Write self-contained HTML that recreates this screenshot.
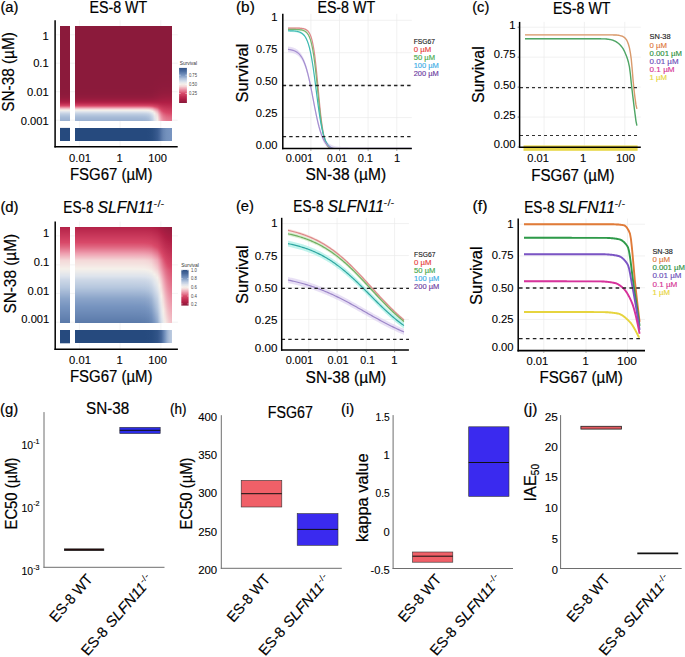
<!DOCTYPE html>
<html><head><meta charset="utf-8"><style>
html,body{margin:0;padding:0;background:#fff;width:685px;height:657px;overflow:hidden}
svg{display:block}
text{font-family:"Liberation Sans",sans-serif}
</style></head><body>
<svg width="685" height="657" viewBox="0 0 685 657">
<rect width="685" height="657" fill="#fff"/>
<line x1="55" y1="34.8" x2="177.7" y2="34.8" stroke="#ebebeb" stroke-width="0.6"/>
<line x1="55" y1="63.2" x2="177.7" y2="63.2" stroke="#ebebeb" stroke-width="0.6"/>
<line x1="55" y1="91.7" x2="177.7" y2="91.7" stroke="#ebebeb" stroke-width="0.6"/>
<line x1="55" y1="120.2" x2="177.7" y2="120.2" stroke="#ebebeb" stroke-width="0.6"/>
<line x1="79.4" y1="20.3" x2="79.4" y2="146.8" stroke="#ebebeb" stroke-width="0.6"/>
<line x1="120.1" y1="20.3" x2="120.1" y2="146.8" stroke="#ebebeb" stroke-width="0.6"/>
<line x1="160.8" y1="20.3" x2="160.8" y2="146.8" stroke="#ebebeb" stroke-width="0.6"/>
<rect x="75" y="25.6" width="97" height="0.4" fill="#8b1a3b" shape-rendering="crispEdges"/>
<rect x="75" y="26" width="97" height="1" fill="#8b1a3b" shape-rendering="crispEdges"/>
<rect x="75" y="27" width="97" height="1" fill="#8b1a3b" shape-rendering="crispEdges"/>
<rect x="75" y="28" width="97" height="1" fill="#8b1a3b" shape-rendering="crispEdges"/>
<rect x="75" y="29" width="97" height="1" fill="#8b1a3b" shape-rendering="crispEdges"/>
<rect x="75" y="30" width="97" height="1" fill="#8b1a3b" shape-rendering="crispEdges"/>
<rect x="75" y="31" width="97" height="1" fill="#8b1a3b" shape-rendering="crispEdges"/>
<rect x="75" y="32" width="97" height="1" fill="#8b1a3b" shape-rendering="crispEdges"/>
<rect x="75" y="33" width="97" height="1" fill="#8b1a3b" shape-rendering="crispEdges"/>
<rect x="75" y="34" width="97" height="1" fill="#8b1a3b" shape-rendering="crispEdges"/>
<rect x="75" y="35" width="97" height="1" fill="#8b1a3b" shape-rendering="crispEdges"/>
<rect x="75" y="36" width="97" height="1" fill="#8b1a3b" shape-rendering="crispEdges"/>
<rect x="75" y="37" width="97" height="1" fill="#8b1a3b" shape-rendering="crispEdges"/>
<rect x="75" y="38" width="97" height="1" fill="#8b1a3b" shape-rendering="crispEdges"/>
<rect x="75" y="39" width="97" height="1" fill="#8b1a3b" shape-rendering="crispEdges"/>
<rect x="75" y="40" width="97" height="1" fill="#8b1a3b" shape-rendering="crispEdges"/>
<rect x="75" y="41" width="97" height="1" fill="#8b1a3b" shape-rendering="crispEdges"/>
<rect x="75" y="42" width="97" height="1" fill="#8b1a3b" shape-rendering="crispEdges"/>
<rect x="75" y="43" width="97" height="1" fill="#8b1a3b" shape-rendering="crispEdges"/>
<rect x="75" y="44" width="97" height="1" fill="#8b1a3b" shape-rendering="crispEdges"/>
<rect x="75" y="45" width="97" height="1" fill="#8b1a3b" shape-rendering="crispEdges"/>
<rect x="75" y="46" width="97" height="1" fill="#8b1a3b" shape-rendering="crispEdges"/>
<rect x="75" y="47" width="97" height="1" fill="#8b1a3b" shape-rendering="crispEdges"/>
<rect x="75" y="48" width="97" height="1" fill="#8b1a3b" shape-rendering="crispEdges"/>
<rect x="75" y="49" width="97" height="1" fill="#8b1a3b" shape-rendering="crispEdges"/>
<rect x="75" y="50" width="97" height="1" fill="#8b1a3b" shape-rendering="crispEdges"/>
<rect x="75" y="51" width="97" height="1" fill="#8b1a3b" shape-rendering="crispEdges"/>
<rect x="75" y="52" width="97" height="1" fill="#8b1a3b" shape-rendering="crispEdges"/>
<rect x="75" y="53" width="97" height="1" fill="#8b1a3b" shape-rendering="crispEdges"/>
<rect x="75" y="54" width="97" height="1" fill="#8b1a3b" shape-rendering="crispEdges"/>
<rect x="75" y="55" width="97" height="1" fill="#8b1a3b" shape-rendering="crispEdges"/>
<rect x="75" y="56" width="97" height="1" fill="#8b1a3b" shape-rendering="crispEdges"/>
<rect x="75" y="57" width="97" height="1" fill="#8b1a3b" shape-rendering="crispEdges"/>
<rect x="75" y="58" width="97" height="1" fill="#8b1a3b" shape-rendering="crispEdges"/>
<rect x="75" y="59" width="97" height="1" fill="#8b1a3b" shape-rendering="crispEdges"/>
<rect x="75" y="60" width="97" height="1" fill="#8b1a3b" shape-rendering="crispEdges"/>
<rect x="75" y="61" width="97" height="1" fill="#8b1a3b" shape-rendering="crispEdges"/>
<rect x="75" y="62" width="97" height="1" fill="#8b1a3b" shape-rendering="crispEdges"/>
<rect x="75" y="63" width="97" height="1" fill="#8b1a3b" shape-rendering="crispEdges"/>
<rect x="75" y="64" width="97" height="1" fill="#8b1a3b" shape-rendering="crispEdges"/>
<rect x="75" y="65" width="97" height="1" fill="#8b1a3b" shape-rendering="crispEdges"/>
<rect x="75" y="66" width="97" height="1" fill="#8b1a3b" shape-rendering="crispEdges"/>
<rect x="75" y="67" width="97" height="1" fill="#8b1a3b" shape-rendering="crispEdges"/>
<rect x="75" y="68" width="97" height="1" fill="#8b1a3b" shape-rendering="crispEdges"/>
<rect x="75" y="69" width="97" height="1" fill="#8b1a3b" shape-rendering="crispEdges"/>
<rect x="75" y="70" width="97" height="1" fill="#8b1a3b" shape-rendering="crispEdges"/>
<rect x="75" y="71" width="97" height="1" fill="#8b1a3b" shape-rendering="crispEdges"/>
<rect x="75" y="72" width="97" height="1" fill="#8b1a3b" shape-rendering="crispEdges"/>
<rect x="75" y="73" width="97" height="1" fill="#8b1a3b" shape-rendering="crispEdges"/>
<rect x="75" y="74" width="97" height="1" fill="#8b1a3b" shape-rendering="crispEdges"/>
<linearGradient id="g1"><stop offset="0" stop-color="#8b1a3b"/><stop offset="0.46" stop-color="#8b1a3b"/><stop offset="0.62" stop-color="#8b1a3b"/><stop offset="0.69" stop-color="#8b1a3b"/><stop offset="0.73" stop-color="#8b1a3b"/><stop offset="0.76" stop-color="#8b1a3b"/><stop offset="0.78" stop-color="#8b1a3b"/><stop offset="0.8" stop-color="#8b1a3b"/><stop offset="0.82" stop-color="#8b1a3b"/><stop offset="0.85" stop-color="#8b1a3b"/><stop offset="0.87" stop-color="#8b1a3b"/><stop offset="0.89" stop-color="#8b1a3b"/><stop offset="0.91" stop-color="#8c1a3b"/><stop offset="0.94" stop-color="#8c1a3b"/><stop offset="0.97" stop-color="#8c1a3b"/><stop offset="1" stop-color="#8c1a3b"/></linearGradient>
<rect x="75" y="75" width="97" height="1" fill="url(#g1)" shape-rendering="crispEdges"/>
<linearGradient id="g2"><stop offset="0" stop-color="#8b1a3b"/><stop offset="0.46" stop-color="#8b1a3b"/><stop offset="0.62" stop-color="#8b1a3b"/><stop offset="0.69" stop-color="#8b1a3b"/><stop offset="0.73" stop-color="#8b1a3b"/><stop offset="0.76" stop-color="#8b1a3b"/><stop offset="0.78" stop-color="#8b1a3b"/><stop offset="0.8" stop-color="#8b1a3b"/><stop offset="0.82" stop-color="#8b1a3b"/><stop offset="0.85" stop-color="#8b1a3b"/><stop offset="0.87" stop-color="#8b1a3b"/><stop offset="0.89" stop-color="#8c1a3b"/><stop offset="0.91" stop-color="#8c1a3b"/><stop offset="0.94" stop-color="#8c1a3b"/><stop offset="0.97" stop-color="#8c1a3b"/><stop offset="1" stop-color="#8c1a3b"/></linearGradient>
<rect x="75" y="76" width="97" height="1" fill="url(#g2)" shape-rendering="crispEdges"/>
<linearGradient id="g3"><stop offset="0" stop-color="#8b1a3b"/><stop offset="0.46" stop-color="#8b1a3b"/><stop offset="0.62" stop-color="#8b1a3b"/><stop offset="0.69" stop-color="#8b1a3b"/><stop offset="0.73" stop-color="#8b1a3b"/><stop offset="0.76" stop-color="#8b1a3b"/><stop offset="0.78" stop-color="#8b1a3b"/><stop offset="0.8" stop-color="#8b1a3b"/><stop offset="0.82" stop-color="#8b1a3b"/><stop offset="0.85" stop-color="#8b1a3b"/><stop offset="0.87" stop-color="#8c1a3b"/><stop offset="0.89" stop-color="#8c1a3b"/><stop offset="0.91" stop-color="#8c1a3b"/><stop offset="0.94" stop-color="#8c1a3b"/><stop offset="0.97" stop-color="#8c1a3b"/><stop offset="1" stop-color="#8c1a3b"/></linearGradient>
<rect x="75" y="77" width="97" height="1" fill="url(#g3)" shape-rendering="crispEdges"/>
<linearGradient id="g4"><stop offset="0" stop-color="#8b1a3b"/><stop offset="0.46" stop-color="#8b1a3b"/><stop offset="0.62" stop-color="#8b1a3b"/><stop offset="0.69" stop-color="#8b1a3b"/><stop offset="0.73" stop-color="#8b1a3b"/><stop offset="0.76" stop-color="#8b1a3b"/><stop offset="0.78" stop-color="#8b1a3b"/><stop offset="0.8" stop-color="#8b1a3b"/><stop offset="0.82" stop-color="#8b1a3b"/><stop offset="0.85" stop-color="#8b1a3b"/><stop offset="0.87" stop-color="#8c1a3b"/><stop offset="0.89" stop-color="#8c1a3b"/><stop offset="0.91" stop-color="#8c1a3b"/><stop offset="0.94" stop-color="#8c1a3b"/><stop offset="0.97" stop-color="#8c1a3b"/><stop offset="1" stop-color="#8c1a3b"/></linearGradient>
<rect x="75" y="78" width="97" height="1" fill="url(#g4)" shape-rendering="crispEdges"/>
<linearGradient id="g5"><stop offset="0" stop-color="#8b1a3b"/><stop offset="0.46" stop-color="#8b1a3b"/><stop offset="0.62" stop-color="#8b1a3b"/><stop offset="0.69" stop-color="#8b1a3b"/><stop offset="0.73" stop-color="#8b1a3b"/><stop offset="0.76" stop-color="#8b1a3b"/><stop offset="0.78" stop-color="#8b1a3b"/><stop offset="0.8" stop-color="#8b1a3b"/><stop offset="0.82" stop-color="#8b1a3b"/><stop offset="0.85" stop-color="#8c1a3b"/><stop offset="0.87" stop-color="#8c1a3b"/><stop offset="0.89" stop-color="#8c1a3b"/><stop offset="0.91" stop-color="#8c1a3b"/><stop offset="0.94" stop-color="#8c1a3b"/><stop offset="0.97" stop-color="#8c1a3b"/><stop offset="1" stop-color="#8c1a3b"/></linearGradient>
<rect x="75" y="79" width="97" height="1" fill="url(#g5)" shape-rendering="crispEdges"/>
<linearGradient id="g6"><stop offset="0" stop-color="#8b1a3b"/><stop offset="0.46" stop-color="#8b1a3b"/><stop offset="0.62" stop-color="#8b1a3b"/><stop offset="0.69" stop-color="#8b1a3b"/><stop offset="0.73" stop-color="#8b1a3b"/><stop offset="0.76" stop-color="#8b1a3b"/><stop offset="0.78" stop-color="#8b1a3b"/><stop offset="0.8" stop-color="#8b1a3b"/><stop offset="0.82" stop-color="#8b1a3b"/><stop offset="0.85" stop-color="#8c1a3b"/><stop offset="0.87" stop-color="#8c1a3b"/><stop offset="0.89" stop-color="#8c1a3b"/><stop offset="0.91" stop-color="#8c1a3b"/><stop offset="0.94" stop-color="#8c1a3b"/><stop offset="0.97" stop-color="#8c1a3b"/><stop offset="1" stop-color="#8c1a3b"/></linearGradient>
<rect x="75" y="80" width="97" height="1" fill="url(#g6)" shape-rendering="crispEdges"/>
<linearGradient id="g7"><stop offset="0" stop-color="#8b1a3b"/><stop offset="0.46" stop-color="#8b1a3b"/><stop offset="0.62" stop-color="#8b1a3b"/><stop offset="0.69" stop-color="#8b1a3b"/><stop offset="0.73" stop-color="#8b1a3b"/><stop offset="0.76" stop-color="#8b1a3b"/><stop offset="0.78" stop-color="#8b1a3b"/><stop offset="0.8" stop-color="#8b1a3b"/><stop offset="0.82" stop-color="#8c1a3b"/><stop offset="0.85" stop-color="#8c1a3b"/><stop offset="0.87" stop-color="#8c1a3b"/><stop offset="0.89" stop-color="#8c1a3b"/><stop offset="0.91" stop-color="#8c1a3b"/><stop offset="0.94" stop-color="#8d1a3b"/><stop offset="0.97" stop-color="#8d1a3b"/><stop offset="1" stop-color="#8d1a3b"/></linearGradient>
<rect x="75" y="81" width="97" height="1" fill="url(#g7)" shape-rendering="crispEdges"/>
<linearGradient id="g8"><stop offset="0" stop-color="#8b1a3b"/><stop offset="0.46" stop-color="#8b1a3b"/><stop offset="0.62" stop-color="#8b1a3b"/><stop offset="0.69" stop-color="#8b1a3b"/><stop offset="0.73" stop-color="#8b1a3b"/><stop offset="0.76" stop-color="#8b1a3b"/><stop offset="0.78" stop-color="#8b1a3b"/><stop offset="0.8" stop-color="#8b1a3b"/><stop offset="0.82" stop-color="#8c1a3b"/><stop offset="0.85" stop-color="#8c1a3b"/><stop offset="0.87" stop-color="#8c1a3b"/><stop offset="0.89" stop-color="#8d1a3b"/><stop offset="0.91" stop-color="#8d1a3b"/><stop offset="0.94" stop-color="#8d1a3b"/><stop offset="0.97" stop-color="#8d1a3b"/><stop offset="1" stop-color="#8d1a3b"/></linearGradient>
<rect x="75" y="82" width="97" height="1" fill="url(#g8)" shape-rendering="crispEdges"/>
<linearGradient id="g9"><stop offset="0" stop-color="#8b1a3b"/><stop offset="0.46" stop-color="#8b1a3b"/><stop offset="0.62" stop-color="#8b1a3b"/><stop offset="0.69" stop-color="#8b1a3b"/><stop offset="0.73" stop-color="#8b1a3b"/><stop offset="0.76" stop-color="#8b1a3b"/><stop offset="0.78" stop-color="#8b1a3b"/><stop offset="0.8" stop-color="#8b1a3b"/><stop offset="0.82" stop-color="#8c1a3b"/><stop offset="0.85" stop-color="#8c1a3b"/><stop offset="0.87" stop-color="#8d1a3b"/><stop offset="0.89" stop-color="#8d1a3b"/><stop offset="0.91" stop-color="#8d1a3c"/><stop offset="0.94" stop-color="#8d1a3c"/><stop offset="0.97" stop-color="#8d1a3c"/><stop offset="1" stop-color="#8d1a3c"/></linearGradient>
<rect x="75" y="83" width="97" height="1" fill="url(#g9)" shape-rendering="crispEdges"/>
<linearGradient id="g10"><stop offset="0" stop-color="#8b1a3b"/><stop offset="0.46" stop-color="#8b1a3b"/><stop offset="0.62" stop-color="#8b1a3b"/><stop offset="0.69" stop-color="#8b1a3b"/><stop offset="0.73" stop-color="#8b1a3b"/><stop offset="0.76" stop-color="#8b1a3b"/><stop offset="0.78" stop-color="#8b1a3b"/><stop offset="0.8" stop-color="#8c1a3b"/><stop offset="0.82" stop-color="#8c1a3b"/><stop offset="0.85" stop-color="#8c1a3b"/><stop offset="0.87" stop-color="#8d1a3b"/><stop offset="0.89" stop-color="#8d1a3c"/><stop offset="0.91" stop-color="#8d1a3c"/><stop offset="0.94" stop-color="#8d1a3c"/><stop offset="0.97" stop-color="#8e1a3c"/><stop offset="1" stop-color="#8e1a3c"/></linearGradient>
<rect x="75" y="84" width="97" height="1" fill="url(#g10)" shape-rendering="crispEdges"/>
<linearGradient id="g11"><stop offset="0" stop-color="#8b1a3b"/><stop offset="0.46" stop-color="#8b1a3b"/><stop offset="0.62" stop-color="#8b1a3b"/><stop offset="0.69" stop-color="#8b1a3b"/><stop offset="0.73" stop-color="#8b1a3b"/><stop offset="0.76" stop-color="#8b1a3b"/><stop offset="0.78" stop-color="#8b1a3b"/><stop offset="0.8" stop-color="#8c1a3b"/><stop offset="0.82" stop-color="#8c1a3b"/><stop offset="0.85" stop-color="#8d1a3b"/><stop offset="0.87" stop-color="#8d1a3c"/><stop offset="0.89" stop-color="#8e1a3c"/><stop offset="0.91" stop-color="#8e1a3c"/><stop offset="0.94" stop-color="#8e1a3c"/><stop offset="0.97" stop-color="#8e1a3c"/><stop offset="1" stop-color="#8e1a3c"/></linearGradient>
<rect x="75" y="85" width="97" height="1" fill="url(#g11)" shape-rendering="crispEdges"/>
<linearGradient id="g12"><stop offset="0" stop-color="#8b1a3b"/><stop offset="0.46" stop-color="#8b1a3b"/><stop offset="0.62" stop-color="#8b1a3b"/><stop offset="0.69" stop-color="#8b1a3b"/><stop offset="0.73" stop-color="#8b1a3b"/><stop offset="0.76" stop-color="#8b1a3b"/><stop offset="0.78" stop-color="#8c1a3b"/><stop offset="0.8" stop-color="#8c1a3b"/><stop offset="0.82" stop-color="#8c1a3b"/><stop offset="0.85" stop-color="#8d1a3c"/><stop offset="0.87" stop-color="#8d1a3c"/><stop offset="0.89" stop-color="#8e1a3c"/><stop offset="0.91" stop-color="#8e1a3c"/><stop offset="0.94" stop-color="#8e1a3c"/><stop offset="0.97" stop-color="#8e1a3c"/><stop offset="1" stop-color="#8e1a3c"/></linearGradient>
<rect x="75" y="86" width="97" height="1" fill="url(#g12)" shape-rendering="crispEdges"/>
<linearGradient id="g13"><stop offset="0" stop-color="#8b1a3b"/><stop offset="0.46" stop-color="#8b1a3b"/><stop offset="0.62" stop-color="#8b1a3b"/><stop offset="0.69" stop-color="#8b1a3b"/><stop offset="0.73" stop-color="#8b1a3b"/><stop offset="0.76" stop-color="#8b1a3b"/><stop offset="0.78" stop-color="#8c1a3b"/><stop offset="0.8" stop-color="#8c1a3b"/><stop offset="0.82" stop-color="#8d1a3b"/><stop offset="0.85" stop-color="#8d1a3c"/><stop offset="0.87" stop-color="#8e1a3c"/><stop offset="0.89" stop-color="#8e1a3c"/><stop offset="0.91" stop-color="#8f1b3c"/><stop offset="0.94" stop-color="#8f1b3c"/><stop offset="0.97" stop-color="#8f1b3c"/><stop offset="1" stop-color="#8f1b3c"/></linearGradient>
<rect x="75" y="87" width="97" height="1" fill="url(#g13)" shape-rendering="crispEdges"/>
<linearGradient id="g14"><stop offset="0" stop-color="#8b1a3b"/><stop offset="0.46" stop-color="#8b1a3b"/><stop offset="0.62" stop-color="#8b1a3b"/><stop offset="0.69" stop-color="#8b1a3b"/><stop offset="0.73" stop-color="#8c1a3b"/><stop offset="0.76" stop-color="#8c1a3b"/><stop offset="0.78" stop-color="#8c1a3b"/><stop offset="0.8" stop-color="#8c1a3b"/><stop offset="0.82" stop-color="#8d1a3b"/><stop offset="0.85" stop-color="#8e1a3c"/><stop offset="0.87" stop-color="#8e1a3c"/><stop offset="0.89" stop-color="#8f1b3c"/><stop offset="0.91" stop-color="#8f1b3c"/><stop offset="0.94" stop-color="#901b3c"/><stop offset="0.97" stop-color="#901b3c"/><stop offset="1" stop-color="#901b3c"/></linearGradient>
<rect x="75" y="88" width="97" height="1" fill="url(#g14)" shape-rendering="crispEdges"/>
<linearGradient id="g15"><stop offset="0" stop-color="#8c1a3b"/><stop offset="0.46" stop-color="#8c1a3b"/><stop offset="0.62" stop-color="#8c1a3b"/><stop offset="0.69" stop-color="#8c1a3b"/><stop offset="0.73" stop-color="#8c1a3b"/><stop offset="0.76" stop-color="#8c1a3b"/><stop offset="0.78" stop-color="#8c1a3b"/><stop offset="0.8" stop-color="#8c1a3b"/><stop offset="0.82" stop-color="#8d1a3c"/><stop offset="0.85" stop-color="#8e1a3c"/><stop offset="0.87" stop-color="#8f1b3c"/><stop offset="0.89" stop-color="#901b3c"/><stop offset="0.91" stop-color="#901b3c"/><stop offset="0.94" stop-color="#911b3c"/><stop offset="0.97" stop-color="#911b3d"/><stop offset="1" stop-color="#911b3d"/></linearGradient>
<rect x="75" y="89" width="97" height="1" fill="url(#g15)" shape-rendering="crispEdges"/>
<linearGradient id="g16"><stop offset="0" stop-color="#8c1a3b"/><stop offset="0.46" stop-color="#8c1a3b"/><stop offset="0.62" stop-color="#8c1a3b"/><stop offset="0.69" stop-color="#8c1a3b"/><stop offset="0.73" stop-color="#8c1a3b"/><stop offset="0.76" stop-color="#8c1a3b"/><stop offset="0.78" stop-color="#8c1a3b"/><stop offset="0.8" stop-color="#8d1a3c"/><stop offset="0.82" stop-color="#8e1a3c"/><stop offset="0.85" stop-color="#8f1b3c"/><stop offset="0.87" stop-color="#901b3c"/><stop offset="0.89" stop-color="#911b3d"/><stop offset="0.91" stop-color="#911b3d"/><stop offset="0.94" stop-color="#911b3d"/><stop offset="0.97" stop-color="#921b3d"/><stop offset="1" stop-color="#921b3d"/></linearGradient>
<rect x="75" y="90" width="97" height="1" fill="url(#g16)" shape-rendering="crispEdges"/>
<linearGradient id="g17"><stop offset="0" stop-color="#8c1a3b"/><stop offset="0.46" stop-color="#8c1a3b"/><stop offset="0.62" stop-color="#8c1a3b"/><stop offset="0.69" stop-color="#8c1a3b"/><stop offset="0.73" stop-color="#8c1a3b"/><stop offset="0.76" stop-color="#8d1a3b"/><stop offset="0.78" stop-color="#8d1a3b"/><stop offset="0.8" stop-color="#8d1a3c"/><stop offset="0.82" stop-color="#8e1a3c"/><stop offset="0.85" stop-color="#901b3c"/><stop offset="0.87" stop-color="#911b3d"/><stop offset="0.89" stop-color="#921b3d"/><stop offset="0.91" stop-color="#921b3d"/><stop offset="0.94" stop-color="#931b3d"/><stop offset="0.97" stop-color="#931b3d"/><stop offset="1" stop-color="#931b3d"/></linearGradient>
<rect x="75" y="91" width="97" height="1" fill="url(#g17)" shape-rendering="crispEdges"/>
<linearGradient id="g18"><stop offset="0" stop-color="#8d1a3b"/><stop offset="0.46" stop-color="#8d1a3b"/><stop offset="0.62" stop-color="#8d1a3b"/><stop offset="0.69" stop-color="#8d1a3b"/><stop offset="0.73" stop-color="#8d1a3b"/><stop offset="0.76" stop-color="#8d1a3c"/><stop offset="0.78" stop-color="#8d1a3c"/><stop offset="0.8" stop-color="#8e1a3c"/><stop offset="0.82" stop-color="#8f1b3c"/><stop offset="0.85" stop-color="#901b3c"/><stop offset="0.87" stop-color="#921b3d"/><stop offset="0.89" stop-color="#931b3d"/><stop offset="0.91" stop-color="#931b3d"/><stop offset="0.94" stop-color="#941b3d"/><stop offset="0.97" stop-color="#941b3d"/><stop offset="1" stop-color="#941b3d"/></linearGradient>
<rect x="75" y="92" width="97" height="1" fill="url(#g18)" shape-rendering="crispEdges"/>
<linearGradient id="g19"><stop offset="0" stop-color="#8d1a3c"/><stop offset="0.46" stop-color="#8d1a3c"/><stop offset="0.62" stop-color="#8d1a3c"/><stop offset="0.69" stop-color="#8d1a3c"/><stop offset="0.73" stop-color="#8e1a3c"/><stop offset="0.76" stop-color="#8e1a3c"/><stop offset="0.78" stop-color="#8e1a3c"/><stop offset="0.8" stop-color="#8f1b3c"/><stop offset="0.82" stop-color="#901b3c"/><stop offset="0.85" stop-color="#921b3d"/><stop offset="0.87" stop-color="#931b3d"/><stop offset="0.89" stop-color="#941b3d"/><stop offset="0.91" stop-color="#951b3e"/><stop offset="0.94" stop-color="#951b3e"/><stop offset="0.97" stop-color="#961b3e"/><stop offset="1" stop-color="#961b3e"/></linearGradient>
<rect x="75" y="93" width="97" height="1" fill="url(#g19)" shape-rendering="crispEdges"/>
<linearGradient id="g20"><stop offset="0" stop-color="#8e1a3c"/><stop offset="0.46" stop-color="#8e1a3c"/><stop offset="0.62" stop-color="#8e1a3c"/><stop offset="0.69" stop-color="#8e1a3c"/><stop offset="0.73" stop-color="#8e1a3c"/><stop offset="0.76" stop-color="#8f1b3c"/><stop offset="0.78" stop-color="#8f1b3c"/><stop offset="0.8" stop-color="#901b3c"/><stop offset="0.82" stop-color="#911b3d"/><stop offset="0.85" stop-color="#931b3d"/><stop offset="0.87" stop-color="#951b3e"/><stop offset="0.89" stop-color="#961b3e"/><stop offset="0.91" stop-color="#971c3e"/><stop offset="0.94" stop-color="#971c3e"/><stop offset="0.97" stop-color="#971c3e"/><stop offset="1" stop-color="#971c3e"/></linearGradient>
<rect x="75" y="94" width="97" height="1" fill="url(#g20)" shape-rendering="crispEdges"/>
<linearGradient id="g21"><stop offset="0" stop-color="#901b3c"/><stop offset="0.46" stop-color="#901b3c"/><stop offset="0.62" stop-color="#901b3c"/><stop offset="0.69" stop-color="#901b3c"/><stop offset="0.73" stop-color="#901b3c"/><stop offset="0.76" stop-color="#901b3c"/><stop offset="0.78" stop-color="#901b3c"/><stop offset="0.8" stop-color="#911b3d"/><stop offset="0.82" stop-color="#931b3d"/><stop offset="0.85" stop-color="#941b3e"/><stop offset="0.87" stop-color="#961c3e"/><stop offset="0.89" stop-color="#981c3e"/><stop offset="0.91" stop-color="#991c3f"/><stop offset="0.94" stop-color="#991c3f"/><stop offset="0.97" stop-color="#991c3f"/><stop offset="1" stop-color="#991c3f"/></linearGradient>
<rect x="75" y="95" width="97" height="1" fill="url(#g21)" shape-rendering="crispEdges"/>
<linearGradient id="g22"><stop offset="0" stop-color="#911b3d"/><stop offset="0.46" stop-color="#911b3d"/><stop offset="0.62" stop-color="#911b3d"/><stop offset="0.69" stop-color="#911b3d"/><stop offset="0.73" stop-color="#921b3d"/><stop offset="0.76" stop-color="#921b3d"/><stop offset="0.78" stop-color="#921b3d"/><stop offset="0.8" stop-color="#931b3d"/><stop offset="0.82" stop-color="#951b3e"/><stop offset="0.85" stop-color="#971c3e"/><stop offset="0.87" stop-color="#981c3f"/><stop offset="0.89" stop-color="#9a1c3f"/><stop offset="0.91" stop-color="#9b1c3f"/><stop offset="0.94" stop-color="#9b1c3f"/><stop offset="0.97" stop-color="#9c1c3f"/><stop offset="1" stop-color="#9c1c3f"/></linearGradient>
<rect x="75" y="96" width="97" height="1" fill="url(#g22)" shape-rendering="crispEdges"/>
<linearGradient id="g23"><stop offset="0" stop-color="#941b3d"/><stop offset="0.46" stop-color="#941b3d"/><stop offset="0.62" stop-color="#941b3d"/><stop offset="0.69" stop-color="#941b3d"/><stop offset="0.73" stop-color="#941b3d"/><stop offset="0.76" stop-color="#941b3e"/><stop offset="0.78" stop-color="#951b3e"/><stop offset="0.8" stop-color="#961b3e"/><stop offset="0.82" stop-color="#971c3e"/><stop offset="0.85" stop-color="#991c3f"/><stop offset="0.87" stop-color="#9b1c3f"/><stop offset="0.89" stop-color="#9c1c40"/><stop offset="0.91" stop-color="#9d1c40"/><stop offset="0.94" stop-color="#9e1d40"/><stop offset="0.97" stop-color="#9e1d40"/><stop offset="1" stop-color="#9e1d40"/></linearGradient>
<rect x="75" y="97" width="97" height="1" fill="url(#g23)" shape-rendering="crispEdges"/>
<linearGradient id="g24"><stop offset="0" stop-color="#971c3e"/><stop offset="0.46" stop-color="#971c3e"/><stop offset="0.62" stop-color="#971c3e"/><stop offset="0.69" stop-color="#971c3e"/><stop offset="0.73" stop-color="#971c3e"/><stop offset="0.76" stop-color="#981c3e"/><stop offset="0.78" stop-color="#981c3f"/><stop offset="0.8" stop-color="#991c3f"/><stop offset="0.82" stop-color="#9a1c3f"/><stop offset="0.85" stop-color="#9c1c40"/><stop offset="0.87" stop-color="#9e1d40"/><stop offset="0.89" stop-color="#9f1d41"/><stop offset="0.91" stop-color="#a01d41"/><stop offset="0.94" stop-color="#a11d41"/><stop offset="0.97" stop-color="#a11d41"/><stop offset="1" stop-color="#a11d41"/></linearGradient>
<rect x="75" y="98" width="97" height="1" fill="url(#g24)" shape-rendering="crispEdges"/>
<linearGradient id="g25"><stop offset="0" stop-color="#9c1c40"/><stop offset="0.46" stop-color="#9c1c40"/><stop offset="0.62" stop-color="#9c1c40"/><stop offset="0.69" stop-color="#9c1c40"/><stop offset="0.73" stop-color="#9c1c40"/><stop offset="0.76" stop-color="#9c1c40"/><stop offset="0.78" stop-color="#9d1c40"/><stop offset="0.8" stop-color="#9d1c40"/><stop offset="0.82" stop-color="#9e1d40"/><stop offset="0.85" stop-color="#a01d41"/><stop offset="0.87" stop-color="#a21d41"/><stop offset="0.89" stop-color="#a31d41"/><stop offset="0.91" stop-color="#a41d42"/><stop offset="0.94" stop-color="#a41d42"/><stop offset="0.97" stop-color="#a41d42"/><stop offset="1" stop-color="#a41d42"/></linearGradient>
<rect x="75" y="99" width="97" height="1" fill="url(#g25)" shape-rendering="crispEdges"/>
<linearGradient id="g26"><stop offset="0" stop-color="#a21d41"/><stop offset="0.46" stop-color="#a21d41"/><stop offset="0.62" stop-color="#a21d41"/><stop offset="0.69" stop-color="#a21d41"/><stop offset="0.73" stop-color="#a21d41"/><stop offset="0.76" stop-color="#a21d41"/><stop offset="0.78" stop-color="#a21d41"/><stop offset="0.8" stop-color="#a31d41"/><stop offset="0.82" stop-color="#a41d42"/><stop offset="0.85" stop-color="#a51d42"/><stop offset="0.87" stop-color="#a61e42"/><stop offset="0.89" stop-color="#a71e43"/><stop offset="0.91" stop-color="#a71e43"/><stop offset="0.94" stop-color="#a81e43"/><stop offset="0.97" stop-color="#a81e43"/><stop offset="1" stop-color="#a81e43"/></linearGradient>
<rect x="75" y="100" width="97" height="1" fill="url(#g26)" shape-rendering="crispEdges"/>
<linearGradient id="g27"><stop offset="0" stop-color="#aa1e43"/><stop offset="0.46" stop-color="#aa1e43"/><stop offset="0.62" stop-color="#aa1e43"/><stop offset="0.69" stop-color="#aa1e43"/><stop offset="0.73" stop-color="#aa1e43"/><stop offset="0.76" stop-color="#aa1e43"/><stop offset="0.78" stop-color="#aa1e43"/><stop offset="0.8" stop-color="#aa1e43"/><stop offset="0.82" stop-color="#aa1e44"/><stop offset="0.85" stop-color="#ab1e44"/><stop offset="0.87" stop-color="#ab1e44"/><stop offset="0.89" stop-color="#ab1e44"/><stop offset="0.91" stop-color="#ac1e44"/><stop offset="0.94" stop-color="#ac1e44"/><stop offset="0.97" stop-color="#ac1e44"/><stop offset="1" stop-color="#ac1e44"/></linearGradient>
<rect x="75" y="101" width="97" height="1" fill="url(#g27)" shape-rendering="crispEdges"/>
<linearGradient id="g28"><stop offset="0" stop-color="#b32248"/><stop offset="0.46" stop-color="#b32248"/><stop offset="0.62" stop-color="#b32248"/><stop offset="0.69" stop-color="#b32248"/><stop offset="0.73" stop-color="#b32248"/><stop offset="0.76" stop-color="#b32248"/><stop offset="0.78" stop-color="#b32247"/><stop offset="0.8" stop-color="#b22247"/><stop offset="0.82" stop-color="#b22147"/><stop offset="0.85" stop-color="#b12146"/><stop offset="0.87" stop-color="#b12046"/><stop offset="0.89" stop-color="#b02045"/><stop offset="0.91" stop-color="#b01f45"/><stop offset="0.94" stop-color="#b01f45"/><stop offset="0.97" stop-color="#b01f45"/><stop offset="1" stop-color="#b01f45"/></linearGradient>
<rect x="75" y="102" width="97" height="1" fill="url(#g28)" shape-rendering="crispEdges"/>
<linearGradient id="g29"><stop offset="0" stop-color="#bc2c50"/><stop offset="0.46" stop-color="#bc2c50"/><stop offset="0.62" stop-color="#bc2c50"/><stop offset="0.69" stop-color="#bc2c50"/><stop offset="0.73" stop-color="#bc2b50"/><stop offset="0.76" stop-color="#bc2b4f"/><stop offset="0.78" stop-color="#bc2b4f"/><stop offset="0.8" stop-color="#bb2a4e"/><stop offset="0.82" stop-color="#b9294d"/><stop offset="0.85" stop-color="#b8274c"/><stop offset="0.87" stop-color="#b6254a"/><stop offset="0.89" stop-color="#b52449"/><stop offset="0.91" stop-color="#b42349"/><stop offset="0.94" stop-color="#b42348"/><stop offset="0.97" stop-color="#b32248"/><stop offset="1" stop-color="#b32248"/></linearGradient>
<rect x="75" y="103" width="97" height="1" fill="url(#g29)" shape-rendering="crispEdges"/>
<linearGradient id="g30"><stop offset="0" stop-color="#c8375a"/><stop offset="0.46" stop-color="#c8375a"/><stop offset="0.62" stop-color="#c8375a"/><stop offset="0.69" stop-color="#c7375a"/><stop offset="0.73" stop-color="#c73759"/><stop offset="0.76" stop-color="#c73659"/><stop offset="0.78" stop-color="#c63658"/><stop offset="0.8" stop-color="#c53457"/><stop offset="0.82" stop-color="#c23255"/><stop offset="0.85" stop-color="#bf2f52"/><stop offset="0.87" stop-color="#bc2b4f"/><stop offset="0.89" stop-color="#ba294d"/><stop offset="0.91" stop-color="#b8274c"/><stop offset="0.94" stop-color="#b7264b"/><stop offset="0.97" stop-color="#b7264b"/><stop offset="1" stop-color="#b7264b"/></linearGradient>
<rect x="75" y="104" width="97" height="1" fill="url(#g30)" shape-rendering="crispEdges"/>
<linearGradient id="g31"><stop offset="0" stop-color="#d54565"/><stop offset="0.46" stop-color="#d54565"/><stop offset="0.62" stop-color="#d54565"/><stop offset="0.69" stop-color="#d54565"/><stop offset="0.73" stop-color="#d44465"/><stop offset="0.76" stop-color="#d44464"/><stop offset="0.78" stop-color="#d24263"/><stop offset="0.8" stop-color="#d04061"/><stop offset="0.82" stop-color="#cd3c5e"/><stop offset="0.85" stop-color="#c8375a"/><stop offset="0.87" stop-color="#c33255"/><stop offset="0.89" stop-color="#bf2e52"/><stop offset="0.91" stop-color="#bd2c50"/><stop offset="0.94" stop-color="#bb2a4f"/><stop offset="0.97" stop-color="#bb2a4e"/><stop offset="1" stop-color="#ba2a4e"/></linearGradient>
<rect x="75" y="105" width="97" height="1" fill="url(#g31)" shape-rendering="crispEdges"/>
<linearGradient id="g32"><stop offset="0" stop-color="#e06781"/><stop offset="0.46" stop-color="#e06781"/><stop offset="0.62" stop-color="#e06781"/><stop offset="0.69" stop-color="#e06781"/><stop offset="0.73" stop-color="#df6680"/><stop offset="0.76" stop-color="#df637e"/><stop offset="0.78" stop-color="#de5e7a"/><stop offset="0.8" stop-color="#db5673"/><stop offset="0.82" stop-color="#d84868"/><stop offset="0.85" stop-color="#d14162"/><stop offset="0.87" stop-color="#ca395b"/><stop offset="0.89" stop-color="#c43457"/><stop offset="0.91" stop-color="#c13154"/><stop offset="0.94" stop-color="#bf2f52"/><stop offset="0.97" stop-color="#be2e52"/><stop offset="1" stop-color="#be2e52"/></linearGradient>
<rect x="75" y="106" width="97" height="1" fill="url(#g32)" shape-rendering="crispEdges"/>
<linearGradient id="g33"><stop offset="0" stop-color="#ea91a4"/><stop offset="0.46" stop-color="#ea91a4"/><stop offset="0.62" stop-color="#ea91a4"/><stop offset="0.69" stop-color="#ea91a4"/><stop offset="0.73" stop-color="#ea90a3"/><stop offset="0.76" stop-color="#e98ca0"/><stop offset="0.78" stop-color="#e8869b"/><stop offset="0.8" stop-color="#e57b92"/><stop offset="0.82" stop-color="#e06882"/><stop offset="0.85" stop-color="#da4e6d"/><stop offset="0.87" stop-color="#d14162"/><stop offset="0.89" stop-color="#ca3a5c"/><stop offset="0.91" stop-color="#c63658"/><stop offset="0.94" stop-color="#c33356"/><stop offset="0.97" stop-color="#c23255"/><stop offset="1" stop-color="#c23255"/></linearGradient>
<rect x="75" y="107" width="97" height="1" fill="url(#g33)" shape-rendering="crispEdges"/>
<linearGradient id="g34"><stop offset="0" stop-color="#f1bac3"/><stop offset="0.46" stop-color="#f1bac3"/><stop offset="0.62" stop-color="#f1bac3"/><stop offset="0.69" stop-color="#f1bac3"/><stop offset="0.73" stop-color="#f1b9c2"/><stop offset="0.76" stop-color="#f0b4be"/><stop offset="0.78" stop-color="#efadba"/><stop offset="0.8" stop-color="#eea0b0"/><stop offset="0.82" stop-color="#e8889d"/><stop offset="0.85" stop-color="#e06983"/><stop offset="0.87" stop-color="#d84a69"/><stop offset="0.89" stop-color="#d04061"/><stop offset="0.91" stop-color="#cb3b5d"/><stop offset="0.94" stop-color="#c8375a"/><stop offset="0.97" stop-color="#c63659"/><stop offset="1" stop-color="#c63658"/></linearGradient>
<rect x="75" y="108" width="97" height="1" fill="url(#g34)" shape-rendering="crispEdges"/>
<linearGradient id="g35"><stop offset="0" stop-color="#f4dedd"/><stop offset="0.46" stop-color="#f4dedd"/><stop offset="0.62" stop-color="#f4dedc"/><stop offset="0.69" stop-color="#f4dedc"/><stop offset="0.73" stop-color="#f4dcdb"/><stop offset="0.76" stop-color="#f4d9d9"/><stop offset="0.78" stop-color="#f3d1d3"/><stop offset="0.8" stop-color="#f2c2c8"/><stop offset="0.82" stop-color="#efa7b5"/><stop offset="0.85" stop-color="#e78298"/><stop offset="0.87" stop-color="#dd5d79"/><stop offset="0.89" stop-color="#d64666"/><stop offset="0.91" stop-color="#d03f61"/><stop offset="0.94" stop-color="#cc3b5d"/><stop offset="0.97" stop-color="#ca3a5c"/><stop offset="1" stop-color="#ca3a5c"/></linearGradient>
<rect x="75" y="109" width="97" height="1" fill="url(#g35)" shape-rendering="crispEdges"/>
<linearGradient id="g36"><stop offset="0" stop-color="#f1eeea"/><stop offset="0.46" stop-color="#f1eeea"/><stop offset="0.62" stop-color="#f1eeea"/><stop offset="0.69" stop-color="#f1eeea"/><stop offset="0.73" stop-color="#f2eeea"/><stop offset="0.76" stop-color="#f5f0ea"/><stop offset="0.78" stop-color="#f5eae5"/><stop offset="0.8" stop-color="#f4dddc"/><stop offset="0.82" stop-color="#f2c2c8"/><stop offset="0.85" stop-color="#ec9aab"/><stop offset="0.87" stop-color="#e27089"/><stop offset="0.89" stop-color="#da506f"/><stop offset="0.91" stop-color="#d44465"/><stop offset="0.94" stop-color="#d04061"/><stop offset="0.97" stop-color="#ce3e5f"/><stop offset="1" stop-color="#ce3e5f"/></linearGradient>
<rect x="75" y="110" width="97" height="1" fill="url(#g36)" shape-rendering="crispEdges"/>
<linearGradient id="g37"><stop offset="0" stop-color="#e2e6ec"/><stop offset="0.46" stop-color="#e2e6ec"/><stop offset="0.62" stop-color="#e3e6ec"/><stop offset="0.69" stop-color="#e3e6ec"/><stop offset="0.73" stop-color="#e4e7eb"/><stop offset="0.76" stop-color="#e7e8eb"/><stop offset="0.78" stop-color="#ecebeb"/><stop offset="0.8" stop-color="#f5efea"/><stop offset="0.82" stop-color="#f4d9d9"/><stop offset="0.85" stop-color="#efaeba"/><stop offset="0.87" stop-color="#e68096"/><stop offset="0.89" stop-color="#dd5e7a"/><stop offset="0.91" stop-color="#d84969"/><stop offset="0.94" stop-color="#d44364"/><stop offset="0.97" stop-color="#d24263"/><stop offset="1" stop-color="#d14162"/></linearGradient>
<rect x="75" y="111" width="97" height="1" fill="url(#g37)" shape-rendering="crispEdges"/>
<linearGradient id="g38"><stop offset="0" stop-color="#d4dce9"/><stop offset="0.46" stop-color="#d4dce9"/><stop offset="0.62" stop-color="#d4dce9"/><stop offset="0.69" stop-color="#d4dde9"/><stop offset="0.73" stop-color="#d6dee9"/><stop offset="0.76" stop-color="#dbe1eb"/><stop offset="0.78" stop-color="#e1e5ec"/><stop offset="0.8" stop-color="#ebeaeb"/><stop offset="0.82" stop-color="#f5e6e3"/><stop offset="0.85" stop-color="#f1bec6"/><stop offset="0.87" stop-color="#ea8fa2"/><stop offset="0.89" stop-color="#e16a84"/><stop offset="0.91" stop-color="#db5472"/><stop offset="0.94" stop-color="#d74767"/><stop offset="0.97" stop-color="#d54566"/><stop offset="1" stop-color="#d54565"/></linearGradient>
<rect x="75" y="112" width="97" height="1" fill="url(#g38)" shape-rendering="crispEdges"/>
<linearGradient id="g39"><stop offset="0" stop-color="#c6d3e4"/><stop offset="0.46" stop-color="#c6d3e4"/><stop offset="0.62" stop-color="#c6d3e4"/><stop offset="0.69" stop-color="#c7d3e4"/><stop offset="0.73" stop-color="#c8d4e5"/><stop offset="0.76" stop-color="#cdd8e6"/><stop offset="0.78" stop-color="#d5dde9"/><stop offset="0.8" stop-color="#e2e6ec"/><stop offset="0.82" stop-color="#f4efea"/><stop offset="0.85" stop-color="#f3ccd0"/><stop offset="0.87" stop-color="#ed9bac"/><stop offset="0.89" stop-color="#e3758d"/><stop offset="0.91" stop-color="#de5e7a"/><stop offset="0.94" stop-color="#da4f6e"/><stop offset="0.97" stop-color="#d94a6a"/><stop offset="1" stop-color="#d84969"/></linearGradient>
<rect x="75" y="113" width="97" height="1" fill="url(#g39)" shape-rendering="crispEdges"/>
<linearGradient id="g40"><stop offset="0" stop-color="#bccbe0"/><stop offset="0.46" stop-color="#bccbe0"/><stop offset="0.62" stop-color="#bccbe0"/><stop offset="0.69" stop-color="#bccbe0"/><stop offset="0.73" stop-color="#becde1"/><stop offset="0.76" stop-color="#c3d0e3"/><stop offset="0.78" stop-color="#cbd6e6"/><stop offset="0.8" stop-color="#dbe1eb"/><stop offset="0.82" stop-color="#eeeceb"/><stop offset="0.85" stop-color="#f4d8d8"/><stop offset="0.87" stop-color="#efa6b4"/><stop offset="0.89" stop-color="#e67f95"/><stop offset="0.91" stop-color="#e06782"/><stop offset="0.94" stop-color="#dc5875"/><stop offset="0.97" stop-color="#db5371"/><stop offset="1" stop-color="#da516f"/></linearGradient>
<rect x="75" y="114" width="97" height="1" fill="url(#g40)" shape-rendering="crispEdges"/>
<linearGradient id="g41"><stop offset="0" stop-color="#b3c5dd"/><stop offset="0.46" stop-color="#b3c5dd"/><stop offset="0.62" stop-color="#b3c5dd"/><stop offset="0.69" stop-color="#b4c5dd"/><stop offset="0.73" stop-color="#b6c7de"/><stop offset="0.76" stop-color="#bbcbe0"/><stop offset="0.78" stop-color="#c3d1e3"/><stop offset="0.8" stop-color="#d3dce8"/><stop offset="0.82" stop-color="#e9e9eb"/><stop offset="0.85" stop-color="#f4dedd"/><stop offset="0.87" stop-color="#f0aeba"/><stop offset="0.89" stop-color="#e8879c"/><stop offset="0.91" stop-color="#e27088"/><stop offset="0.94" stop-color="#de607b"/><stop offset="0.97" stop-color="#dd5a77"/><stop offset="1" stop-color="#dc5976"/></linearGradient>
<rect x="75" y="115" width="97" height="1" fill="url(#g41)" shape-rendering="crispEdges"/>
<linearGradient id="g42"><stop offset="0" stop-color="#acbfd9"/><stop offset="0.46" stop-color="#acbfd9"/><stop offset="0.62" stop-color="#acbfd9"/><stop offset="0.69" stop-color="#acbfd9"/><stop offset="0.73" stop-color="#aec1da"/><stop offset="0.76" stop-color="#b5c6dd"/><stop offset="0.78" stop-color="#bdcce1"/><stop offset="0.8" stop-color="#cdd8e6"/><stop offset="0.82" stop-color="#e5e7eb"/><stop offset="0.85" stop-color="#f4e4e1"/><stop offset="0.87" stop-color="#f0b6c0"/><stop offset="0.89" stop-color="#ea8fa2"/><stop offset="0.91" stop-color="#e4778e"/><stop offset="0.94" stop-color="#e06781"/><stop offset="0.97" stop-color="#de627d"/><stop offset="1" stop-color="#de607c"/></linearGradient>
<rect x="75" y="116" width="97" height="1" fill="url(#g42)" shape-rendering="crispEdges"/>
<linearGradient id="g43"><stop offset="0" stop-color="#a6bad6"/><stop offset="0.46" stop-color="#a6bad6"/><stop offset="0.62" stop-color="#a6bad6"/><stop offset="0.69" stop-color="#a7bbd7"/><stop offset="0.73" stop-color="#a9bcd8"/><stop offset="0.76" stop-color="#afc2db"/><stop offset="0.78" stop-color="#b9c9df"/><stop offset="0.8" stop-color="#c9d5e5"/><stop offset="0.82" stop-color="#e2e6ec"/><stop offset="0.85" stop-color="#f5e8e4"/><stop offset="0.87" stop-color="#f1bcc4"/><stop offset="0.89" stop-color="#eb95a7"/><stop offset="0.91" stop-color="#e57d93"/><stop offset="0.94" stop-color="#e16d86"/><stop offset="0.97" stop-color="#e06882"/><stop offset="1" stop-color="#e06681"/></linearGradient>
<rect x="75" y="117" width="97" height="1" fill="url(#g43)" shape-rendering="crispEdges"/>
<linearGradient id="g44"><stop offset="0" stop-color="#a2b7d4"/><stop offset="0.46" stop-color="#a2b7d4"/><stop offset="0.62" stop-color="#a2b7d4"/><stop offset="0.69" stop-color="#a2b7d5"/><stop offset="0.73" stop-color="#a5b9d6"/><stop offset="0.76" stop-color="#abbed9"/><stop offset="0.78" stop-color="#b6c7de"/><stop offset="0.8" stop-color="#c6d2e4"/><stop offset="0.82" stop-color="#dfe4ec"/><stop offset="0.85" stop-color="#f5ebe7"/><stop offset="0.87" stop-color="#f2c1c8"/><stop offset="0.89" stop-color="#ed9bac"/><stop offset="0.91" stop-color="#e78398"/><stop offset="0.94" stop-color="#e3738b"/><stop offset="0.97" stop-color="#e16e87"/><stop offset="1" stop-color="#e16c85"/></linearGradient>
<rect x="75" y="118" width="97" height="1" fill="url(#g44)" shape-rendering="crispEdges"/>
<linearGradient id="g45"><stop offset="0" stop-color="#9fb4d3"/><stop offset="0.46" stop-color="#9fb4d3"/><stop offset="0.62" stop-color="#9fb4d3"/><stop offset="0.69" stop-color="#9fb5d3"/><stop offset="0.73" stop-color="#a2b7d4"/><stop offset="0.76" stop-color="#a8bcd7"/><stop offset="0.78" stop-color="#b3c4dc"/><stop offset="0.8" stop-color="#c3d0e3"/><stop offset="0.82" stop-color="#dde3ec"/><stop offset="0.85" stop-color="#f5eee9"/><stop offset="0.87" stop-color="#f2c6cb"/><stop offset="0.89" stop-color="#eea0b0"/><stop offset="0.91" stop-color="#e8889c"/><stop offset="0.94" stop-color="#e4788f"/><stop offset="0.97" stop-color="#e3738b"/><stop offset="1" stop-color="#e2718a"/></linearGradient>
<rect x="75" y="119" width="97" height="1" fill="url(#g45)" shape-rendering="crispEdges"/>
<linearGradient id="g46"><stop offset="0" stop-color="#9db3d2"/><stop offset="0.46" stop-color="#9db3d2"/><stop offset="0.62" stop-color="#9db3d2"/><stop offset="0.69" stop-color="#9db3d2"/><stop offset="0.73" stop-color="#a0b5d3"/><stop offset="0.76" stop-color="#a6bad6"/><stop offset="0.78" stop-color="#b0c2db"/><stop offset="0.8" stop-color="#c1cfe2"/><stop offset="0.82" stop-color="#dce2ec"/><stop offset="0.85" stop-color="#f5f0ea"/><stop offset="0.87" stop-color="#f2c9cd"/><stop offset="0.89" stop-color="#eea3b2"/><stop offset="0.91" stop-color="#e98c9f"/><stop offset="0.94" stop-color="#e57c92"/><stop offset="0.97" stop-color="#e4778e"/><stop offset="1" stop-color="#e3758d"/></linearGradient>
<rect x="75" y="120" width="97" height="0.8" fill="url(#g46)" shape-rendering="crispEdges"/>
<rect x="60" y="25.6" width="10" height="0.4" fill="#8b1a3b" shape-rendering="crispEdges"/>
<rect x="60" y="26" width="10" height="1" fill="#8b1a3b" shape-rendering="crispEdges"/>
<rect x="60" y="27" width="10" height="1" fill="#8b1a3b" shape-rendering="crispEdges"/>
<rect x="60" y="28" width="10" height="1" fill="#8b1a3b" shape-rendering="crispEdges"/>
<rect x="60" y="29" width="10" height="1" fill="#8b1a3b" shape-rendering="crispEdges"/>
<rect x="60" y="30" width="10" height="1" fill="#8b1a3b" shape-rendering="crispEdges"/>
<rect x="60" y="31" width="10" height="1" fill="#8b1a3b" shape-rendering="crispEdges"/>
<rect x="60" y="32" width="10" height="1" fill="#8b1a3b" shape-rendering="crispEdges"/>
<rect x="60" y="33" width="10" height="1" fill="#8b1a3b" shape-rendering="crispEdges"/>
<rect x="60" y="34" width="10" height="1" fill="#8b1a3b" shape-rendering="crispEdges"/>
<rect x="60" y="35" width="10" height="1" fill="#8b1a3b" shape-rendering="crispEdges"/>
<rect x="60" y="36" width="10" height="1" fill="#8b1a3b" shape-rendering="crispEdges"/>
<rect x="60" y="37" width="10" height="1" fill="#8b1a3b" shape-rendering="crispEdges"/>
<rect x="60" y="38" width="10" height="1" fill="#8b1a3b" shape-rendering="crispEdges"/>
<rect x="60" y="39" width="10" height="1" fill="#8b1a3b" shape-rendering="crispEdges"/>
<rect x="60" y="40" width="10" height="1" fill="#8b1a3b" shape-rendering="crispEdges"/>
<rect x="60" y="41" width="10" height="1" fill="#8b1a3b" shape-rendering="crispEdges"/>
<rect x="60" y="42" width="10" height="1" fill="#8b1a3b" shape-rendering="crispEdges"/>
<rect x="60" y="43" width="10" height="1" fill="#8b1a3b" shape-rendering="crispEdges"/>
<rect x="60" y="44" width="10" height="1" fill="#8b1a3b" shape-rendering="crispEdges"/>
<rect x="60" y="45" width="10" height="1" fill="#8b1a3b" shape-rendering="crispEdges"/>
<rect x="60" y="46" width="10" height="1" fill="#8b1a3b" shape-rendering="crispEdges"/>
<rect x="60" y="47" width="10" height="1" fill="#8b1a3b" shape-rendering="crispEdges"/>
<rect x="60" y="48" width="10" height="1" fill="#8b1a3b" shape-rendering="crispEdges"/>
<rect x="60" y="49" width="10" height="1" fill="#8b1a3b" shape-rendering="crispEdges"/>
<rect x="60" y="50" width="10" height="1" fill="#8b1a3b" shape-rendering="crispEdges"/>
<rect x="60" y="51" width="10" height="1" fill="#8b1a3b" shape-rendering="crispEdges"/>
<rect x="60" y="52" width="10" height="1" fill="#8b1a3b" shape-rendering="crispEdges"/>
<rect x="60" y="53" width="10" height="1" fill="#8b1a3b" shape-rendering="crispEdges"/>
<rect x="60" y="54" width="10" height="1" fill="#8b1a3b" shape-rendering="crispEdges"/>
<rect x="60" y="55" width="10" height="1" fill="#8b1a3b" shape-rendering="crispEdges"/>
<rect x="60" y="56" width="10" height="1" fill="#8b1a3b" shape-rendering="crispEdges"/>
<rect x="60" y="57" width="10" height="1" fill="#8b1a3b" shape-rendering="crispEdges"/>
<rect x="60" y="58" width="10" height="1" fill="#8b1a3b" shape-rendering="crispEdges"/>
<rect x="60" y="59" width="10" height="1" fill="#8b1a3b" shape-rendering="crispEdges"/>
<rect x="60" y="60" width="10" height="1" fill="#8b1a3b" shape-rendering="crispEdges"/>
<rect x="60" y="61" width="10" height="1" fill="#8b1a3b" shape-rendering="crispEdges"/>
<rect x="60" y="62" width="10" height="1" fill="#8b1a3b" shape-rendering="crispEdges"/>
<rect x="60" y="63" width="10" height="1" fill="#8b1a3b" shape-rendering="crispEdges"/>
<rect x="60" y="64" width="10" height="1" fill="#8b1a3b" shape-rendering="crispEdges"/>
<rect x="60" y="65" width="10" height="1" fill="#8b1a3b" shape-rendering="crispEdges"/>
<rect x="60" y="66" width="10" height="1" fill="#8b1a3b" shape-rendering="crispEdges"/>
<rect x="60" y="67" width="10" height="1" fill="#8b1a3b" shape-rendering="crispEdges"/>
<rect x="60" y="68" width="10" height="1" fill="#8b1a3b" shape-rendering="crispEdges"/>
<rect x="60" y="69" width="10" height="1" fill="#8b1a3b" shape-rendering="crispEdges"/>
<rect x="60" y="70" width="10" height="1" fill="#8b1a3b" shape-rendering="crispEdges"/>
<rect x="60" y="71" width="10" height="1" fill="#8b1a3b" shape-rendering="crispEdges"/>
<rect x="60" y="72" width="10" height="1" fill="#8b1a3b" shape-rendering="crispEdges"/>
<rect x="60" y="73" width="10" height="1" fill="#8b1a3b" shape-rendering="crispEdges"/>
<rect x="60" y="74" width="10" height="1" fill="#8b1a3b" shape-rendering="crispEdges"/>
<rect x="60" y="75" width="10" height="1" fill="#8b1a3b" shape-rendering="crispEdges"/>
<rect x="60" y="76" width="10" height="1" fill="#8b1a3b" shape-rendering="crispEdges"/>
<rect x="60" y="77" width="10" height="1" fill="#8b1a3b" shape-rendering="crispEdges"/>
<rect x="60" y="78" width="10" height="1" fill="#8b1a3b" shape-rendering="crispEdges"/>
<rect x="60" y="79" width="10" height="1" fill="#8b1a3b" shape-rendering="crispEdges"/>
<rect x="60" y="80" width="10" height="1" fill="#8b1a3b" shape-rendering="crispEdges"/>
<rect x="60" y="81" width="10" height="1" fill="#8b1a3b" shape-rendering="crispEdges"/>
<rect x="60" y="82" width="10" height="1" fill="#8b1a3b" shape-rendering="crispEdges"/>
<rect x="60" y="83" width="10" height="1" fill="#8b1a3b" shape-rendering="crispEdges"/>
<rect x="60" y="84" width="10" height="1" fill="#8b1a3b" shape-rendering="crispEdges"/>
<rect x="60" y="85" width="10" height="1" fill="#8b1a3b" shape-rendering="crispEdges"/>
<rect x="60" y="86" width="10" height="1" fill="#8b1a3b" shape-rendering="crispEdges"/>
<rect x="60" y="87" width="10" height="1" fill="#8b1a3b" shape-rendering="crispEdges"/>
<rect x="60" y="88" width="10" height="1" fill="#8b1a3b" shape-rendering="crispEdges"/>
<rect x="60" y="89" width="10" height="1" fill="#8c1a3b" shape-rendering="crispEdges"/>
<rect x="60" y="90" width="10" height="1" fill="#8c1a3b" shape-rendering="crispEdges"/>
<rect x="60" y="91" width="10" height="1" fill="#8c1a3b" shape-rendering="crispEdges"/>
<rect x="60" y="92" width="10" height="1" fill="#8d1a3b" shape-rendering="crispEdges"/>
<rect x="60" y="93" width="10" height="1" fill="#8d1a3c" shape-rendering="crispEdges"/>
<rect x="60" y="94" width="10" height="1" fill="#8e1a3c" shape-rendering="crispEdges"/>
<rect x="60" y="95" width="10" height="1" fill="#901b3c" shape-rendering="crispEdges"/>
<rect x="60" y="96" width="10" height="1" fill="#911b3d" shape-rendering="crispEdges"/>
<rect x="60" y="97" width="10" height="1" fill="#941b3d" shape-rendering="crispEdges"/>
<rect x="60" y="98" width="10" height="1" fill="#971c3e" shape-rendering="crispEdges"/>
<rect x="60" y="99" width="10" height="1" fill="#9c1c40" shape-rendering="crispEdges"/>
<rect x="60" y="100" width="10" height="1" fill="#a21d41" shape-rendering="crispEdges"/>
<rect x="60" y="101" width="10" height="1" fill="#aa1e43" shape-rendering="crispEdges"/>
<rect x="60" y="102" width="10" height="1" fill="#b32248" shape-rendering="crispEdges"/>
<rect x="60" y="103" width="10" height="1" fill="#bc2c50" shape-rendering="crispEdges"/>
<rect x="60" y="104" width="10" height="1" fill="#c8375a" shape-rendering="crispEdges"/>
<rect x="60" y="105" width="10" height="1" fill="#d54565" shape-rendering="crispEdges"/>
<rect x="60" y="106" width="10" height="1" fill="#e06781" shape-rendering="crispEdges"/>
<rect x="60" y="107" width="10" height="1" fill="#ea91a4" shape-rendering="crispEdges"/>
<rect x="60" y="108" width="10" height="1" fill="#f1bac3" shape-rendering="crispEdges"/>
<rect x="60" y="109" width="10" height="1" fill="#f4dedd" shape-rendering="crispEdges"/>
<rect x="60" y="110" width="10" height="1" fill="#f1eeea" shape-rendering="crispEdges"/>
<rect x="60" y="111" width="10" height="1" fill="#e2e6ec" shape-rendering="crispEdges"/>
<rect x="60" y="112" width="10" height="1" fill="#d4dce9" shape-rendering="crispEdges"/>
<rect x="60" y="113" width="10" height="1" fill="#c6d3e4" shape-rendering="crispEdges"/>
<rect x="60" y="114" width="10" height="1" fill="#bccbe0" shape-rendering="crispEdges"/>
<rect x="60" y="115" width="10" height="1" fill="#b3c5dd" shape-rendering="crispEdges"/>
<rect x="60" y="116" width="10" height="1" fill="#acbfd9" shape-rendering="crispEdges"/>
<rect x="60" y="117" width="10" height="1" fill="#a6bad6" shape-rendering="crispEdges"/>
<rect x="60" y="118" width="10" height="1" fill="#a2b7d4" shape-rendering="crispEdges"/>
<rect x="60" y="119" width="10" height="1" fill="#9fb4d3" shape-rendering="crispEdges"/>
<rect x="60" y="120" width="10" height="0.8" fill="#9db3d2" shape-rendering="crispEdges"/>
<linearGradient id="g47"><stop offset="0" stop-color="#264a7e"/><stop offset="0.46" stop-color="#264a7e"/><stop offset="0.62" stop-color="#264a7e"/><stop offset="0.69" stop-color="#264a7e"/><stop offset="0.73" stop-color="#264a7e"/><stop offset="0.76" stop-color="#274b7f"/><stop offset="0.78" stop-color="#284c80"/><stop offset="0.8" stop-color="#2b4f82"/><stop offset="0.82" stop-color="#305387"/><stop offset="0.85" stop-color="#395b8f"/><stop offset="0.87" stop-color="#456699"/><stop offset="0.89" stop-color="#5877a7"/><stop offset="0.91" stop-color="#6785b3"/><stop offset="0.94" stop-color="#7290bb"/><stop offset="0.97" stop-color="#7693bf"/><stop offset="1" stop-color="#7794c0"/></linearGradient>
<rect x="75" y="127.9" width="97" height="0.1" fill="url(#g47)" shape-rendering="crispEdges"/>
<linearGradient id="g48"><stop offset="0" stop-color="#264a7e"/><stop offset="0.46" stop-color="#264a7e"/><stop offset="0.62" stop-color="#264a7e"/><stop offset="0.69" stop-color="#264a7e"/><stop offset="0.73" stop-color="#264a7e"/><stop offset="0.76" stop-color="#274b7f"/><stop offset="0.78" stop-color="#284c80"/><stop offset="0.8" stop-color="#2b4f82"/><stop offset="0.82" stop-color="#305387"/><stop offset="0.85" stop-color="#395b8f"/><stop offset="0.87" stop-color="#456699"/><stop offset="0.89" stop-color="#5877a7"/><stop offset="0.91" stop-color="#6785b3"/><stop offset="0.94" stop-color="#7290bb"/><stop offset="0.97" stop-color="#7693bf"/><stop offset="1" stop-color="#7794c0"/></linearGradient>
<rect x="75" y="128" width="97" height="13" fill="url(#g48)" shape-rendering="crispEdges"/>
<rect x="60" y="127.9" width="10" height="13.1" fill="#264a7e"/>
<line x1="55.1" y1="20.3" x2="55.1" y2="147.5" stroke="#000" stroke-width="1.5"/>
<line x1="54.4" y1="146.8" x2="177.7" y2="146.8" stroke="#000" stroke-width="1.5"/>
<text x="179.7" y="65" font-size="5.2" fill="#333" textLength="17.3" lengthAdjust="spacingAndGlyphs">Survival</text>
<linearGradient id="g49" x1="0" y1="0" x2="0" y2="1"><stop offset="0" stop-color="#335689"/><stop offset="0.03" stop-color="#395b8e"/><stop offset="0.05" stop-color="#3f6094"/><stop offset="0.07" stop-color="#456699"/><stop offset="0.1" stop-color="#4d6ea0"/><stop offset="0.12" stop-color="#5777a7"/><stop offset="0.15" stop-color="#6180af"/><stop offset="0.17" stop-color="#6b89b6"/><stop offset="0.2" stop-color="#7593be"/><stop offset="0.23" stop-color="#839ec5"/><stop offset="0.25" stop-color="#92aacd"/><stop offset="0.28" stop-color="#a1b6d4"/><stop offset="0.3" stop-color="#b0c2db"/><stop offset="0.33" stop-color="#bdcce0"/><stop offset="0.35" stop-color="#c8d4e5"/><stop offset="0.38" stop-color="#d4dde9"/><stop offset="0.4" stop-color="#dfe4ec"/><stop offset="0.42" stop-color="#e7e8eb"/><stop offset="0.45" stop-color="#efedea"/><stop offset="0.47" stop-color="#f5ece7"/><stop offset="0.5" stop-color="#f4e1df"/><stop offset="0.53" stop-color="#f4d4d5"/><stop offset="0.55" stop-color="#f2c3c9"/><stop offset="0.57" stop-color="#f0b3bd"/><stop offset="0.6" stop-color="#eea2b1"/><stop offset="0.62" stop-color="#ea90a3"/><stop offset="0.65" stop-color="#e67f95"/><stop offset="0.68" stop-color="#e16d86"/><stop offset="0.7" stop-color="#dd5c78"/><stop offset="0.72" stop-color="#d84a6a"/><stop offset="0.75" stop-color="#d24263"/><stop offset="0.78" stop-color="#cc3c5d"/><stop offset="0.8" stop-color="#c63558"/><stop offset="0.82" stop-color="#bf2f52"/><stop offset="0.85" stop-color="#b9284d"/><stop offset="0.88" stop-color="#b22147"/><stop offset="0.9" stop-color="#aa1e43"/><stop offset="0.93" stop-color="#a21d41"/><stop offset="0.95" stop-color="#991c3f"/><stop offset="0.97" stop-color="#901b3c"/><stop offset="1" stop-color="#8b1a3b"/></linearGradient>
<rect x="179.1" y="67.9" width="7.8" height="35.1" fill="url(#g49)"/>
<line x1="179.1" y1="75.2" x2="180.6" y2="75.2" stroke="#fff" stroke-width="0.5"/>
<line x1="185.4" y1="75.2" x2="186.9" y2="75.2" stroke="#fff" stroke-width="0.5"/>
<text x="188.9" y="76.9" font-size="4.6" fill="#444" textLength="8.1" lengthAdjust="spacingAndGlyphs">0.75</text>
<line x1="179.1" y1="84.3" x2="180.6" y2="84.3" stroke="#fff" stroke-width="0.5"/>
<line x1="185.4" y1="84.3" x2="186.9" y2="84.3" stroke="#fff" stroke-width="0.5"/>
<text x="188.9" y="86" font-size="4.6" fill="#444" textLength="8.1" lengthAdjust="spacingAndGlyphs">0.50</text>
<line x1="179.1" y1="93.5" x2="180.6" y2="93.5" stroke="#fff" stroke-width="0.5"/>
<line x1="185.4" y1="93.5" x2="186.9" y2="93.5" stroke="#fff" stroke-width="0.5"/>
<text x="188.9" y="95.2" font-size="4.6" fill="#444" textLength="8.1" lengthAdjust="spacingAndGlyphs">0.25</text>
<text x="48.7" y="40.1" font-size="11.2" text-anchor="end" stroke="#000" stroke-width="0.1">1</text>
<text x="48.7" y="66.6" font-size="11.2" text-anchor="end" stroke="#000" stroke-width="0.1">0.1</text>
<text x="48.7" y="95.9" font-size="11.2" text-anchor="end" stroke="#000" stroke-width="0.1">0.01</text>
<text x="48.7" y="125.2" font-size="11.2" text-anchor="end" stroke="#000" stroke-width="0.1">0.001</text>
<text x="80" y="162" font-size="11.2" text-anchor="middle" stroke="#000" stroke-width="0.1">0.01</text>
<text x="119.5" y="162" font-size="11.2" text-anchor="middle" stroke="#000" stroke-width="0.1">1</text>
<text x="157.7" y="162" font-size="11.2" text-anchor="middle" stroke="#000" stroke-width="0.1">100</text>
<text x="69.9" y="180.1" font-size="16" stroke="#000" stroke-width="0.2" textLength="82.6" lengthAdjust="spacingAndGlyphs">FSG67 (µM)</text>
<text x="14.4" y="111.8" font-size="16" stroke="#000" stroke-width="0.2" textLength="79.7" lengthAdjust="spacingAndGlyphs" transform="rotate(-90 14.4 111.8)">SN-38 (µM)</text>
<text x="0.4" y="12.1" font-size="14" stroke="#000" stroke-width="0.2" textLength="18" lengthAdjust="spacingAndGlyphs">(a)</text>
<text x="89.55" y="12.8" font-size="16" stroke="#000" stroke-width="0.2" textLength="57.6" lengthAdjust="spacingAndGlyphs">ES-8 WT</text>
<line x1="55" y1="235.9" x2="177.9" y2="235.9" stroke="#ebebeb" stroke-width="0.6"/>
<line x1="55" y1="264.9" x2="177.9" y2="264.9" stroke="#ebebeb" stroke-width="0.6"/>
<line x1="55" y1="293.4" x2="177.9" y2="293.4" stroke="#ebebeb" stroke-width="0.6"/>
<line x1="55" y1="322.2" x2="177.9" y2="322.2" stroke="#ebebeb" stroke-width="0.6"/>
<line x1="79.4" y1="221.5" x2="79.4" y2="349.3" stroke="#ebebeb" stroke-width="0.6"/>
<line x1="120.1" y1="221.5" x2="120.1" y2="349.3" stroke="#ebebeb" stroke-width="0.6"/>
<line x1="160.9" y1="221.5" x2="160.9" y2="349.3" stroke="#ebebeb" stroke-width="0.6"/>
<linearGradient id="g50"><stop offset="0" stop-color="#b42349"/><stop offset="0.36" stop-color="#b42349"/><stop offset="0.57" stop-color="#b42349"/><stop offset="0.67" stop-color="#b42349"/><stop offset="0.72" stop-color="#b42349"/><stop offset="0.76" stop-color="#b32348"/><stop offset="0.79" stop-color="#b22147"/><stop offset="0.82" stop-color="#b01f45"/><stop offset="0.85" stop-color="#ad1f44"/><stop offset="0.87" stop-color="#a91e43"/><stop offset="0.89" stop-color="#a41d42"/><stop offset="0.91" stop-color="#9f1d40"/><stop offset="0.93" stop-color="#9b1c3f"/><stop offset="0.95" stop-color="#981c3f"/><stop offset="0.97" stop-color="#971c3e"/><stop offset="1" stop-color="#951b3e"/></linearGradient>
<rect x="75" y="227" width="97" height="1" fill="url(#g50)" shape-rendering="crispEdges"/>
<linearGradient id="g51"><stop offset="0" stop-color="#b7264b"/><stop offset="0.36" stop-color="#b7264b"/><stop offset="0.57" stop-color="#b7264b"/><stop offset="0.67" stop-color="#b7264b"/><stop offset="0.72" stop-color="#b6264b"/><stop offset="0.76" stop-color="#b6254a"/><stop offset="0.79" stop-color="#b52449"/><stop offset="0.82" stop-color="#b22147"/><stop offset="0.85" stop-color="#b01f45"/><stop offset="0.87" stop-color="#ab1e44"/><stop offset="0.89" stop-color="#a61e42"/><stop offset="0.91" stop-color="#a11d41"/><stop offset="0.93" stop-color="#9d1c40"/><stop offset="0.95" stop-color="#9b1c3f"/><stop offset="0.97" stop-color="#991c3f"/><stop offset="1" stop-color="#971c3e"/></linearGradient>
<rect x="75" y="228" width="97" height="1" fill="url(#g51)" shape-rendering="crispEdges"/>
<linearGradient id="g52"><stop offset="0" stop-color="#b9284d"/><stop offset="0.36" stop-color="#b9284d"/><stop offset="0.57" stop-color="#b9284d"/><stop offset="0.67" stop-color="#b9284d"/><stop offset="0.72" stop-color="#b9284d"/><stop offset="0.76" stop-color="#b8274c"/><stop offset="0.79" stop-color="#b7264b"/><stop offset="0.82" stop-color="#b52449"/><stop offset="0.85" stop-color="#b22147"/><stop offset="0.87" stop-color="#ae1f44"/><stop offset="0.89" stop-color="#a91e43"/><stop offset="0.91" stop-color="#a41d42"/><stop offset="0.93" stop-color="#a01d41"/><stop offset="0.95" stop-color="#9d1c40"/><stop offset="0.97" stop-color="#9b1c3f"/><stop offset="1" stop-color="#991c3f"/></linearGradient>
<rect x="75" y="229" width="97" height="1" fill="url(#g52)" shape-rendering="crispEdges"/>
<linearGradient id="g53"><stop offset="0" stop-color="#bc2b4f"/><stop offset="0.36" stop-color="#bc2b4f"/><stop offset="0.57" stop-color="#bb2b4f"/><stop offset="0.67" stop-color="#bb2b4f"/><stop offset="0.72" stop-color="#bb2a4f"/><stop offset="0.76" stop-color="#bb2a4e"/><stop offset="0.79" stop-color="#b9284d"/><stop offset="0.82" stop-color="#b7264b"/><stop offset="0.85" stop-color="#b42349"/><stop offset="0.87" stop-color="#b12046"/><stop offset="0.89" stop-color="#ab1e44"/><stop offset="0.91" stop-color="#a61e42"/><stop offset="0.93" stop-color="#a21d41"/><stop offset="0.95" stop-color="#9f1d40"/><stop offset="0.97" stop-color="#9d1c40"/><stop offset="1" stop-color="#9b1c3f"/></linearGradient>
<rect x="75" y="230" width="97" height="1" fill="url(#g53)" shape-rendering="crispEdges"/>
<linearGradient id="g54"><stop offset="0" stop-color="#be2d51"/><stop offset="0.36" stop-color="#be2d51"/><stop offset="0.57" stop-color="#be2d51"/><stop offset="0.67" stop-color="#be2d51"/><stop offset="0.72" stop-color="#be2d51"/><stop offset="0.76" stop-color="#bd2c50"/><stop offset="0.79" stop-color="#bc2b4f"/><stop offset="0.82" stop-color="#b9284d"/><stop offset="0.85" stop-color="#b6254a"/><stop offset="0.87" stop-color="#b32247"/><stop offset="0.89" stop-color="#ae1f44"/><stop offset="0.91" stop-color="#a91e43"/><stop offset="0.93" stop-color="#a41d42"/><stop offset="0.95" stop-color="#a11d41"/><stop offset="0.97" stop-color="#9f1d40"/><stop offset="1" stop-color="#9d1c40"/></linearGradient>
<rect x="75" y="231" width="97" height="1" fill="url(#g54)" shape-rendering="crispEdges"/>
<linearGradient id="g55"><stop offset="0" stop-color="#c03053"/><stop offset="0.36" stop-color="#c03053"/><stop offset="0.57" stop-color="#c03053"/><stop offset="0.67" stop-color="#c03053"/><stop offset="0.72" stop-color="#c02f53"/><stop offset="0.76" stop-color="#bf2f52"/><stop offset="0.79" stop-color="#be2d51"/><stop offset="0.82" stop-color="#bb2a4f"/><stop offset="0.85" stop-color="#b8284c"/><stop offset="0.87" stop-color="#b52449"/><stop offset="0.89" stop-color="#b01f45"/><stop offset="0.91" stop-color="#ab1e44"/><stop offset="0.93" stop-color="#a61e42"/><stop offset="0.95" stop-color="#a31d42"/><stop offset="0.97" stop-color="#a11d41"/><stop offset="1" stop-color="#9f1d40"/></linearGradient>
<rect x="75" y="232" width="97" height="1" fill="url(#g55)" shape-rendering="crispEdges"/>
<linearGradient id="g56"><stop offset="0" stop-color="#c33255"/><stop offset="0.36" stop-color="#c33255"/><stop offset="0.57" stop-color="#c33255"/><stop offset="0.67" stop-color="#c33255"/><stop offset="0.72" stop-color="#c23255"/><stop offset="0.76" stop-color="#c23154"/><stop offset="0.79" stop-color="#c03053"/><stop offset="0.82" stop-color="#bd2d51"/><stop offset="0.85" stop-color="#ba2a4e"/><stop offset="0.87" stop-color="#b7264b"/><stop offset="0.89" stop-color="#b22147"/><stop offset="0.91" stop-color="#ae1f44"/><stop offset="0.93" stop-color="#a91e43"/><stop offset="0.95" stop-color="#a51e42"/><stop offset="0.97" stop-color="#a31d41"/><stop offset="1" stop-color="#a11d41"/></linearGradient>
<rect x="75" y="233" width="97" height="1" fill="url(#g56)" shape-rendering="crispEdges"/>
<linearGradient id="g57"><stop offset="0" stop-color="#c53557"/><stop offset="0.36" stop-color="#c53557"/><stop offset="0.57" stop-color="#c53557"/><stop offset="0.67" stop-color="#c53457"/><stop offset="0.72" stop-color="#c53457"/><stop offset="0.76" stop-color="#c43356"/><stop offset="0.79" stop-color="#c33255"/><stop offset="0.82" stop-color="#c02f53"/><stop offset="0.85" stop-color="#bd2c50"/><stop offset="0.87" stop-color="#b9284d"/><stop offset="0.89" stop-color="#b42349"/><stop offset="0.91" stop-color="#b01f45"/><stop offset="0.93" stop-color="#ab1e44"/><stop offset="0.95" stop-color="#a71e43"/><stop offset="0.97" stop-color="#a51e42"/><stop offset="1" stop-color="#a31d42"/></linearGradient>
<rect x="75" y="234" width="97" height="1" fill="url(#g57)" shape-rendering="crispEdges"/>
<linearGradient id="g58"><stop offset="0" stop-color="#c7375a"/><stop offset="0.36" stop-color="#c7375a"/><stop offset="0.57" stop-color="#c7375a"/><stop offset="0.67" stop-color="#c73759"/><stop offset="0.72" stop-color="#c73759"/><stop offset="0.76" stop-color="#c63658"/><stop offset="0.79" stop-color="#c53457"/><stop offset="0.82" stop-color="#c23155"/><stop offset="0.85" stop-color="#bf2e52"/><stop offset="0.87" stop-color="#bb2a4e"/><stop offset="0.89" stop-color="#b6254a"/><stop offset="0.91" stop-color="#b22146"/><stop offset="0.93" stop-color="#ad1f44"/><stop offset="0.95" stop-color="#aa1e43"/><stop offset="0.97" stop-color="#a71e43"/><stop offset="1" stop-color="#a51e42"/></linearGradient>
<rect x="75" y="235" width="97" height="1" fill="url(#g58)" shape-rendering="crispEdges"/>
<linearGradient id="g59"><stop offset="0" stop-color="#ca395c"/><stop offset="0.36" stop-color="#ca395c"/><stop offset="0.57" stop-color="#ca395c"/><stop offset="0.67" stop-color="#ca395c"/><stop offset="0.72" stop-color="#c9395b"/><stop offset="0.76" stop-color="#c9385b"/><stop offset="0.79" stop-color="#c73759"/><stop offset="0.82" stop-color="#c43457"/><stop offset="0.85" stop-color="#c13054"/><stop offset="0.87" stop-color="#bd2c50"/><stop offset="0.89" stop-color="#b8274c"/><stop offset="0.91" stop-color="#b32248"/><stop offset="0.93" stop-color="#b01f45"/><stop offset="0.95" stop-color="#ac1e44"/><stop offset="0.97" stop-color="#a91e43"/><stop offset="1" stop-color="#a71e43"/></linearGradient>
<rect x="75" y="236" width="97" height="1" fill="url(#g59)" shape-rendering="crispEdges"/>
<linearGradient id="g60"><stop offset="0" stop-color="#cc3c5e"/><stop offset="0.36" stop-color="#cc3c5e"/><stop offset="0.57" stop-color="#cc3c5e"/><stop offset="0.67" stop-color="#cc3c5e"/><stop offset="0.72" stop-color="#cc3c5d"/><stop offset="0.76" stop-color="#cb3b5d"/><stop offset="0.79" stop-color="#c9395b"/><stop offset="0.82" stop-color="#c63659"/><stop offset="0.85" stop-color="#c33256"/><stop offset="0.87" stop-color="#bf2e52"/><stop offset="0.89" stop-color="#ba294e"/><stop offset="0.91" stop-color="#b5244a"/><stop offset="0.93" stop-color="#b12046"/><stop offset="0.95" stop-color="#ae1f44"/><stop offset="0.97" stop-color="#ab1e44"/><stop offset="1" stop-color="#a91e43"/></linearGradient>
<rect x="75" y="237" width="97" height="1" fill="url(#g60)" shape-rendering="crispEdges"/>
<linearGradient id="g61"><stop offset="0" stop-color="#cf3e60"/><stop offset="0.36" stop-color="#cf3e60"/><stop offset="0.57" stop-color="#cf3e60"/><stop offset="0.67" stop-color="#cf3e60"/><stop offset="0.72" stop-color="#ce3e5f"/><stop offset="0.76" stop-color="#cd3d5f"/><stop offset="0.79" stop-color="#cc3b5d"/><stop offset="0.82" stop-color="#c9385a"/><stop offset="0.85" stop-color="#c53557"/><stop offset="0.87" stop-color="#c13054"/><stop offset="0.89" stop-color="#bc2b4f"/><stop offset="0.91" stop-color="#b7264b"/><stop offset="0.93" stop-color="#b32248"/><stop offset="0.95" stop-color="#b01f45"/><stop offset="0.97" stop-color="#ad1f44"/><stop offset="1" stop-color="#ab1e44"/></linearGradient>
<rect x="75" y="238" width="97" height="1" fill="url(#g61)" shape-rendering="crispEdges"/>
<linearGradient id="g62"><stop offset="0" stop-color="#d14162"/><stop offset="0.36" stop-color="#d14162"/><stop offset="0.57" stop-color="#d14162"/><stop offset="0.67" stop-color="#d14162"/><stop offset="0.72" stop-color="#d14061"/><stop offset="0.76" stop-color="#d03f61"/><stop offset="0.79" stop-color="#ce3e5f"/><stop offset="0.82" stop-color="#cb3a5c"/><stop offset="0.85" stop-color="#c73759"/><stop offset="0.87" stop-color="#c33255"/><stop offset="0.89" stop-color="#be2d51"/><stop offset="0.91" stop-color="#b9284d"/><stop offset="0.93" stop-color="#b52449"/><stop offset="0.95" stop-color="#b22146"/><stop offset="0.97" stop-color="#af1f45"/><stop offset="1" stop-color="#ad1f44"/></linearGradient>
<rect x="75" y="239" width="97" height="1" fill="url(#g62)" shape-rendering="crispEdges"/>
<linearGradient id="g63"><stop offset="0" stop-color="#d34364"/><stop offset="0.36" stop-color="#d34364"/><stop offset="0.57" stop-color="#d34364"/><stop offset="0.67" stop-color="#d34364"/><stop offset="0.72" stop-color="#d34364"/><stop offset="0.76" stop-color="#d24263"/><stop offset="0.79" stop-color="#d04061"/><stop offset="0.82" stop-color="#cd3d5e"/><stop offset="0.85" stop-color="#c9395b"/><stop offset="0.87" stop-color="#c53457"/><stop offset="0.89" stop-color="#bf2f52"/><stop offset="0.91" stop-color="#ba2a4e"/><stop offset="0.93" stop-color="#b6254a"/><stop offset="0.95" stop-color="#b32248"/><stop offset="0.97" stop-color="#b12046"/><stop offset="1" stop-color="#af1f45"/></linearGradient>
<rect x="75" y="240" width="97" height="1" fill="url(#g63)" shape-rendering="crispEdges"/>
<linearGradient id="g64"><stop offset="0" stop-color="#d64666"/><stop offset="0.36" stop-color="#d64666"/><stop offset="0.57" stop-color="#d64666"/><stop offset="0.67" stop-color="#d64666"/><stop offset="0.72" stop-color="#d54566"/><stop offset="0.76" stop-color="#d44465"/><stop offset="0.79" stop-color="#d34363"/><stop offset="0.82" stop-color="#cf3f60"/><stop offset="0.85" stop-color="#cb3b5d"/><stop offset="0.87" stop-color="#c73659"/><stop offset="0.89" stop-color="#c13154"/><stop offset="0.91" stop-color="#bc2b50"/><stop offset="0.93" stop-color="#b8274c"/><stop offset="0.95" stop-color="#b52449"/><stop offset="0.97" stop-color="#b32247"/><stop offset="1" stop-color="#b12046"/></linearGradient>
<rect x="75" y="241" width="97" height="1" fill="url(#g64)" shape-rendering="crispEdges"/>
<linearGradient id="g65"><stop offset="0" stop-color="#d84868"/><stop offset="0.36" stop-color="#d84868"/><stop offset="0.57" stop-color="#d84868"/><stop offset="0.67" stop-color="#d84868"/><stop offset="0.72" stop-color="#d84868"/><stop offset="0.76" stop-color="#d74767"/><stop offset="0.79" stop-color="#d54565"/><stop offset="0.82" stop-color="#d14162"/><stop offset="0.85" stop-color="#ce3d5f"/><stop offset="0.87" stop-color="#c9385b"/><stop offset="0.89" stop-color="#c33356"/><stop offset="0.91" stop-color="#be2d51"/><stop offset="0.93" stop-color="#b9294d"/><stop offset="0.95" stop-color="#b6254a"/><stop offset="0.97" stop-color="#b42349"/><stop offset="1" stop-color="#b22147"/></linearGradient>
<rect x="75" y="242" width="97" height="1" fill="url(#g65)" shape-rendering="crispEdges"/>
<linearGradient id="g66"><stop offset="0" stop-color="#da4f6e"/><stop offset="0.36" stop-color="#da4f6e"/><stop offset="0.57" stop-color="#da4f6e"/><stop offset="0.67" stop-color="#da4f6d"/><stop offset="0.72" stop-color="#d94e6d"/><stop offset="0.76" stop-color="#d94b6a"/><stop offset="0.79" stop-color="#d74767"/><stop offset="0.82" stop-color="#d44464"/><stop offset="0.85" stop-color="#d04061"/><stop offset="0.87" stop-color="#cb3a5c"/><stop offset="0.89" stop-color="#c53557"/><stop offset="0.91" stop-color="#c02f53"/><stop offset="0.93" stop-color="#bb2a4f"/><stop offset="0.95" stop-color="#b8274c"/><stop offset="0.97" stop-color="#b6254a"/><stop offset="1" stop-color="#b42348"/></linearGradient>
<rect x="75" y="243" width="97" height="1" fill="url(#g66)" shape-rendering="crispEdges"/>
<linearGradient id="g67"><stop offset="0" stop-color="#db5673"/><stop offset="0.36" stop-color="#db5673"/><stop offset="0.57" stop-color="#db5673"/><stop offset="0.67" stop-color="#db5573"/><stop offset="0.72" stop-color="#db5472"/><stop offset="0.76" stop-color="#da5170"/><stop offset="0.79" stop-color="#d94c6c"/><stop offset="0.82" stop-color="#d64666"/><stop offset="0.85" stop-color="#d24263"/><stop offset="0.87" stop-color="#cd3c5e"/><stop offset="0.89" stop-color="#c73659"/><stop offset="0.91" stop-color="#c13154"/><stop offset="0.93" stop-color="#bd2c50"/><stop offset="0.95" stop-color="#b9294d"/><stop offset="0.97" stop-color="#b7264b"/><stop offset="1" stop-color="#b5244a"/></linearGradient>
<rect x="75" y="244" width="97" height="1" fill="url(#g67)" shape-rendering="crispEdges"/>
<linearGradient id="g68"><stop offset="0" stop-color="#dd5c78"/><stop offset="0.36" stop-color="#dd5c78"/><stop offset="0.57" stop-color="#dd5c78"/><stop offset="0.67" stop-color="#dd5c78"/><stop offset="0.72" stop-color="#dd5b77"/><stop offset="0.76" stop-color="#dc5875"/><stop offset="0.79" stop-color="#db5371"/><stop offset="0.82" stop-color="#d84868"/><stop offset="0.85" stop-color="#d44464"/><stop offset="0.87" stop-color="#cf3e60"/><stop offset="0.89" stop-color="#c9385b"/><stop offset="0.91" stop-color="#c33356"/><stop offset="0.93" stop-color="#be2e52"/><stop offset="0.95" stop-color="#bb2a4f"/><stop offset="0.97" stop-color="#b9284d"/><stop offset="1" stop-color="#b7264b"/></linearGradient>
<rect x="75" y="245" width="97" height="1" fill="url(#g68)" shape-rendering="crispEdges"/>
<linearGradient id="g69"><stop offset="0" stop-color="#df637e"/><stop offset="0.36" stop-color="#df637e"/><stop offset="0.57" stop-color="#df637e"/><stop offset="0.67" stop-color="#df627e"/><stop offset="0.72" stop-color="#de617d"/><stop offset="0.76" stop-color="#de5e7a"/><stop offset="0.79" stop-color="#dc5976"/><stop offset="0.82" stop-color="#da4e6d"/><stop offset="0.85" stop-color="#d64666"/><stop offset="0.87" stop-color="#d14162"/><stop offset="0.89" stop-color="#cb3a5c"/><stop offset="0.91" stop-color="#c53457"/><stop offset="0.93" stop-color="#c02f53"/><stop offset="0.95" stop-color="#bc2c50"/><stop offset="0.97" stop-color="#ba294e"/><stop offset="1" stop-color="#b8274c"/></linearGradient>
<rect x="75" y="246" width="97" height="1" fill="url(#g69)" shape-rendering="crispEdges"/>
<linearGradient id="g70"><stop offset="0" stop-color="#e16b84"/><stop offset="0.36" stop-color="#e16b84"/><stop offset="0.57" stop-color="#e16b84"/><stop offset="0.67" stop-color="#e16a84"/><stop offset="0.72" stop-color="#e06983"/><stop offset="0.76" stop-color="#e06681"/><stop offset="0.79" stop-color="#de617c"/><stop offset="0.82" stop-color="#db5573"/><stop offset="0.85" stop-color="#d84a69"/><stop offset="0.87" stop-color="#d34364"/><stop offset="0.89" stop-color="#cd3c5e"/><stop offset="0.91" stop-color="#c73659"/><stop offset="0.93" stop-color="#c23154"/><stop offset="0.95" stop-color="#be2d51"/><stop offset="0.97" stop-color="#bc2b4f"/><stop offset="1" stop-color="#ba294d"/></linearGradient>
<rect x="75" y="247" width="97" height="1" fill="url(#g70)" shape-rendering="crispEdges"/>
<linearGradient id="g71"><stop offset="0" stop-color="#e3738b"/><stop offset="0.36" stop-color="#e3738b"/><stop offset="0.57" stop-color="#e3738b"/><stop offset="0.67" stop-color="#e3738b"/><stop offset="0.72" stop-color="#e2728a"/><stop offset="0.76" stop-color="#e26f88"/><stop offset="0.79" stop-color="#e06983"/><stop offset="0.82" stop-color="#dd5d79"/><stop offset="0.85" stop-color="#da516f"/><stop offset="0.87" stop-color="#d54566"/><stop offset="0.89" stop-color="#cf3f60"/><stop offset="0.91" stop-color="#c9385b"/><stop offset="0.93" stop-color="#c33356"/><stop offset="0.95" stop-color="#c02f53"/><stop offset="0.97" stop-color="#bd2d51"/><stop offset="1" stop-color="#bb2a4f"/></linearGradient>
<rect x="75" y="248" width="97" height="1" fill="url(#g71)" shape-rendering="crispEdges"/>
<linearGradient id="g72"><stop offset="0" stop-color="#e57c92"/><stop offset="0.36" stop-color="#e57c92"/><stop offset="0.57" stop-color="#e57c92"/><stop offset="0.67" stop-color="#e57c92"/><stop offset="0.72" stop-color="#e57a91"/><stop offset="0.76" stop-color="#e4778f"/><stop offset="0.79" stop-color="#e2718a"/><stop offset="0.82" stop-color="#df6580"/><stop offset="0.85" stop-color="#dc5875"/><stop offset="0.87" stop-color="#d84868"/><stop offset="0.89" stop-color="#d14162"/><stop offset="0.91" stop-color="#cb3a5c"/><stop offset="0.93" stop-color="#c53558"/><stop offset="0.95" stop-color="#c13154"/><stop offset="0.97" stop-color="#bf2e52"/><stop offset="1" stop-color="#bd2c50"/></linearGradient>
<rect x="75" y="249" width="97" height="1" fill="url(#g72)" shape-rendering="crispEdges"/>
<linearGradient id="g73"><stop offset="0" stop-color="#e7859a"/><stop offset="0.36" stop-color="#e7859a"/><stop offset="0.57" stop-color="#e7859a"/><stop offset="0.67" stop-color="#e78499"/><stop offset="0.72" stop-color="#e78398"/><stop offset="0.76" stop-color="#e68096"/><stop offset="0.79" stop-color="#e47a91"/><stop offset="0.82" stop-color="#e16d86"/><stop offset="0.85" stop-color="#de607c"/><stop offset="0.87" stop-color="#da4f6d"/><stop offset="0.89" stop-color="#d34364"/><stop offset="0.91" stop-color="#cd3c5e"/><stop offset="0.93" stop-color="#c73759"/><stop offset="0.95" stop-color="#c33356"/><stop offset="0.97" stop-color="#c03053"/><stop offset="1" stop-color="#be2d51"/></linearGradient>
<rect x="75" y="250" width="97" height="1" fill="url(#g73)" shape-rendering="crispEdges"/>
<linearGradient id="g74"><stop offset="0" stop-color="#e98da1"/><stop offset="0.36" stop-color="#e98da1"/><stop offset="0.57" stop-color="#e98da1"/><stop offset="0.67" stop-color="#e98da0"/><stop offset="0.72" stop-color="#e98c9f"/><stop offset="0.76" stop-color="#e8889d"/><stop offset="0.79" stop-color="#e68297"/><stop offset="0.82" stop-color="#e3758d"/><stop offset="0.85" stop-color="#e06782"/><stop offset="0.87" stop-color="#db5573"/><stop offset="0.89" stop-color="#d64666"/><stop offset="0.91" stop-color="#cf3e60"/><stop offset="0.93" stop-color="#c9395b"/><stop offset="0.95" stop-color="#c53457"/><stop offset="0.97" stop-color="#c23155"/><stop offset="1" stop-color="#c02f53"/></linearGradient>
<rect x="75" y="251" width="97" height="1" fill="url(#g74)" shape-rendering="crispEdges"/>
<linearGradient id="g75"><stop offset="0" stop-color="#ec96a8"/><stop offset="0.36" stop-color="#ec96a8"/><stop offset="0.57" stop-color="#eb96a8"/><stop offset="0.67" stop-color="#eb96a7"/><stop offset="0.72" stop-color="#eb94a6"/><stop offset="0.76" stop-color="#ea91a4"/><stop offset="0.79" stop-color="#e98a9e"/><stop offset="0.82" stop-color="#e57d93"/><stop offset="0.85" stop-color="#e26f88"/><stop offset="0.87" stop-color="#dd5c79"/><stop offset="0.89" stop-color="#d84868"/><stop offset="0.91" stop-color="#d14062"/><stop offset="0.93" stop-color="#cb3a5c"/><stop offset="0.95" stop-color="#c63659"/><stop offset="0.97" stop-color="#c33356"/><stop offset="1" stop-color="#c13154"/></linearGradient>
<rect x="75" y="252" width="97" height="1" fill="url(#g75)" shape-rendering="crispEdges"/>
<linearGradient id="g76"><stop offset="0" stop-color="#ee9faf"/><stop offset="0.36" stop-color="#ee9faf"/><stop offset="0.57" stop-color="#ee9faf"/><stop offset="0.67" stop-color="#ee9eaf"/><stop offset="0.72" stop-color="#ed9dad"/><stop offset="0.76" stop-color="#ec99aa"/><stop offset="0.79" stop-color="#eb92a5"/><stop offset="0.82" stop-color="#e7859a"/><stop offset="0.85" stop-color="#e4768e"/><stop offset="0.87" stop-color="#df637e"/><stop offset="0.89" stop-color="#d94e6d"/><stop offset="0.91" stop-color="#d34263"/><stop offset="0.93" stop-color="#cc3c5e"/><stop offset="0.95" stop-color="#c8385a"/><stop offset="0.97" stop-color="#c53557"/><stop offset="1" stop-color="#c33255"/></linearGradient>
<rect x="75" y="253" width="97" height="1" fill="url(#g76)" shape-rendering="crispEdges"/>
<linearGradient id="g77"><stop offset="0" stop-color="#efa7b5"/><stop offset="0.36" stop-color="#efa7b5"/><stop offset="0.57" stop-color="#efa7b5"/><stop offset="0.67" stop-color="#efa7b5"/><stop offset="0.72" stop-color="#efa5b4"/><stop offset="0.76" stop-color="#eea2b1"/><stop offset="0.79" stop-color="#ed9bac"/><stop offset="0.82" stop-color="#e98da0"/><stop offset="0.85" stop-color="#e57d94"/><stop offset="0.87" stop-color="#e06a84"/><stop offset="0.89" stop-color="#db5472"/><stop offset="0.91" stop-color="#d54565"/><stop offset="0.93" stop-color="#ce3e5f"/><stop offset="0.95" stop-color="#ca395b"/><stop offset="0.97" stop-color="#c73659"/><stop offset="1" stop-color="#c43457"/></linearGradient>
<rect x="75" y="254" width="97" height="1" fill="url(#g77)" shape-rendering="crispEdges"/>
<linearGradient id="g78"><stop offset="0" stop-color="#f0afbb"/><stop offset="0.36" stop-color="#f0afbb"/><stop offset="0.57" stop-color="#f0afbb"/><stop offset="0.67" stop-color="#f0afbb"/><stop offset="0.72" stop-color="#efaeba"/><stop offset="0.76" stop-color="#efaab7"/><stop offset="0.79" stop-color="#eea3b2"/><stop offset="0.82" stop-color="#eb94a7"/><stop offset="0.85" stop-color="#e7859a"/><stop offset="0.87" stop-color="#e27189"/><stop offset="0.89" stop-color="#dd5a77"/><stop offset="0.91" stop-color="#d74767"/><stop offset="0.93" stop-color="#d04061"/><stop offset="0.95" stop-color="#cb3b5d"/><stop offset="0.97" stop-color="#c8385a"/><stop offset="1" stop-color="#c63558"/></linearGradient>
<rect x="75" y="255" width="97" height="1" fill="url(#g78)" shape-rendering="crispEdges"/>
<linearGradient id="g79"><stop offset="0" stop-color="#f1b8c1"/><stop offset="0.36" stop-color="#f1b8c1"/><stop offset="0.57" stop-color="#f1b8c1"/><stop offset="0.67" stop-color="#f0b7c1"/><stop offset="0.72" stop-color="#f0b6c0"/><stop offset="0.76" stop-color="#f0b2bd"/><stop offset="0.79" stop-color="#efabb8"/><stop offset="0.82" stop-color="#ed9cad"/><stop offset="0.85" stop-color="#e98ca0"/><stop offset="0.87" stop-color="#e4778f"/><stop offset="0.89" stop-color="#de607c"/><stop offset="0.91" stop-color="#d84a69"/><stop offset="0.93" stop-color="#d24263"/><stop offset="0.95" stop-color="#cd3d5e"/><stop offset="0.97" stop-color="#ca395b"/><stop offset="1" stop-color="#c73759"/></linearGradient>
<rect x="75" y="256" width="97" height="1" fill="url(#g79)" shape-rendering="crispEdges"/>
<linearGradient id="g80"><stop offset="0" stop-color="#f1c0c7"/><stop offset="0.36" stop-color="#f1c0c7"/><stop offset="0.57" stop-color="#f1c0c7"/><stop offset="0.67" stop-color="#f1bfc6"/><stop offset="0.72" stop-color="#f1bec5"/><stop offset="0.76" stop-color="#f1bac3"/><stop offset="0.79" stop-color="#f0b3bd"/><stop offset="0.82" stop-color="#eea4b3"/><stop offset="0.85" stop-color="#eb94a6"/><stop offset="0.87" stop-color="#e67e94"/><stop offset="0.89" stop-color="#e06681"/><stop offset="0.91" stop-color="#da4f6e"/><stop offset="0.93" stop-color="#d44464"/><stop offset="0.95" stop-color="#cf3e60"/><stop offset="0.97" stop-color="#cb3b5d"/><stop offset="1" stop-color="#c8385a"/></linearGradient>
<rect x="75" y="257" width="97" height="1" fill="url(#g80)" shape-rendering="crispEdges"/>
<linearGradient id="g81"><stop offset="0" stop-color="#f2c8cd"/><stop offset="0.36" stop-color="#f2c8cd"/><stop offset="0.57" stop-color="#f2c8cd"/><stop offset="0.67" stop-color="#f2c8cc"/><stop offset="0.72" stop-color="#f2c6cb"/><stop offset="0.76" stop-color="#f2c2c8"/><stop offset="0.79" stop-color="#f1bbc3"/><stop offset="0.82" stop-color="#efabb8"/><stop offset="0.85" stop-color="#ed9bac"/><stop offset="0.87" stop-color="#e7859a"/><stop offset="0.89" stop-color="#e16c86"/><stop offset="0.91" stop-color="#db5572"/><stop offset="0.93" stop-color="#d54566"/><stop offset="0.95" stop-color="#d04061"/><stop offset="0.97" stop-color="#cd3d5e"/><stop offset="1" stop-color="#ca3a5c"/></linearGradient>
<rect x="75" y="258" width="97" height="1" fill="url(#g81)" shape-rendering="crispEdges"/>
<linearGradient id="g82"><stop offset="0" stop-color="#f3d1d3"/><stop offset="0.36" stop-color="#f3d1d3"/><stop offset="0.57" stop-color="#f3d1d3"/><stop offset="0.67" stop-color="#f3d0d2"/><stop offset="0.72" stop-color="#f3cfd1"/><stop offset="0.76" stop-color="#f3cace"/><stop offset="0.79" stop-color="#f2c3c9"/><stop offset="0.82" stop-color="#f0b3be"/><stop offset="0.85" stop-color="#eea2b2"/><stop offset="0.87" stop-color="#e98ca0"/><stop offset="0.89" stop-color="#e3738b"/><stop offset="0.91" stop-color="#dd5a77"/><stop offset="0.93" stop-color="#d74767"/><stop offset="0.95" stop-color="#d24263"/><stop offset="0.97" stop-color="#ce3e60"/><stop offset="1" stop-color="#cb3b5d"/></linearGradient>
<rect x="75" y="259" width="97" height="1" fill="url(#g82)" shape-rendering="crispEdges"/>
<linearGradient id="g83"><stop offset="0" stop-color="#f4d8d8"/><stop offset="0.36" stop-color="#f4d8d8"/><stop offset="0.57" stop-color="#f4d8d8"/><stop offset="0.67" stop-color="#f4d8d8"/><stop offset="0.72" stop-color="#f4d6d7"/><stop offset="0.76" stop-color="#f3d2d4"/><stop offset="0.79" stop-color="#f3cace"/><stop offset="0.82" stop-color="#f1bac3"/><stop offset="0.85" stop-color="#efa9b7"/><stop offset="0.87" stop-color="#eb92a5"/><stop offset="0.89" stop-color="#e47890"/><stop offset="0.91" stop-color="#de5f7b"/><stop offset="0.93" stop-color="#d94b6a"/><stop offset="0.95" stop-color="#d44364"/><stop offset="0.97" stop-color="#d04061"/><stop offset="1" stop-color="#cd3d5e"/></linearGradient>
<rect x="75" y="260" width="97" height="1" fill="url(#g83)" shape-rendering="crispEdges"/>
<linearGradient id="g84"><stop offset="0" stop-color="#f4dbda"/><stop offset="0.36" stop-color="#f4dbda"/><stop offset="0.57" stop-color="#f4dbda"/><stop offset="0.67" stop-color="#f4dbda"/><stop offset="0.72" stop-color="#f4dad9"/><stop offset="0.76" stop-color="#f4d6d7"/><stop offset="0.79" stop-color="#f3ced1"/><stop offset="0.82" stop-color="#f1bec6"/><stop offset="0.85" stop-color="#efadb9"/><stop offset="0.87" stop-color="#ec97a8"/><stop offset="0.89" stop-color="#e57d93"/><stop offset="0.91" stop-color="#df637e"/><stop offset="0.93" stop-color="#da4f6e"/><stop offset="0.95" stop-color="#d54565"/><stop offset="0.97" stop-color="#d14162"/><stop offset="1" stop-color="#ce3e60"/></linearGradient>
<rect x="75" y="261" width="97" height="1" fill="url(#g84)" shape-rendering="crispEdges"/>
<linearGradient id="g85"><stop offset="0" stop-color="#f4dedc"/><stop offset="0.36" stop-color="#f4dedc"/><stop offset="0.57" stop-color="#f4dedc"/><stop offset="0.67" stop-color="#f4dedc"/><stop offset="0.72" stop-color="#f4dcdb"/><stop offset="0.76" stop-color="#f4d9d9"/><stop offset="0.79" stop-color="#f3d2d4"/><stop offset="0.82" stop-color="#f2c2c8"/><stop offset="0.85" stop-color="#f0b1bc"/><stop offset="0.87" stop-color="#ed9bac"/><stop offset="0.89" stop-color="#e68196"/><stop offset="0.91" stop-color="#e06782"/><stop offset="0.93" stop-color="#db5371"/><stop offset="0.95" stop-color="#d64667"/><stop offset="0.97" stop-color="#d34363"/><stop offset="1" stop-color="#d04061"/></linearGradient>
<rect x="75" y="262" width="97" height="1" fill="url(#g85)" shape-rendering="crispEdges"/>
<linearGradient id="g86"><stop offset="0" stop-color="#f4e1de"/><stop offset="0.36" stop-color="#f4e1de"/><stop offset="0.57" stop-color="#f4e1de"/><stop offset="0.67" stop-color="#f4e0de"/><stop offset="0.72" stop-color="#f4dfdd"/><stop offset="0.76" stop-color="#f4dcdb"/><stop offset="0.79" stop-color="#f4d6d7"/><stop offset="0.82" stop-color="#f2c6cb"/><stop offset="0.85" stop-color="#f0b5bf"/><stop offset="0.87" stop-color="#ee9faf"/><stop offset="0.89" stop-color="#e7859a"/><stop offset="0.91" stop-color="#e16c85"/><stop offset="0.93" stop-color="#dc5774"/><stop offset="0.95" stop-color="#d84868"/><stop offset="0.97" stop-color="#d44465"/><stop offset="1" stop-color="#d14162"/></linearGradient>
<rect x="75" y="263" width="97" height="1" fill="url(#g86)" shape-rendering="crispEdges"/>
<linearGradient id="g87"><stop offset="0" stop-color="#f4e3e1"/><stop offset="0.36" stop-color="#f4e3e1"/><stop offset="0.57" stop-color="#f4e3e1"/><stop offset="0.67" stop-color="#f4e3e0"/><stop offset="0.72" stop-color="#f4e2e0"/><stop offset="0.76" stop-color="#f4dfdd"/><stop offset="0.79" stop-color="#f4dad9"/><stop offset="0.82" stop-color="#f3cace"/><stop offset="0.85" stop-color="#f1b9c2"/><stop offset="0.87" stop-color="#eea3b2"/><stop offset="0.89" stop-color="#e8899d"/><stop offset="0.91" stop-color="#e27088"/><stop offset="0.93" stop-color="#dd5b77"/><stop offset="0.95" stop-color="#d94c6b"/><stop offset="0.97" stop-color="#d64666"/><stop offset="1" stop-color="#d34263"/></linearGradient>
<rect x="75" y="264" width="97" height="1" fill="url(#g87)" shape-rendering="crispEdges"/>
<linearGradient id="g88"><stop offset="0" stop-color="#f5e6e3"/><stop offset="0.36" stop-color="#f5e6e3"/><stop offset="0.57" stop-color="#f5e6e3"/><stop offset="0.67" stop-color="#f5e6e2"/><stop offset="0.72" stop-color="#f5e5e2"/><stop offset="0.76" stop-color="#f4e2df"/><stop offset="0.79" stop-color="#f4dcdb"/><stop offset="0.82" stop-color="#f3ced1"/><stop offset="0.85" stop-color="#f1bdc5"/><stop offset="0.87" stop-color="#efa7b5"/><stop offset="0.89" stop-color="#e98da0"/><stop offset="0.91" stop-color="#e3748c"/><stop offset="0.93" stop-color="#de5f7b"/><stop offset="0.95" stop-color="#da506e"/><stop offset="0.97" stop-color="#d74767"/><stop offset="1" stop-color="#d44465"/></linearGradient>
<rect x="75" y="265" width="97" height="1" fill="url(#g88)" shape-rendering="crispEdges"/>
<linearGradient id="g89"><stop offset="0" stop-color="#f5e9e5"/><stop offset="0.36" stop-color="#f5e9e5"/><stop offset="0.57" stop-color="#f5e9e5"/><stop offset="0.67" stop-color="#f5e9e5"/><stop offset="0.72" stop-color="#f5e8e4"/><stop offset="0.76" stop-color="#f5e5e1"/><stop offset="0.79" stop-color="#f4dfdd"/><stop offset="0.82" stop-color="#f3d2d4"/><stop offset="0.85" stop-color="#f2c1c8"/><stop offset="0.87" stop-color="#efabb8"/><stop offset="0.89" stop-color="#ea91a4"/><stop offset="0.91" stop-color="#e4788f"/><stop offset="0.93" stop-color="#df637e"/><stop offset="0.95" stop-color="#db5371"/><stop offset="0.97" stop-color="#d84969"/><stop offset="1" stop-color="#d54566"/></linearGradient>
<rect x="75" y="266" width="97" height="1" fill="url(#g89)" shape-rendering="crispEdges"/>
<linearGradient id="g90"><stop offset="0" stop-color="#f5ece7"/><stop offset="0.36" stop-color="#f5ece7"/><stop offset="0.57" stop-color="#f5ece7"/><stop offset="0.67" stop-color="#f5ebe7"/><stop offset="0.72" stop-color="#f5eae6"/><stop offset="0.76" stop-color="#f5e7e4"/><stop offset="0.79" stop-color="#f4e2df"/><stop offset="0.82" stop-color="#f4d6d7"/><stop offset="0.85" stop-color="#f2c5ca"/><stop offset="0.87" stop-color="#f0afba"/><stop offset="0.89" stop-color="#eb95a7"/><stop offset="0.91" stop-color="#e57c92"/><stop offset="0.93" stop-color="#e06781"/><stop offset="0.95" stop-color="#dc5775"/><stop offset="0.97" stop-color="#d94d6c"/><stop offset="1" stop-color="#d74767"/></linearGradient>
<rect x="75" y="267" width="97" height="1" fill="url(#g90)" shape-rendering="crispEdges"/>
<linearGradient id="g91"><stop offset="0" stop-color="#f5efe9"/><stop offset="0.36" stop-color="#f5efe9"/><stop offset="0.57" stop-color="#f5efe9"/><stop offset="0.67" stop-color="#f5eee9"/><stop offset="0.72" stop-color="#f5ede8"/><stop offset="0.76" stop-color="#f5eae6"/><stop offset="0.79" stop-color="#f5e5e2"/><stop offset="0.82" stop-color="#f4dad9"/><stop offset="0.85" stop-color="#f2c9cd"/><stop offset="0.87" stop-color="#f0b3bd"/><stop offset="0.89" stop-color="#ec99aa"/><stop offset="0.91" stop-color="#e68096"/><stop offset="0.93" stop-color="#e16b84"/><stop offset="0.95" stop-color="#dd5b78"/><stop offset="0.97" stop-color="#da5170"/><stop offset="1" stop-color="#d84969"/></linearGradient>
<rect x="75" y="268" width="97" height="1" fill="url(#g91)" shape-rendering="crispEdges"/>
<linearGradient id="g92"><stop offset="0" stop-color="#f3efea"/><stop offset="0.36" stop-color="#f3efea"/><stop offset="0.57" stop-color="#f3efea"/><stop offset="0.67" stop-color="#f4efea"/><stop offset="0.72" stop-color="#f4f0ea"/><stop offset="0.76" stop-color="#f5eee8"/><stop offset="0.79" stop-color="#f5e8e4"/><stop offset="0.82" stop-color="#f4dddc"/><stop offset="0.85" stop-color="#f3ced1"/><stop offset="0.87" stop-color="#f0b7c1"/><stop offset="0.89" stop-color="#ed9eae"/><stop offset="0.91" stop-color="#e78499"/><stop offset="0.93" stop-color="#e26f88"/><stop offset="0.95" stop-color="#de607b"/><stop offset="0.97" stop-color="#db5573"/><stop offset="1" stop-color="#d94d6c"/></linearGradient>
<rect x="75" y="269" width="97" height="1" fill="url(#g92)" shape-rendering="crispEdges"/>
<linearGradient id="g93"><stop offset="0" stop-color="#f0edea"/><stop offset="0.36" stop-color="#f0edea"/><stop offset="0.57" stop-color="#f0edea"/><stop offset="0.67" stop-color="#f0edea"/><stop offset="0.72" stop-color="#f1eeea"/><stop offset="0.76" stop-color="#f3efea"/><stop offset="0.79" stop-color="#f5ede7"/><stop offset="0.82" stop-color="#f4e1df"/><stop offset="0.85" stop-color="#f4d4d5"/><stop offset="0.87" stop-color="#f1bcc4"/><stop offset="0.89" stop-color="#eea2b2"/><stop offset="0.91" stop-color="#e8889d"/><stop offset="0.93" stop-color="#e3738b"/><stop offset="0.95" stop-color="#df637e"/><stop offset="0.97" stop-color="#dc5976"/><stop offset="1" stop-color="#da506f"/></linearGradient>
<rect x="75" y="270" width="97" height="1" fill="url(#g93)" shape-rendering="crispEdges"/>
<linearGradient id="g94"><stop offset="0" stop-color="#edeceb"/><stop offset="0.36" stop-color="#edeceb"/><stop offset="0.57" stop-color="#edeceb"/><stop offset="0.67" stop-color="#edeceb"/><stop offset="0.72" stop-color="#eeeceb"/><stop offset="0.76" stop-color="#f0edea"/><stop offset="0.79" stop-color="#f4f0ea"/><stop offset="0.82" stop-color="#f5e5e2"/><stop offset="0.85" stop-color="#f4d9d8"/><stop offset="0.87" stop-color="#f2c1c8"/><stop offset="0.89" stop-color="#efa7b5"/><stop offset="0.91" stop-color="#e98ca0"/><stop offset="0.93" stop-color="#e3768e"/><stop offset="0.95" stop-color="#df6680"/><stop offset="0.97" stop-color="#dd5b78"/><stop offset="1" stop-color="#db5270"/></linearGradient>
<rect x="75" y="271" width="97" height="1" fill="url(#g94)" shape-rendering="crispEdges"/>
<linearGradient id="g95"><stop offset="0" stop-color="#eaeaeb"/><stop offset="0.36" stop-color="#eaeaeb"/><stop offset="0.57" stop-color="#eaeaeb"/><stop offset="0.67" stop-color="#eaeaeb"/><stop offset="0.72" stop-color="#ebeaeb"/><stop offset="0.76" stop-color="#edeceb"/><stop offset="0.79" stop-color="#f1eeea"/><stop offset="0.82" stop-color="#f5e9e5"/><stop offset="0.85" stop-color="#f4dcdb"/><stop offset="0.87" stop-color="#f2c6cb"/><stop offset="0.89" stop-color="#efabb8"/><stop offset="0.91" stop-color="#ea90a3"/><stop offset="0.93" stop-color="#e47990"/><stop offset="0.95" stop-color="#e06983"/><stop offset="0.97" stop-color="#dd5e7a"/><stop offset="1" stop-color="#db5572"/></linearGradient>
<rect x="75" y="272" width="97" height="1" fill="url(#g95)" shape-rendering="crispEdges"/>
<linearGradient id="g96"><stop offset="0" stop-color="#e6e8eb"/><stop offset="0.36" stop-color="#e6e8eb"/><stop offset="0.57" stop-color="#e6e8eb"/><stop offset="0.67" stop-color="#e7e8eb"/><stop offset="0.72" stop-color="#e7e9eb"/><stop offset="0.76" stop-color="#eaeaeb"/><stop offset="0.79" stop-color="#eeeceb"/><stop offset="0.82" stop-color="#f5ede8"/><stop offset="0.85" stop-color="#f4e0de"/><stop offset="0.87" stop-color="#f3cbcf"/><stop offset="0.89" stop-color="#f0afbb"/><stop offset="0.91" stop-color="#eb93a6"/><stop offset="0.93" stop-color="#e57c93"/><stop offset="0.95" stop-color="#e16b85"/><stop offset="0.97" stop-color="#de607c"/><stop offset="1" stop-color="#dc5774"/></linearGradient>
<rect x="75" y="273" width="97" height="1" fill="url(#g96)" shape-rendering="crispEdges"/>
<linearGradient id="g97"><stop offset="0" stop-color="#e3e6eb"/><stop offset="0.36" stop-color="#e3e6eb"/><stop offset="0.57" stop-color="#e3e6eb"/><stop offset="0.67" stop-color="#e3e6eb"/><stop offset="0.72" stop-color="#e4e7eb"/><stop offset="0.76" stop-color="#e7e8eb"/><stop offset="0.79" stop-color="#ebebeb"/><stop offset="0.82" stop-color="#f4f0ea"/><stop offset="0.85" stop-color="#f4e4e1"/><stop offset="0.87" stop-color="#f3d0d2"/><stop offset="0.89" stop-color="#f0b3be"/><stop offset="0.91" stop-color="#ec97a9"/><stop offset="0.93" stop-color="#e67f95"/><stop offset="0.95" stop-color="#e26e87"/><stop offset="0.97" stop-color="#df637e"/><stop offset="1" stop-color="#dc5976"/></linearGradient>
<rect x="75" y="274" width="97" height="1" fill="url(#g97)" shape-rendering="crispEdges"/>
<linearGradient id="g98"><stop offset="0" stop-color="#e0e5ec"/><stop offset="0.36" stop-color="#e0e5ec"/><stop offset="0.57" stop-color="#e0e5ec"/><stop offset="0.67" stop-color="#e0e5ec"/><stop offset="0.72" stop-color="#e1e5ec"/><stop offset="0.76" stop-color="#e3e6eb"/><stop offset="0.79" stop-color="#e8e9eb"/><stop offset="0.82" stop-color="#f1eeea"/><stop offset="0.85" stop-color="#f5e7e4"/><stop offset="0.87" stop-color="#f4d5d6"/><stop offset="0.89" stop-color="#f0b7c1"/><stop offset="0.91" stop-color="#ed9bac"/><stop offset="0.93" stop-color="#e78398"/><stop offset="0.95" stop-color="#e27189"/><stop offset="0.97" stop-color="#df6580"/><stop offset="1" stop-color="#dd5b78"/></linearGradient>
<rect x="75" y="275" width="97" height="1" fill="url(#g98)" shape-rendering="crispEdges"/>
<linearGradient id="g99"><stop offset="0" stop-color="#dce3ec"/><stop offset="0.36" stop-color="#dce3ec"/><stop offset="0.57" stop-color="#dce3ec"/><stop offset="0.67" stop-color="#dde3ec"/><stop offset="0.72" stop-color="#dee3ec"/><stop offset="0.76" stop-color="#e0e5ec"/><stop offset="0.79" stop-color="#e5e7eb"/><stop offset="0.82" stop-color="#eeeceb"/><stop offset="0.85" stop-color="#f5ebe6"/><stop offset="0.87" stop-color="#f4d9d9"/><stop offset="0.89" stop-color="#f1bbc4"/><stop offset="0.91" stop-color="#ee9faf"/><stop offset="0.93" stop-color="#e7869a"/><stop offset="0.95" stop-color="#e3748c"/><stop offset="0.97" stop-color="#e06882"/><stop offset="1" stop-color="#dd5e7a"/></linearGradient>
<rect x="75" y="276" width="97" height="1" fill="url(#g99)" shape-rendering="crispEdges"/>
<linearGradient id="g100"><stop offset="0" stop-color="#d8dfea"/><stop offset="0.36" stop-color="#d8dfea"/><stop offset="0.57" stop-color="#d8dfea"/><stop offset="0.67" stop-color="#d8dfea"/><stop offset="0.72" stop-color="#d9e0eb"/><stop offset="0.76" stop-color="#dde3ec"/><stop offset="0.79" stop-color="#e2e6ec"/><stop offset="0.82" stop-color="#ecebeb"/><stop offset="0.85" stop-color="#f5efe9"/><stop offset="0.87" stop-color="#f4dcdb"/><stop offset="0.89" stop-color="#f1c0c7"/><stop offset="0.91" stop-color="#eea2b2"/><stop offset="0.93" stop-color="#e8899d"/><stop offset="0.95" stop-color="#e4768e"/><stop offset="0.97" stop-color="#e16a84"/><stop offset="1" stop-color="#de607c"/></linearGradient>
<rect x="75" y="277" width="97" height="1" fill="url(#g100)" shape-rendering="crispEdges"/>
<linearGradient id="g101"><stop offset="0" stop-color="#d3dce8"/><stop offset="0.36" stop-color="#d3dce8"/><stop offset="0.57" stop-color="#d3dce8"/><stop offset="0.67" stop-color="#d3dce9"/><stop offset="0.72" stop-color="#d5dde9"/><stop offset="0.76" stop-color="#d9e0ea"/><stop offset="0.79" stop-color="#dfe4ec"/><stop offset="0.82" stop-color="#e9e9eb"/><stop offset="0.85" stop-color="#f3efea"/><stop offset="0.87" stop-color="#f4e0de"/><stop offset="0.89" stop-color="#f2c4ca"/><stop offset="0.91" stop-color="#efa6b4"/><stop offset="0.93" stop-color="#e98ca0"/><stop offset="0.95" stop-color="#e47990"/><stop offset="0.97" stop-color="#e16d86"/><stop offset="1" stop-color="#df627d"/></linearGradient>
<rect x="75" y="278" width="97" height="1" fill="url(#g101)" shape-rendering="crispEdges"/>
<linearGradient id="g102"><stop offset="0" stop-color="#ced9e7"/><stop offset="0.36" stop-color="#ced9e7"/><stop offset="0.57" stop-color="#ced9e7"/><stop offset="0.67" stop-color="#cfd9e7"/><stop offset="0.72" stop-color="#d0dae7"/><stop offset="0.76" stop-color="#d4dde9"/><stop offset="0.79" stop-color="#dbe2eb"/><stop offset="0.82" stop-color="#e6e8eb"/><stop offset="0.85" stop-color="#f0eeea"/><stop offset="0.87" stop-color="#f4e3e0"/><stop offset="0.89" stop-color="#f2c8cd"/><stop offset="0.91" stop-color="#efa9b7"/><stop offset="0.93" stop-color="#ea8fa2"/><stop offset="0.95" stop-color="#e57c92"/><stop offset="0.97" stop-color="#e26f88"/><stop offset="1" stop-color="#df647f"/></linearGradient>
<rect x="75" y="279" width="97" height="1" fill="url(#g102)" shape-rendering="crispEdges"/>
<linearGradient id="g103"><stop offset="0" stop-color="#cbd6e6"/><stop offset="0.36" stop-color="#cbd6e6"/><stop offset="0.57" stop-color="#cbd6e6"/><stop offset="0.67" stop-color="#ccd7e6"/><stop offset="0.72" stop-color="#cdd8e6"/><stop offset="0.76" stop-color="#d1dae8"/><stop offset="0.79" stop-color="#d8e0ea"/><stop offset="0.82" stop-color="#e4e7eb"/><stop offset="0.85" stop-color="#efedeb"/><stop offset="0.87" stop-color="#f5e5e2"/><stop offset="0.89" stop-color="#f3cbcf"/><stop offset="0.91" stop-color="#efacb9"/><stop offset="0.93" stop-color="#ea92a4"/><stop offset="0.95" stop-color="#e67e94"/><stop offset="0.97" stop-color="#e2718a"/><stop offset="1" stop-color="#e06781"/></linearGradient>
<rect x="75" y="280" width="97" height="1" fill="url(#g103)" shape-rendering="crispEdges"/>
<linearGradient id="g104"><stop offset="0" stop-color="#c8d4e5"/><stop offset="0.36" stop-color="#c8d4e5"/><stop offset="0.57" stop-color="#c8d4e5"/><stop offset="0.67" stop-color="#c9d4e5"/><stop offset="0.72" stop-color="#cad5e5"/><stop offset="0.76" stop-color="#ced8e7"/><stop offset="0.79" stop-color="#d5dde9"/><stop offset="0.82" stop-color="#e2e6ec"/><stop offset="0.85" stop-color="#edeceb"/><stop offset="0.87" stop-color="#f5e8e4"/><stop offset="0.89" stop-color="#f3ced1"/><stop offset="0.91" stop-color="#f0afbb"/><stop offset="0.93" stop-color="#eb94a6"/><stop offset="0.95" stop-color="#e68196"/><stop offset="0.97" stop-color="#e3748c"/><stop offset="1" stop-color="#e06983"/></linearGradient>
<rect x="75" y="281" width="97" height="1" fill="url(#g104)" shape-rendering="crispEdges"/>
<linearGradient id="g105"><stop offset="0" stop-color="#c5d2e3"/><stop offset="0.36" stop-color="#c5d2e3"/><stop offset="0.57" stop-color="#c5d2e3"/><stop offset="0.67" stop-color="#c6d2e4"/><stop offset="0.72" stop-color="#c7d3e4"/><stop offset="0.76" stop-color="#cbd6e6"/><stop offset="0.79" stop-color="#d2dbe8"/><stop offset="0.82" stop-color="#e0e5ec"/><stop offset="0.85" stop-color="#ebebeb"/><stop offset="0.87" stop-color="#f5eae5"/><stop offset="0.89" stop-color="#f3d1d3"/><stop offset="0.91" stop-color="#f0b2bd"/><stop offset="0.93" stop-color="#ec97a9"/><stop offset="0.95" stop-color="#e78398"/><stop offset="0.97" stop-color="#e3768e"/><stop offset="1" stop-color="#e16b85"/></linearGradient>
<rect x="75" y="282" width="97" height="1" fill="url(#g105)" shape-rendering="crispEdges"/>
<linearGradient id="g106"><stop offset="0" stop-color="#c2d0e2"/><stop offset="0.36" stop-color="#c2d0e2"/><stop offset="0.57" stop-color="#c2d0e2"/><stop offset="0.67" stop-color="#c3d0e3"/><stop offset="0.72" stop-color="#c4d1e3"/><stop offset="0.76" stop-color="#c8d4e4"/><stop offset="0.79" stop-color="#cfd9e7"/><stop offset="0.82" stop-color="#dee4ec"/><stop offset="0.85" stop-color="#e9eaeb"/><stop offset="0.87" stop-color="#f5ece7"/><stop offset="0.89" stop-color="#f4d4d5"/><stop offset="0.91" stop-color="#f0b4bf"/><stop offset="0.93" stop-color="#ec9aab"/><stop offset="0.95" stop-color="#e7869a"/><stop offset="0.97" stop-color="#e4788f"/><stop offset="1" stop-color="#e16d86"/></linearGradient>
<rect x="75" y="283" width="97" height="1" fill="url(#g106)" shape-rendering="crispEdges"/>
<linearGradient id="g107"><stop offset="0" stop-color="#bfcee1"/><stop offset="0.36" stop-color="#bfcee1"/><stop offset="0.57" stop-color="#bfcee1"/><stop offset="0.67" stop-color="#c0cee1"/><stop offset="0.72" stop-color="#c1cfe2"/><stop offset="0.76" stop-color="#c5d2e3"/><stop offset="0.79" stop-color="#cdd7e6"/><stop offset="0.82" stop-color="#dce2ec"/><stop offset="0.85" stop-color="#e7e9eb"/><stop offset="0.87" stop-color="#f5efe9"/><stop offset="0.89" stop-color="#f4d7d8"/><stop offset="0.91" stop-color="#f0b7c1"/><stop offset="0.93" stop-color="#ed9cad"/><stop offset="0.95" stop-color="#e8889c"/><stop offset="0.97" stop-color="#e57a91"/><stop offset="1" stop-color="#e26f88"/></linearGradient>
<rect x="75" y="284" width="97" height="1" fill="url(#g107)" shape-rendering="crispEdges"/>
<linearGradient id="g108"><stop offset="0" stop-color="#bccbe0"/><stop offset="0.36" stop-color="#bccbe0"/><stop offset="0.57" stop-color="#bccbe0"/><stop offset="0.67" stop-color="#bdcce0"/><stop offset="0.72" stop-color="#becde1"/><stop offset="0.76" stop-color="#c2d0e2"/><stop offset="0.79" stop-color="#cad5e5"/><stop offset="0.82" stop-color="#d9e0eb"/><stop offset="0.85" stop-color="#e6e8eb"/><stop offset="0.87" stop-color="#f4f0ea"/><stop offset="0.89" stop-color="#f4dad9"/><stop offset="0.91" stop-color="#f1bac2"/><stop offset="0.93" stop-color="#ee9faf"/><stop offset="0.95" stop-color="#e98a9e"/><stop offset="0.97" stop-color="#e57d93"/><stop offset="1" stop-color="#e2718a"/></linearGradient>
<rect x="75" y="285" width="97" height="1" fill="url(#g108)" shape-rendering="crispEdges"/>
<linearGradient id="g109"><stop offset="0" stop-color="#b9c9df"/><stop offset="0.36" stop-color="#b9c9df"/><stop offset="0.57" stop-color="#b9c9df"/><stop offset="0.67" stop-color="#bacadf"/><stop offset="0.72" stop-color="#bbcbe0"/><stop offset="0.76" stop-color="#bfcee1"/><stop offset="0.79" stop-color="#c7d3e4"/><stop offset="0.82" stop-color="#d6deea"/><stop offset="0.85" stop-color="#e4e7eb"/><stop offset="0.87" stop-color="#f3efea"/><stop offset="0.89" stop-color="#f4dcdb"/><stop offset="0.91" stop-color="#f1bdc4"/><stop offset="0.93" stop-color="#eea1b1"/><stop offset="0.95" stop-color="#e98da0"/><stop offset="0.97" stop-color="#e67f95"/><stop offset="1" stop-color="#e3748c"/></linearGradient>
<rect x="75" y="286" width="97" height="1" fill="url(#g109)" shape-rendering="crispEdges"/>
<linearGradient id="g110"><stop offset="0" stop-color="#b6c7de"/><stop offset="0.36" stop-color="#b6c7de"/><stop offset="0.57" stop-color="#b6c7de"/><stop offset="0.67" stop-color="#b6c7de"/><stop offset="0.72" stop-color="#b8c8df"/><stop offset="0.76" stop-color="#bccbe0"/><stop offset="0.79" stop-color="#c4d1e3"/><stop offset="0.82" stop-color="#d3dce9"/><stop offset="0.85" stop-color="#e2e6ec"/><stop offset="0.87" stop-color="#f1eeea"/><stop offset="0.89" stop-color="#f4dedc"/><stop offset="0.91" stop-color="#f1bfc6"/><stop offset="0.93" stop-color="#eea4b3"/><stop offset="0.95" stop-color="#ea8fa2"/><stop offset="0.97" stop-color="#e68197"/><stop offset="1" stop-color="#e3768d"/></linearGradient>
<rect x="75" y="287" width="97" height="1" fill="url(#g110)" shape-rendering="crispEdges"/>
<linearGradient id="g111"><stop offset="0" stop-color="#b2c4dc"/><stop offset="0.36" stop-color="#b2c4dc"/><stop offset="0.57" stop-color="#b2c4dc"/><stop offset="0.67" stop-color="#b3c4dc"/><stop offset="0.72" stop-color="#b5c6dd"/><stop offset="0.76" stop-color="#b9c9df"/><stop offset="0.79" stop-color="#c1cfe2"/><stop offset="0.82" stop-color="#d1dae8"/><stop offset="0.85" stop-color="#e0e5ec"/><stop offset="0.87" stop-color="#efedea"/><stop offset="0.89" stop-color="#f4e0de"/><stop offset="0.91" stop-color="#f2c2c8"/><stop offset="0.93" stop-color="#efa6b5"/><stop offset="0.95" stop-color="#ea92a4"/><stop offset="0.97" stop-color="#e78499"/><stop offset="1" stop-color="#e4788f"/></linearGradient>
<rect x="75" y="288" width="97" height="1" fill="url(#g111)" shape-rendering="crispEdges"/>
<linearGradient id="g112"><stop offset="0" stop-color="#aec1da"/><stop offset="0.36" stop-color="#aec1da"/><stop offset="0.57" stop-color="#aec1da"/><stop offset="0.67" stop-color="#afc1db"/><stop offset="0.72" stop-color="#b1c3dc"/><stop offset="0.76" stop-color="#b6c7de"/><stop offset="0.79" stop-color="#becde1"/><stop offset="0.82" stop-color="#ced8e7"/><stop offset="0.85" stop-color="#dee4ec"/><stop offset="0.87" stop-color="#eeeceb"/><stop offset="0.89" stop-color="#f4e2e0"/><stop offset="0.91" stop-color="#f2c5ca"/><stop offset="0.93" stop-color="#efa9b6"/><stop offset="0.95" stop-color="#eb94a6"/><stop offset="0.97" stop-color="#e7869b"/><stop offset="1" stop-color="#e57a91"/></linearGradient>
<rect x="75" y="289" width="97" height="1" fill="url(#g112)" shape-rendering="crispEdges"/>
<linearGradient id="g113"><stop offset="0" stop-color="#aabed8"/><stop offset="0.36" stop-color="#aabed8"/><stop offset="0.57" stop-color="#aabed8"/><stop offset="0.67" stop-color="#abbed9"/><stop offset="0.72" stop-color="#adc0da"/><stop offset="0.76" stop-color="#b2c4dc"/><stop offset="0.79" stop-color="#bbcbe0"/><stop offset="0.82" stop-color="#cbd6e6"/><stop offset="0.85" stop-color="#dce2ec"/><stop offset="0.87" stop-color="#ecebeb"/><stop offset="0.89" stop-color="#f5e4e1"/><stop offset="0.91" stop-color="#f2c8cc"/><stop offset="0.93" stop-color="#efabb8"/><stop offset="0.95" stop-color="#ec96a8"/><stop offset="0.97" stop-color="#e8889d"/><stop offset="1" stop-color="#e57c93"/></linearGradient>
<rect x="75" y="290" width="97" height="1" fill="url(#g113)" shape-rendering="crispEdges"/>
<linearGradient id="g114"><stop offset="0" stop-color="#a7bbd7"/><stop offset="0.36" stop-color="#a7bbd7"/><stop offset="0.57" stop-color="#a7bbd7"/><stop offset="0.67" stop-color="#a7bbd7"/><stop offset="0.72" stop-color="#a9bdd8"/><stop offset="0.76" stop-color="#afc1da"/><stop offset="0.79" stop-color="#b8c9df"/><stop offset="0.82" stop-color="#c8d4e5"/><stop offset="0.85" stop-color="#dae0eb"/><stop offset="0.87" stop-color="#eaeaeb"/><stop offset="0.89" stop-color="#f5e6e3"/><stop offset="0.91" stop-color="#f3cbce"/><stop offset="0.93" stop-color="#efaeba"/><stop offset="0.95" stop-color="#ec99aa"/><stop offset="0.97" stop-color="#e98a9e"/><stop offset="1" stop-color="#e67e95"/></linearGradient>
<rect x="75" y="291" width="97" height="1" fill="url(#g114)" shape-rendering="crispEdges"/>
<linearGradient id="g115"><stop offset="0" stop-color="#a3b7d5"/><stop offset="0.36" stop-color="#a3b7d5"/><stop offset="0.57" stop-color="#a3b7d5"/><stop offset="0.67" stop-color="#a3b8d5"/><stop offset="0.72" stop-color="#a5bad6"/><stop offset="0.76" stop-color="#abbed9"/><stop offset="0.79" stop-color="#b5c6de"/><stop offset="0.82" stop-color="#c6d2e4"/><stop offset="0.85" stop-color="#d7dfea"/><stop offset="0.87" stop-color="#e9e9eb"/><stop offset="0.89" stop-color="#f5e9e4"/><stop offset="0.91" stop-color="#f3cdd0"/><stop offset="0.93" stop-color="#f0b0bc"/><stop offset="0.95" stop-color="#ed9bac"/><stop offset="0.97" stop-color="#e98da0"/><stop offset="1" stop-color="#e68196"/></linearGradient>
<rect x="75" y="292" width="97" height="1" fill="url(#g115)" shape-rendering="crispEdges"/>
<linearGradient id="g116"><stop offset="0" stop-color="#9fb4d3"/><stop offset="0.36" stop-color="#9fb4d3"/><stop offset="0.57" stop-color="#9fb4d3"/><stop offset="0.67" stop-color="#9fb5d3"/><stop offset="0.72" stop-color="#a1b6d4"/><stop offset="0.76" stop-color="#a7bbd7"/><stop offset="0.79" stop-color="#b1c3dc"/><stop offset="0.82" stop-color="#c3d0e3"/><stop offset="0.85" stop-color="#d4dde9"/><stop offset="0.87" stop-color="#e7e8eb"/><stop offset="0.89" stop-color="#f5ebe6"/><stop offset="0.91" stop-color="#f3d0d2"/><stop offset="0.93" stop-color="#f0b3be"/><stop offset="0.95" stop-color="#ed9eae"/><stop offset="0.97" stop-color="#ea8fa2"/><stop offset="1" stop-color="#e78398"/></linearGradient>
<rect x="75" y="293" width="97" height="1" fill="url(#g116)" shape-rendering="crispEdges"/>
<linearGradient id="g117"><stop offset="0" stop-color="#9bb1d1"/><stop offset="0.36" stop-color="#9bb1d1"/><stop offset="0.57" stop-color="#9bb1d1"/><stop offset="0.67" stop-color="#9cb2d1"/><stop offset="0.72" stop-color="#9eb3d2"/><stop offset="0.76" stop-color="#a3b8d5"/><stop offset="0.79" stop-color="#aec0da"/><stop offset="0.82" stop-color="#c0cee2"/><stop offset="0.85" stop-color="#d2dbe8"/><stop offset="0.87" stop-color="#e5e7eb"/><stop offset="0.89" stop-color="#f5ede8"/><stop offset="0.91" stop-color="#f3d3d4"/><stop offset="0.93" stop-color="#f0b6bf"/><stop offset="0.95" stop-color="#eea0b0"/><stop offset="0.97" stop-color="#ea91a4"/><stop offset="1" stop-color="#e7859a"/></linearGradient>
<rect x="75" y="294" width="97" height="1" fill="url(#g117)" shape-rendering="crispEdges"/>
<linearGradient id="g118"><stop offset="0" stop-color="#97aecf"/><stop offset="0.36" stop-color="#97aecf"/><stop offset="0.57" stop-color="#97aecf"/><stop offset="0.67" stop-color="#98afcf"/><stop offset="0.72" stop-color="#9ab0d0"/><stop offset="0.76" stop-color="#9fb5d3"/><stop offset="0.79" stop-color="#aabdd8"/><stop offset="0.82" stop-color="#bdcce1"/><stop offset="0.85" stop-color="#cfd9e7"/><stop offset="0.87" stop-color="#e3e7eb"/><stop offset="0.89" stop-color="#f5efe9"/><stop offset="0.91" stop-color="#f4d6d6"/><stop offset="0.93" stop-color="#f1b8c1"/><stop offset="0.95" stop-color="#eea2b2"/><stop offset="0.97" stop-color="#eb94a6"/><stop offset="1" stop-color="#e8879c"/></linearGradient>
<rect x="75" y="295" width="97" height="1" fill="url(#g118)" shape-rendering="crispEdges"/>
<linearGradient id="g119"><stop offset="0" stop-color="#93abcd"/><stop offset="0.36" stop-color="#93abcd"/><stop offset="0.57" stop-color="#93abcd"/><stop offset="0.67" stop-color="#94abcd"/><stop offset="0.72" stop-color="#96adce"/><stop offset="0.76" stop-color="#9cb2d1"/><stop offset="0.79" stop-color="#a6bad6"/><stop offset="0.82" stop-color="#bbcae0"/><stop offset="0.85" stop-color="#cdd7e6"/><stop offset="0.87" stop-color="#e2e6ec"/><stop offset="0.89" stop-color="#f4f0ea"/><stop offset="0.91" stop-color="#f4d8d8"/><stop offset="0.93" stop-color="#f1bbc3"/><stop offset="0.95" stop-color="#efa5b3"/><stop offset="0.97" stop-color="#eb96a8"/><stop offset="1" stop-color="#e8899d"/></linearGradient>
<rect x="75" y="296" width="97" height="1" fill="url(#g119)" shape-rendering="crispEdges"/>
<linearGradient id="g120"><stop offset="0" stop-color="#8fa8cb"/><stop offset="0.36" stop-color="#8fa8cb"/><stop offset="0.57" stop-color="#8fa8cb"/><stop offset="0.67" stop-color="#90a8cc"/><stop offset="0.72" stop-color="#92aacd"/><stop offset="0.76" stop-color="#98afcf"/><stop offset="0.79" stop-color="#a3b7d5"/><stop offset="0.82" stop-color="#b8c8df"/><stop offset="0.85" stop-color="#cad5e5"/><stop offset="0.87" stop-color="#e0e5ec"/><stop offset="0.89" stop-color="#f3efea"/><stop offset="0.91" stop-color="#f4dada"/><stop offset="0.93" stop-color="#f1bdc5"/><stop offset="0.95" stop-color="#efa7b5"/><stop offset="0.97" stop-color="#ec98aa"/><stop offset="1" stop-color="#e98c9f"/></linearGradient>
<rect x="75" y="297" width="97" height="1" fill="url(#g120)" shape-rendering="crispEdges"/>
<linearGradient id="g121"><stop offset="0" stop-color="#8ba5c9"/><stop offset="0.36" stop-color="#8ba5c9"/><stop offset="0.57" stop-color="#8ba5c9"/><stop offset="0.67" stop-color="#8ca5ca"/><stop offset="0.72" stop-color="#8ea7cb"/><stop offset="0.76" stop-color="#94acce"/><stop offset="0.79" stop-color="#9fb4d3"/><stop offset="0.82" stop-color="#b5c6dd"/><stop offset="0.85" stop-color="#c7d3e4"/><stop offset="0.87" stop-color="#dee4ec"/><stop offset="0.89" stop-color="#f1eeea"/><stop offset="0.91" stop-color="#f4dcdb"/><stop offset="0.93" stop-color="#f1c0c7"/><stop offset="0.95" stop-color="#efa9b7"/><stop offset="0.97" stop-color="#ed9bac"/><stop offset="1" stop-color="#e98ea1"/></linearGradient>
<rect x="75" y="298" width="97" height="1" fill="url(#g121)" shape-rendering="crispEdges"/>
<linearGradient id="g122"><stop offset="0" stop-color="#89a2c8"/><stop offset="0.36" stop-color="#89a2c8"/><stop offset="0.57" stop-color="#89a2c8"/><stop offset="0.67" stop-color="#89a3c8"/><stop offset="0.72" stop-color="#8ba5c9"/><stop offset="0.76" stop-color="#91a9cc"/><stop offset="0.79" stop-color="#9cb2d1"/><stop offset="0.82" stop-color="#b2c4dc"/><stop offset="0.85" stop-color="#c5d2e3"/><stop offset="0.87" stop-color="#dde3ec"/><stop offset="0.89" stop-color="#f0edea"/><stop offset="0.91" stop-color="#f4dedc"/><stop offset="0.93" stop-color="#f2c2c8"/><stop offset="0.95" stop-color="#efacb8"/><stop offset="0.97" stop-color="#ed9dad"/><stop offset="1" stop-color="#ea90a3"/></linearGradient>
<rect x="75" y="299" width="97" height="1" fill="url(#g122)" shape-rendering="crispEdges"/>
<linearGradient id="g123"><stop offset="0" stop-color="#86a0c7"/><stop offset="0.36" stop-color="#86a0c7"/><stop offset="0.57" stop-color="#86a0c7"/><stop offset="0.67" stop-color="#87a1c7"/><stop offset="0.72" stop-color="#89a3c8"/><stop offset="0.76" stop-color="#8fa7cb"/><stop offset="0.79" stop-color="#9ab0d0"/><stop offset="0.82" stop-color="#b0c2db"/><stop offset="0.85" stop-color="#c3d1e3"/><stop offset="0.87" stop-color="#dbe2eb"/><stop offset="0.89" stop-color="#efedeb"/><stop offset="0.91" stop-color="#f4dfdd"/><stop offset="0.93" stop-color="#f2c4ca"/><stop offset="0.95" stop-color="#efaeba"/><stop offset="0.97" stop-color="#ee9faf"/><stop offset="1" stop-color="#ea92a5"/></linearGradient>
<rect x="75" y="300" width="97" height="1" fill="url(#g123)" shape-rendering="crispEdges"/>
<linearGradient id="g124"><stop offset="0" stop-color="#839ec6"/><stop offset="0.36" stop-color="#839ec6"/><stop offset="0.57" stop-color="#839ec6"/><stop offset="0.67" stop-color="#849fc6"/><stop offset="0.72" stop-color="#86a0c7"/><stop offset="0.76" stop-color="#8ca5ca"/><stop offset="0.79" stop-color="#97aecf"/><stop offset="0.82" stop-color="#adc0da"/><stop offset="0.85" stop-color="#c2cfe2"/><stop offset="0.87" stop-color="#dae1eb"/><stop offset="0.89" stop-color="#eeeceb"/><stop offset="0.91" stop-color="#f4e1df"/><stop offset="0.93" stop-color="#f2c6cb"/><stop offset="0.95" stop-color="#f0b0bb"/><stop offset="0.97" stop-color="#eea1b1"/><stop offset="1" stop-color="#eb94a6"/></linearGradient>
<rect x="75" y="301" width="97" height="1" fill="url(#g124)" shape-rendering="crispEdges"/>
<linearGradient id="g125"><stop offset="0" stop-color="#819cc4"/><stop offset="0.36" stop-color="#819cc4"/><stop offset="0.57" stop-color="#819cc4"/><stop offset="0.67" stop-color="#819dc5"/><stop offset="0.72" stop-color="#849ec6"/><stop offset="0.76" stop-color="#8aa3c9"/><stop offset="0.79" stop-color="#95acce"/><stop offset="0.82" stop-color="#abbed9"/><stop offset="0.85" stop-color="#c0cee1"/><stop offset="0.87" stop-color="#d8dfea"/><stop offset="0.89" stop-color="#ecebeb"/><stop offset="0.91" stop-color="#f4e2e0"/><stop offset="0.93" stop-color="#f2c8cd"/><stop offset="0.95" stop-color="#f0b2bd"/><stop offset="0.97" stop-color="#eea3b2"/><stop offset="1" stop-color="#ec96a8"/></linearGradient>
<rect x="75" y="302" width="97" height="1" fill="url(#g125)" shape-rendering="crispEdges"/>
<linearGradient id="g126"><stop offset="0" stop-color="#7e9ac3"/><stop offset="0.36" stop-color="#7e9ac3"/><stop offset="0.57" stop-color="#7e9ac3"/><stop offset="0.67" stop-color="#7f9bc3"/><stop offset="0.72" stop-color="#819cc4"/><stop offset="0.76" stop-color="#87a1c7"/><stop offset="0.79" stop-color="#92aacd"/><stop offset="0.82" stop-color="#a8bcd7"/><stop offset="0.85" stop-color="#becde1"/><stop offset="0.87" stop-color="#d6dee9"/><stop offset="0.89" stop-color="#ebebeb"/><stop offset="0.91" stop-color="#f5e4e1"/><stop offset="0.93" stop-color="#f3cbce"/><stop offset="0.95" stop-color="#f0b4be"/><stop offset="0.97" stop-color="#efa5b4"/><stop offset="1" stop-color="#ec98aa"/></linearGradient>
<rect x="75" y="303" width="97" height="1" fill="url(#g126)" shape-rendering="crispEdges"/>
<linearGradient id="g127"><stop offset="0" stop-color="#7c98c2"/><stop offset="0.36" stop-color="#7c98c2"/><stop offset="0.57" stop-color="#7c98c2"/><stop offset="0.67" stop-color="#7c98c2"/><stop offset="0.72" stop-color="#7f9ac3"/><stop offset="0.76" stop-color="#849fc6"/><stop offset="0.79" stop-color="#90a8cb"/><stop offset="0.82" stop-color="#a6bad6"/><stop offset="0.85" stop-color="#bccbe0"/><stop offset="0.87" stop-color="#d4dde9"/><stop offset="0.89" stop-color="#eaeaeb"/><stop offset="0.91" stop-color="#f5e6e2"/><stop offset="0.93" stop-color="#f3cdd0"/><stop offset="0.95" stop-color="#f0b6c0"/><stop offset="0.97" stop-color="#efa7b5"/><stop offset="1" stop-color="#ed9aab"/></linearGradient>
<rect x="75" y="304" width="97" height="1" fill="url(#g127)" shape-rendering="crispEdges"/>
<linearGradient id="g128"><stop offset="0" stop-color="#7996c1"/><stop offset="0.36" stop-color="#7996c1"/><stop offset="0.57" stop-color="#7996c1"/><stop offset="0.67" stop-color="#7a96c1"/><stop offset="0.72" stop-color="#7c98c2"/><stop offset="0.76" stop-color="#829dc5"/><stop offset="0.79" stop-color="#8da6ca"/><stop offset="0.82" stop-color="#a3b8d5"/><stop offset="0.85" stop-color="#bacadf"/><stop offset="0.87" stop-color="#d2dbe8"/><stop offset="0.89" stop-color="#e9e9eb"/><stop offset="0.91" stop-color="#f5e7e3"/><stop offset="0.93" stop-color="#f3cfd2"/><stop offset="0.95" stop-color="#f1b8c1"/><stop offset="0.97" stop-color="#efa9b7"/><stop offset="1" stop-color="#ed9dad"/></linearGradient>
<rect x="75" y="305" width="97" height="1" fill="url(#g128)" shape-rendering="crispEdges"/>
<linearGradient id="g129"><stop offset="0" stop-color="#7794bf"/><stop offset="0.36" stop-color="#7794bf"/><stop offset="0.57" stop-color="#7794bf"/><stop offset="0.67" stop-color="#7794c0"/><stop offset="0.72" stop-color="#7996c1"/><stop offset="0.76" stop-color="#7f9bc4"/><stop offset="0.79" stop-color="#8aa4c9"/><stop offset="0.82" stop-color="#a1b6d4"/><stop offset="0.85" stop-color="#b8c9df"/><stop offset="0.87" stop-color="#d1dae8"/><stop offset="0.89" stop-color="#e8e9eb"/><stop offset="0.91" stop-color="#f5e9e5"/><stop offset="0.93" stop-color="#f3d1d3"/><stop offset="0.95" stop-color="#f1bac3"/><stop offset="0.97" stop-color="#efabb8"/><stop offset="1" stop-color="#ee9faf"/></linearGradient>
<rect x="75" y="306" width="97" height="1" fill="url(#g129)" shape-rendering="crispEdges"/>
<linearGradient id="g130"><stop offset="0" stop-color="#7592be"/><stop offset="0.36" stop-color="#7592be"/><stop offset="0.57" stop-color="#7592be"/><stop offset="0.67" stop-color="#7693be"/><stop offset="0.72" stop-color="#7794bf"/><stop offset="0.76" stop-color="#7d99c2"/><stop offset="0.79" stop-color="#88a2c8"/><stop offset="0.82" stop-color="#9fb4d3"/><stop offset="0.85" stop-color="#b6c7de"/><stop offset="0.87" stop-color="#cfd9e7"/><stop offset="0.89" stop-color="#e6e8eb"/><stop offset="0.91" stop-color="#f5eae6"/><stop offset="0.93" stop-color="#f4d3d5"/><stop offset="0.95" stop-color="#f1bdc4"/><stop offset="0.97" stop-color="#efadba"/><stop offset="1" stop-color="#eea1b1"/></linearGradient>
<rect x="75" y="307" width="97" height="1" fill="url(#g130)" shape-rendering="crispEdges"/>
<linearGradient id="g131"><stop offset="0" stop-color="#7391bd"/><stop offset="0.36" stop-color="#7391bd"/><stop offset="0.57" stop-color="#7491bd"/><stop offset="0.67" stop-color="#7491bd"/><stop offset="0.72" stop-color="#7593be"/><stop offset="0.76" stop-color="#7a97c1"/><stop offset="0.79" stop-color="#85a0c7"/><stop offset="0.82" stop-color="#9cb2d1"/><stop offset="0.85" stop-color="#b4c6dd"/><stop offset="0.87" stop-color="#cdd8e6"/><stop offset="0.89" stop-color="#e5e7eb"/><stop offset="0.91" stop-color="#f5ece7"/><stop offset="0.93" stop-color="#f4d6d6"/><stop offset="0.95" stop-color="#f1bfc6"/><stop offset="0.97" stop-color="#f0afbb"/><stop offset="1" stop-color="#eea3b2"/></linearGradient>
<rect x="75" y="308" width="97" height="1" fill="url(#g131)" shape-rendering="crispEdges"/>
<linearGradient id="g132"><stop offset="0" stop-color="#728fbb"/><stop offset="0.36" stop-color="#728fbb"/><stop offset="0.57" stop-color="#728fbb"/><stop offset="0.67" stop-color="#7290bc"/><stop offset="0.72" stop-color="#7491bd"/><stop offset="0.76" stop-color="#7895c0"/><stop offset="0.79" stop-color="#839ec5"/><stop offset="0.82" stop-color="#9ab0d0"/><stop offset="0.85" stop-color="#b2c4dc"/><stop offset="0.87" stop-color="#cbd6e6"/><stop offset="0.89" stop-color="#e4e7eb"/><stop offset="0.91" stop-color="#f5ede8"/><stop offset="0.93" stop-color="#f4d8d8"/><stop offset="0.95" stop-color="#f2c1c7"/><stop offset="0.97" stop-color="#f0b2bd"/><stop offset="1" stop-color="#efa5b3"/></linearGradient>
<rect x="75" y="309" width="97" height="1" fill="url(#g132)" shape-rendering="crispEdges"/>
<linearGradient id="g133"><stop offset="0" stop-color="#708eba"/><stop offset="0.36" stop-color="#708eba"/><stop offset="0.57" stop-color="#708eba"/><stop offset="0.67" stop-color="#708eba"/><stop offset="0.72" stop-color="#728fbb"/><stop offset="0.76" stop-color="#7693bf"/><stop offset="0.79" stop-color="#809cc4"/><stop offset="0.82" stop-color="#97aecf"/><stop offset="0.85" stop-color="#afc2db"/><stop offset="0.87" stop-color="#cad5e5"/><stop offset="0.89" stop-color="#e3e6ec"/><stop offset="0.91" stop-color="#f5efe9"/><stop offset="0.93" stop-color="#f4d9d9"/><stop offset="0.95" stop-color="#f2c3c9"/><stop offset="0.97" stop-color="#f0b4be"/><stop offset="1" stop-color="#efa7b5"/></linearGradient>
<rect x="75" y="310" width="97" height="1" fill="url(#g133)" shape-rendering="crispEdges"/>
<linearGradient id="g134"><stop offset="0" stop-color="#6e8cb9"/><stop offset="0.36" stop-color="#6e8cb9"/><stop offset="0.57" stop-color="#6e8cb9"/><stop offset="0.67" stop-color="#6f8cb9"/><stop offset="0.72" stop-color="#708eba"/><stop offset="0.76" stop-color="#7492bd"/><stop offset="0.79" stop-color="#7e9ac3"/><stop offset="0.82" stop-color="#95acce"/><stop offset="0.85" stop-color="#adc0da"/><stop offset="0.87" stop-color="#c8d4e4"/><stop offset="0.89" stop-color="#e2e6ec"/><stop offset="0.91" stop-color="#f5f0ea"/><stop offset="0.93" stop-color="#f4dbda"/><stop offset="0.95" stop-color="#f2c5ca"/><stop offset="0.97" stop-color="#f0b6bf"/><stop offset="1" stop-color="#efa9b6"/></linearGradient>
<rect x="75" y="311" width="97" height="1" fill="url(#g134)" shape-rendering="crispEdges"/>
<linearGradient id="g135"><stop offset="0" stop-color="#6d8ab7"/><stop offset="0.36" stop-color="#6d8ab7"/><stop offset="0.57" stop-color="#6d8ab7"/><stop offset="0.67" stop-color="#6d8bb8"/><stop offset="0.72" stop-color="#6f8cb9"/><stop offset="0.76" stop-color="#7390bc"/><stop offset="0.79" stop-color="#7b98c2"/><stop offset="0.82" stop-color="#92aacd"/><stop offset="0.85" stop-color="#abbed9"/><stop offset="0.87" stop-color="#c6d3e4"/><stop offset="0.89" stop-color="#e1e5ec"/><stop offset="0.91" stop-color="#f3efea"/><stop offset="0.93" stop-color="#f4dcdb"/><stop offset="0.95" stop-color="#f2c7cc"/><stop offset="0.97" stop-color="#f1b8c1"/><stop offset="1" stop-color="#efabb8"/></linearGradient>
<rect x="75" y="312" width="97" height="1" fill="url(#g135)" shape-rendering="crispEdges"/>
<linearGradient id="g136"><stop offset="0" stop-color="#6b89b6"/><stop offset="0.36" stop-color="#6b89b6"/><stop offset="0.57" stop-color="#6b89b6"/><stop offset="0.67" stop-color="#6b89b6"/><stop offset="0.72" stop-color="#6d8bb7"/><stop offset="0.76" stop-color="#718ebb"/><stop offset="0.79" stop-color="#7996c0"/><stop offset="0.82" stop-color="#90a8cc"/><stop offset="0.85" stop-color="#a8bcd7"/><stop offset="0.87" stop-color="#c4d1e3"/><stop offset="0.89" stop-color="#dfe4ec"/><stop offset="0.91" stop-color="#f2efea"/><stop offset="0.93" stop-color="#f4dedc"/><stop offset="0.95" stop-color="#f2c9cd"/><stop offset="0.97" stop-color="#f1bac2"/><stop offset="1" stop-color="#efadb9"/></linearGradient>
<rect x="75" y="313" width="97" height="1" fill="url(#g136)" shape-rendering="crispEdges"/>
<linearGradient id="g137"><stop offset="0" stop-color="#6987b5"/><stop offset="0.36" stop-color="#6987b5"/><stop offset="0.57" stop-color="#6987b5"/><stop offset="0.67" stop-color="#6a88b5"/><stop offset="0.72" stop-color="#6b89b6"/><stop offset="0.76" stop-color="#6f8db9"/><stop offset="0.79" stop-color="#7794bf"/><stop offset="0.82" stop-color="#8da6ca"/><stop offset="0.85" stop-color="#a6bad6"/><stop offset="0.87" stop-color="#c2d0e2"/><stop offset="0.89" stop-color="#dee4ec"/><stop offset="0.91" stop-color="#f1eeea"/><stop offset="0.93" stop-color="#f4dfde"/><stop offset="0.95" stop-color="#f3cbcf"/><stop offset="0.97" stop-color="#f1bcc4"/><stop offset="1" stop-color="#f0afbb"/></linearGradient>
<rect x="75" y="314" width="97" height="1" fill="url(#g137)" shape-rendering="crispEdges"/>
<linearGradient id="g138"><stop offset="0" stop-color="#6786b3"/><stop offset="0.36" stop-color="#6786b3"/><stop offset="0.57" stop-color="#6786b3"/><stop offset="0.67" stop-color="#6886b4"/><stop offset="0.72" stop-color="#6988b5"/><stop offset="0.76" stop-color="#6e8bb8"/><stop offset="0.79" stop-color="#7592be"/><stop offset="0.82" stop-color="#8ba4c9"/><stop offset="0.85" stop-color="#a4b8d5"/><stop offset="0.87" stop-color="#c1cfe2"/><stop offset="0.89" stop-color="#dde3ec"/><stop offset="0.91" stop-color="#f0edea"/><stop offset="0.93" stop-color="#f4e1df"/><stop offset="0.95" stop-color="#f3cdd0"/><stop offset="0.97" stop-color="#f1bec5"/><stop offset="1" stop-color="#f0b1bc"/></linearGradient>
<rect x="75" y="315" width="97" height="1" fill="url(#g138)" shape-rendering="crispEdges"/>
<linearGradient id="g139"><stop offset="0" stop-color="#6684b2"/><stop offset="0.36" stop-color="#6684b2"/><stop offset="0.57" stop-color="#6684b2"/><stop offset="0.67" stop-color="#6685b2"/><stop offset="0.72" stop-color="#6886b4"/><stop offset="0.76" stop-color="#6c8ab7"/><stop offset="0.79" stop-color="#7391bd"/><stop offset="0.82" stop-color="#89a2c8"/><stop offset="0.85" stop-color="#a1b6d4"/><stop offset="0.87" stop-color="#bfcde1"/><stop offset="0.89" stop-color="#dbe2eb"/><stop offset="0.91" stop-color="#efedeb"/><stop offset="0.93" stop-color="#f4e2e0"/><stop offset="0.95" stop-color="#f3d0d2"/><stop offset="0.97" stop-color="#f1c0c7"/><stop offset="1" stop-color="#f0b3be"/></linearGradient>
<rect x="75" y="316" width="97" height="1" fill="url(#g139)" shape-rendering="crispEdges"/>
<linearGradient id="g140"><stop offset="0" stop-color="#6482b1"/><stop offset="0.36" stop-color="#6482b1"/><stop offset="0.57" stop-color="#6482b1"/><stop offset="0.67" stop-color="#6483b1"/><stop offset="0.72" stop-color="#6684b2"/><stop offset="0.76" stop-color="#6a88b5"/><stop offset="0.79" stop-color="#728fbb"/><stop offset="0.82" stop-color="#86a0c7"/><stop offset="0.85" stop-color="#9fb4d3"/><stop offset="0.87" stop-color="#bdcce1"/><stop offset="0.89" stop-color="#dae1eb"/><stop offset="0.91" stop-color="#eeeceb"/><stop offset="0.93" stop-color="#f4e4e1"/><stop offset="0.95" stop-color="#f3d2d3"/><stop offset="0.97" stop-color="#f2c2c8"/><stop offset="1" stop-color="#f0b5bf"/></linearGradient>
<rect x="75" y="317" width="97" height="1" fill="url(#g140)" shape-rendering="crispEdges"/>
<linearGradient id="g141"><stop offset="0" stop-color="#6281af"/><stop offset="0.36" stop-color="#6281af"/><stop offset="0.57" stop-color="#6281af"/><stop offset="0.67" stop-color="#6381b0"/><stop offset="0.72" stop-color="#6483b1"/><stop offset="0.76" stop-color="#6887b4"/><stop offset="0.79" stop-color="#708eba"/><stop offset="0.82" stop-color="#849ec6"/><stop offset="0.85" stop-color="#9db2d2"/><stop offset="0.87" stop-color="#bbcbe0"/><stop offset="0.89" stop-color="#d8dfea"/><stop offset="0.91" stop-color="#edebeb"/><stop offset="0.93" stop-color="#f5e5e2"/><stop offset="0.95" stop-color="#f4d4d5"/><stop offset="0.97" stop-color="#f2c4ca"/><stop offset="1" stop-color="#f0b7c0"/></linearGradient>
<rect x="75" y="318" width="97" height="1" fill="url(#g141)" shape-rendering="crispEdges"/>
<linearGradient id="g142"><stop offset="0" stop-color="#607fae"/><stop offset="0.36" stop-color="#607fae"/><stop offset="0.57" stop-color="#607fae"/><stop offset="0.67" stop-color="#6180ae"/><stop offset="0.72" stop-color="#6281b0"/><stop offset="0.76" stop-color="#6785b3"/><stop offset="0.79" stop-color="#6e8cb9"/><stop offset="0.82" stop-color="#819cc4"/><stop offset="0.85" stop-color="#9ab1d1"/><stop offset="0.87" stop-color="#bacadf"/><stop offset="0.89" stop-color="#d6deea"/><stop offset="0.91" stop-color="#ecebeb"/><stop offset="0.93" stop-color="#f5e7e3"/><stop offset="0.95" stop-color="#f4d6d7"/><stop offset="0.97" stop-color="#f2c6cb"/><stop offset="1" stop-color="#f1b9c2"/></linearGradient>
<rect x="75" y="319" width="97" height="1" fill="url(#g142)" shape-rendering="crispEdges"/>
<linearGradient id="g143"><stop offset="0" stop-color="#5f7ead"/><stop offset="0.36" stop-color="#5f7ead"/><stop offset="0.57" stop-color="#5f7ead"/><stop offset="0.67" stop-color="#5f7ead"/><stop offset="0.72" stop-color="#6180ae"/><stop offset="0.76" stop-color="#6583b1"/><stop offset="0.79" stop-color="#6d8bb7"/><stop offset="0.82" stop-color="#7f9ac3"/><stop offset="0.85" stop-color="#98afcf"/><stop offset="0.87" stop-color="#b8c8df"/><stop offset="0.89" stop-color="#d5dde9"/><stop offset="0.91" stop-color="#eaeaeb"/><stop offset="0.93" stop-color="#f5e8e4"/><stop offset="0.95" stop-color="#f4d8d8"/><stop offset="0.97" stop-color="#f2c8cd"/><stop offset="1" stop-color="#f1bbc3"/></linearGradient>
<rect x="75" y="320" width="97" height="1" fill="url(#g143)" shape-rendering="crispEdges"/>
<linearGradient id="g144"><stop offset="0" stop-color="#5d7cab"/><stop offset="0.36" stop-color="#5d7cab"/><stop offset="0.57" stop-color="#5d7cab"/><stop offset="0.67" stop-color="#5d7dac"/><stop offset="0.72" stop-color="#5f7ead"/><stop offset="0.76" stop-color="#6382b0"/><stop offset="0.79" stop-color="#6b89b6"/><stop offset="0.82" stop-color="#7c98c2"/><stop offset="0.85" stop-color="#95adce"/><stop offset="0.87" stop-color="#b6c7de"/><stop offset="0.89" stop-color="#d3dce8"/><stop offset="0.91" stop-color="#e9eaeb"/><stop offset="0.93" stop-color="#f5eae5"/><stop offset="0.95" stop-color="#f4d9d9"/><stop offset="0.97" stop-color="#f3cace"/><stop offset="1" stop-color="#f1bdc5"/></linearGradient>
<rect x="75" y="321" width="97" height="1" fill="url(#g144)" shape-rendering="crispEdges"/>
<linearGradient id="g145"><stop offset="0" stop-color="#5b7baa"/><stop offset="0.36" stop-color="#5b7baa"/><stop offset="0.57" stop-color="#5b7baa"/><stop offset="0.67" stop-color="#5c7bab"/><stop offset="0.72" stop-color="#5e7dac"/><stop offset="0.76" stop-color="#6281af"/><stop offset="0.79" stop-color="#6a88b5"/><stop offset="0.82" stop-color="#7a97c1"/><stop offset="0.85" stop-color="#93abcd"/><stop offset="0.87" stop-color="#b4c5dd"/><stop offset="0.89" stop-color="#d1dbe8"/><stop offset="0.91" stop-color="#e8e9eb"/><stop offset="0.93" stop-color="#f5ebe6"/><stop offset="0.95" stop-color="#f4dbda"/><stop offset="0.97" stop-color="#f3cccf"/><stop offset="1" stop-color="#f1bfc6"/></linearGradient>
<rect x="75" y="322" width="97" height="0.7" fill="url(#g145)" shape-rendering="crispEdges"/>
<rect x="60" y="227" width="10" height="1" fill="#b42349" shape-rendering="crispEdges"/>
<rect x="60" y="228" width="10" height="1" fill="#b7264b" shape-rendering="crispEdges"/>
<rect x="60" y="229" width="10" height="1" fill="#b9284d" shape-rendering="crispEdges"/>
<rect x="60" y="230" width="10" height="1" fill="#bc2b4f" shape-rendering="crispEdges"/>
<rect x="60" y="231" width="10" height="1" fill="#be2d51" shape-rendering="crispEdges"/>
<rect x="60" y="232" width="10" height="1" fill="#c03053" shape-rendering="crispEdges"/>
<rect x="60" y="233" width="10" height="1" fill="#c33255" shape-rendering="crispEdges"/>
<rect x="60" y="234" width="10" height="1" fill="#c53557" shape-rendering="crispEdges"/>
<rect x="60" y="235" width="10" height="1" fill="#c7375a" shape-rendering="crispEdges"/>
<rect x="60" y="236" width="10" height="1" fill="#ca395c" shape-rendering="crispEdges"/>
<rect x="60" y="237" width="10" height="1" fill="#cc3c5e" shape-rendering="crispEdges"/>
<rect x="60" y="238" width="10" height="1" fill="#cf3e60" shape-rendering="crispEdges"/>
<rect x="60" y="239" width="10" height="1" fill="#d14162" shape-rendering="crispEdges"/>
<rect x="60" y="240" width="10" height="1" fill="#d34364" shape-rendering="crispEdges"/>
<rect x="60" y="241" width="10" height="1" fill="#d64666" shape-rendering="crispEdges"/>
<rect x="60" y="242" width="10" height="1" fill="#d84868" shape-rendering="crispEdges"/>
<rect x="60" y="243" width="10" height="1" fill="#da4f6e" shape-rendering="crispEdges"/>
<rect x="60" y="244" width="10" height="1" fill="#db5673" shape-rendering="crispEdges"/>
<rect x="60" y="245" width="10" height="1" fill="#dd5c78" shape-rendering="crispEdges"/>
<rect x="60" y="246" width="10" height="1" fill="#df637e" shape-rendering="crispEdges"/>
<rect x="60" y="247" width="10" height="1" fill="#e16b84" shape-rendering="crispEdges"/>
<rect x="60" y="248" width="10" height="1" fill="#e3738b" shape-rendering="crispEdges"/>
<rect x="60" y="249" width="10" height="1" fill="#e57c92" shape-rendering="crispEdges"/>
<rect x="60" y="250" width="10" height="1" fill="#e7859a" shape-rendering="crispEdges"/>
<rect x="60" y="251" width="10" height="1" fill="#e98da1" shape-rendering="crispEdges"/>
<rect x="60" y="252" width="10" height="1" fill="#ec96a8" shape-rendering="crispEdges"/>
<rect x="60" y="253" width="10" height="1" fill="#ee9faf" shape-rendering="crispEdges"/>
<rect x="60" y="254" width="10" height="1" fill="#efa7b5" shape-rendering="crispEdges"/>
<rect x="60" y="255" width="10" height="1" fill="#f0afbb" shape-rendering="crispEdges"/>
<rect x="60" y="256" width="10" height="1" fill="#f1b8c1" shape-rendering="crispEdges"/>
<rect x="60" y="257" width="10" height="1" fill="#f1c0c7" shape-rendering="crispEdges"/>
<rect x="60" y="258" width="10" height="1" fill="#f2c8cd" shape-rendering="crispEdges"/>
<rect x="60" y="259" width="10" height="1" fill="#f3d1d3" shape-rendering="crispEdges"/>
<rect x="60" y="260" width="10" height="1" fill="#f4d8d8" shape-rendering="crispEdges"/>
<rect x="60" y="261" width="10" height="1" fill="#f4dbda" shape-rendering="crispEdges"/>
<rect x="60" y="262" width="10" height="1" fill="#f4dedc" shape-rendering="crispEdges"/>
<rect x="60" y="263" width="10" height="1" fill="#f4e1de" shape-rendering="crispEdges"/>
<rect x="60" y="264" width="10" height="1" fill="#f4e3e1" shape-rendering="crispEdges"/>
<rect x="60" y="265" width="10" height="1" fill="#f5e6e3" shape-rendering="crispEdges"/>
<rect x="60" y="266" width="10" height="1" fill="#f5e9e5" shape-rendering="crispEdges"/>
<rect x="60" y="267" width="10" height="1" fill="#f5ece7" shape-rendering="crispEdges"/>
<rect x="60" y="268" width="10" height="1" fill="#f5efe9" shape-rendering="crispEdges"/>
<rect x="60" y="269" width="10" height="1" fill="#f3efea" shape-rendering="crispEdges"/>
<rect x="60" y="270" width="10" height="1" fill="#f0edea" shape-rendering="crispEdges"/>
<rect x="60" y="271" width="10" height="1" fill="#edeceb" shape-rendering="crispEdges"/>
<rect x="60" y="272" width="10" height="1" fill="#eaeaeb" shape-rendering="crispEdges"/>
<rect x="60" y="273" width="10" height="1" fill="#e6e8eb" shape-rendering="crispEdges"/>
<rect x="60" y="274" width="10" height="1" fill="#e3e6eb" shape-rendering="crispEdges"/>
<rect x="60" y="275" width="10" height="1" fill="#e0e5ec" shape-rendering="crispEdges"/>
<rect x="60" y="276" width="10" height="1" fill="#dce2ec" shape-rendering="crispEdges"/>
<rect x="60" y="277" width="10" height="1" fill="#d8dfea" shape-rendering="crispEdges"/>
<rect x="60" y="278" width="10" height="1" fill="#d3dce8" shape-rendering="crispEdges"/>
<rect x="60" y="279" width="10" height="1" fill="#ced8e7" shape-rendering="crispEdges"/>
<rect x="60" y="280" width="10" height="1" fill="#cbd6e6" shape-rendering="crispEdges"/>
<rect x="60" y="281" width="10" height="1" fill="#c8d4e5" shape-rendering="crispEdges"/>
<rect x="60" y="282" width="10" height="1" fill="#c5d2e3" shape-rendering="crispEdges"/>
<rect x="60" y="283" width="10" height="1" fill="#c2d0e2" shape-rendering="crispEdges"/>
<rect x="60" y="284" width="10" height="1" fill="#bfcee1" shape-rendering="crispEdges"/>
<rect x="60" y="285" width="10" height="1" fill="#bccbe0" shape-rendering="crispEdges"/>
<rect x="60" y="286" width="10" height="1" fill="#b9c9df" shape-rendering="crispEdges"/>
<rect x="60" y="287" width="10" height="1" fill="#b6c7de" shape-rendering="crispEdges"/>
<rect x="60" y="288" width="10" height="1" fill="#b2c4dc" shape-rendering="crispEdges"/>
<rect x="60" y="289" width="10" height="1" fill="#aec1da" shape-rendering="crispEdges"/>
<rect x="60" y="290" width="10" height="1" fill="#aabed8" shape-rendering="crispEdges"/>
<rect x="60" y="291" width="10" height="1" fill="#a6bad6" shape-rendering="crispEdges"/>
<rect x="60" y="292" width="10" height="1" fill="#a3b7d5" shape-rendering="crispEdges"/>
<rect x="60" y="293" width="10" height="1" fill="#9fb4d3" shape-rendering="crispEdges"/>
<rect x="60" y="294" width="10" height="1" fill="#9bb1d1" shape-rendering="crispEdges"/>
<rect x="60" y="295" width="10" height="1" fill="#97aecf" shape-rendering="crispEdges"/>
<rect x="60" y="296" width="10" height="1" fill="#93abcd" shape-rendering="crispEdges"/>
<rect x="60" y="297" width="10" height="1" fill="#8fa8cb" shape-rendering="crispEdges"/>
<rect x="60" y="298" width="10" height="1" fill="#8ba5c9" shape-rendering="crispEdges"/>
<rect x="60" y="299" width="10" height="1" fill="#89a2c8" shape-rendering="crispEdges"/>
<rect x="60" y="300" width="10" height="1" fill="#86a0c7" shape-rendering="crispEdges"/>
<rect x="60" y="301" width="10" height="1" fill="#839ec6" shape-rendering="crispEdges"/>
<rect x="60" y="302" width="10" height="1" fill="#819cc4" shape-rendering="crispEdges"/>
<rect x="60" y="303" width="10" height="1" fill="#7e9ac3" shape-rendering="crispEdges"/>
<rect x="60" y="304" width="10" height="1" fill="#7c98c2" shape-rendering="crispEdges"/>
<rect x="60" y="305" width="10" height="1" fill="#7996c0" shape-rendering="crispEdges"/>
<rect x="60" y="306" width="10" height="1" fill="#7794bf" shape-rendering="crispEdges"/>
<rect x="60" y="307" width="10" height="1" fill="#7592be" shape-rendering="crispEdges"/>
<rect x="60" y="308" width="10" height="1" fill="#7391bd" shape-rendering="crispEdges"/>
<rect x="60" y="309" width="10" height="1" fill="#728fbb" shape-rendering="crispEdges"/>
<rect x="60" y="310" width="10" height="1" fill="#708eba" shape-rendering="crispEdges"/>
<rect x="60" y="311" width="10" height="1" fill="#6e8cb9" shape-rendering="crispEdges"/>
<rect x="60" y="312" width="10" height="1" fill="#6d8ab7" shape-rendering="crispEdges"/>
<rect x="60" y="313" width="10" height="1" fill="#6b89b6" shape-rendering="crispEdges"/>
<rect x="60" y="314" width="10" height="1" fill="#6987b5" shape-rendering="crispEdges"/>
<rect x="60" y="315" width="10" height="1" fill="#6786b3" shape-rendering="crispEdges"/>
<rect x="60" y="316" width="10" height="1" fill="#6684b2" shape-rendering="crispEdges"/>
<rect x="60" y="317" width="10" height="1" fill="#6482b1" shape-rendering="crispEdges"/>
<rect x="60" y="318" width="10" height="1" fill="#6281af" shape-rendering="crispEdges"/>
<rect x="60" y="319" width="10" height="1" fill="#607fae" shape-rendering="crispEdges"/>
<rect x="60" y="320" width="10" height="1" fill="#5f7ead" shape-rendering="crispEdges"/>
<rect x="60" y="321" width="10" height="1" fill="#5d7cab" shape-rendering="crispEdges"/>
<rect x="60" y="322" width="10" height="0.7" fill="#5b7baa" shape-rendering="crispEdges"/>
<linearGradient id="g146"><stop offset="0" stop-color="#264a7e"/><stop offset="0.36" stop-color="#264a7e"/><stop offset="0.57" stop-color="#264a7e"/><stop offset="0.67" stop-color="#264a7e"/><stop offset="0.72" stop-color="#264a7e"/><stop offset="0.76" stop-color="#274b7f"/><stop offset="0.79" stop-color="#284c80"/><stop offset="0.82" stop-color="#2c5083"/><stop offset="0.85" stop-color="#315488"/><stop offset="0.87" stop-color="#3a5c8f"/><stop offset="0.89" stop-color="#46679a"/><stop offset="0.91" stop-color="#5f7ead"/><stop offset="0.93" stop-color="#7996c0"/><stop offset="0.95" stop-color="#97aecf"/><stop offset="0.97" stop-color="#adbfd9"/><stop offset="1" stop-color="#bccbe0"/></linearGradient>
<rect x="75" y="330" width="97" height="1" fill="url(#g146)" shape-rendering="crispEdges"/>
<linearGradient id="g147"><stop offset="0" stop-color="#264a7e"/><stop offset="0.36" stop-color="#264a7e"/><stop offset="0.57" stop-color="#264a7e"/><stop offset="0.67" stop-color="#264a7e"/><stop offset="0.72" stop-color="#264a7e"/><stop offset="0.76" stop-color="#274b7f"/><stop offset="0.79" stop-color="#284c80"/><stop offset="0.82" stop-color="#2c5083"/><stop offset="0.85" stop-color="#315488"/><stop offset="0.87" stop-color="#3a5c8f"/><stop offset="0.89" stop-color="#46679a"/><stop offset="0.91" stop-color="#5f7ead"/><stop offset="0.93" stop-color="#7996c0"/><stop offset="0.95" stop-color="#97aecf"/><stop offset="0.97" stop-color="#adbfd9"/><stop offset="1" stop-color="#bccbe0"/></linearGradient>
<rect x="75" y="331" width="97" height="12.3" fill="url(#g147)" shape-rendering="crispEdges"/>
<rect x="60" y="330" width="10" height="13.3" fill="#264a7e"/>
<line x1="55.2" y1="221.5" x2="55.2" y2="349.9" stroke="#000" stroke-width="1.5"/>
<line x1="54.5" y1="349.2" x2="177.9" y2="349.2" stroke="#000" stroke-width="1.5"/>
<text x="181.3" y="266.7" font-size="5.2" fill="#333" textLength="17.6" lengthAdjust="spacingAndGlyphs">Survival</text>
<linearGradient id="g148" x1="0" y1="0" x2="0" y2="1"><stop offset="0" stop-color="#2f5286"/><stop offset="0.03" stop-color="#35578b"/><stop offset="0.05" stop-color="#3b5d90"/><stop offset="0.07" stop-color="#416295"/><stop offset="0.1" stop-color="#47689b"/><stop offset="0.12" stop-color="#5171a2"/><stop offset="0.15" stop-color="#5b7aaa"/><stop offset="0.17" stop-color="#6583b2"/><stop offset="0.2" stop-color="#6f8db9"/><stop offset="0.23" stop-color="#7a96c1"/><stop offset="0.25" stop-color="#88a2c8"/><stop offset="0.28" stop-color="#97aecf"/><stop offset="0.3" stop-color="#a6bad6"/><stop offset="0.33" stop-color="#b5c6de"/><stop offset="0.35" stop-color="#c1cfe2"/><stop offset="0.38" stop-color="#cdd7e6"/><stop offset="0.4" stop-color="#d9e0ea"/><stop offset="0.42" stop-color="#e2e6ec"/><stop offset="0.45" stop-color="#eaeaeb"/><stop offset="0.47" stop-color="#f3efea"/><stop offset="0.5" stop-color="#f5e8e4"/><stop offset="0.53" stop-color="#f4dcdb"/><stop offset="0.55" stop-color="#f3cdd0"/><stop offset="0.57" stop-color="#f1bcc4"/><stop offset="0.6" stop-color="#efabb8"/><stop offset="0.62" stop-color="#ed9aab"/><stop offset="0.65" stop-color="#e8889d"/><stop offset="0.68" stop-color="#e4778e"/><stop offset="0.7" stop-color="#df6580"/><stop offset="0.72" stop-color="#db5371"/><stop offset="0.75" stop-color="#d64666"/><stop offset="0.78" stop-color="#cf3f60"/><stop offset="0.8" stop-color="#c9385b"/><stop offset="0.82" stop-color="#c23255"/><stop offset="0.85" stop-color="#bc2b50"/><stop offset="0.88" stop-color="#b6254a"/><stop offset="0.9" stop-color="#af1f45"/><stop offset="0.93" stop-color="#a61e42"/><stop offset="0.95" stop-color="#9d1c40"/><stop offset="0.97" stop-color="#941b3d"/><stop offset="1" stop-color="#8b1a3b"/></linearGradient>
<rect x="181.3" y="269.9" width="7.3" height="35.7" fill="url(#g148)"/>
<line x1="181.3" y1="270.4" x2="182.6" y2="270.4" stroke="#fff" stroke-width="0.5"/>
<line x1="187.3" y1="270.4" x2="188.6" y2="270.4" stroke="#fff" stroke-width="0.5"/>
<text x="190.9" y="272.1" font-size="4.6" fill="#444" textLength="5.9" lengthAdjust="spacingAndGlyphs">1.0</text>
<line x1="181.3" y1="278.6" x2="182.6" y2="278.6" stroke="#fff" stroke-width="0.5"/>
<line x1="187.3" y1="278.6" x2="188.6" y2="278.6" stroke="#fff" stroke-width="0.5"/>
<text x="190.9" y="280.3" font-size="4.6" fill="#444" textLength="5.9" lengthAdjust="spacingAndGlyphs">0.8</text>
<line x1="181.3" y1="287.2" x2="182.6" y2="287.2" stroke="#fff" stroke-width="0.5"/>
<line x1="187.3" y1="287.2" x2="188.6" y2="287.2" stroke="#fff" stroke-width="0.5"/>
<text x="190.9" y="288.9" font-size="4.6" fill="#444" textLength="5.9" lengthAdjust="spacingAndGlyphs">0.6</text>
<line x1="181.3" y1="296" x2="182.6" y2="296" stroke="#fff" stroke-width="0.5"/>
<line x1="187.3" y1="296" x2="188.6" y2="296" stroke="#fff" stroke-width="0.5"/>
<text x="190.9" y="297.7" font-size="4.6" fill="#444" textLength="5.9" lengthAdjust="spacingAndGlyphs">0.4</text>
<line x1="181.3" y1="303.9" x2="182.6" y2="303.9" stroke="#fff" stroke-width="0.5"/>
<line x1="187.3" y1="303.9" x2="188.6" y2="303.9" stroke="#fff" stroke-width="0.5"/>
<text x="190.9" y="305.6" font-size="4.6" fill="#444" textLength="5.9" lengthAdjust="spacingAndGlyphs">0.2</text>
<text x="49.3" y="236.8" font-size="11.2" text-anchor="end" stroke="#000" stroke-width="0.1">1</text>
<text x="49.3" y="265.6" font-size="11.2" text-anchor="end" stroke="#000" stroke-width="0.1">0.1</text>
<text x="49.3" y="294.5" font-size="11.2" text-anchor="end" stroke="#000" stroke-width="0.1">0.01</text>
<text x="49.3" y="323" font-size="11.2" text-anchor="end" stroke="#000" stroke-width="0.1">0.001</text>
<text x="80" y="363.7" font-size="11.2" text-anchor="middle" stroke="#000" stroke-width="0.1">0.01</text>
<text x="119.5" y="363.7" font-size="11.2" text-anchor="middle" stroke="#000" stroke-width="0.1">1</text>
<text x="157.7" y="363.7" font-size="11.2" text-anchor="middle" stroke="#000" stroke-width="0.1">100</text>
<text x="69.9" y="381.8" font-size="16" stroke="#000" stroke-width="0.2" textLength="82.6" lengthAdjust="spacingAndGlyphs">FSG67 (µM)</text>
<text x="15.9" y="313.6" font-size="16" stroke="#000" stroke-width="0.2" textLength="79.7" lengthAdjust="spacingAndGlyphs" transform="rotate(-90 15.9 313.6)">SN-38 (µM)</text>
<text x="0.4" y="211.9" font-size="14" stroke="#000" stroke-width="0.2" textLength="18.2" lengthAdjust="spacingAndGlyphs">(d)</text>
<g stroke="#000" stroke-width="0.2">
<text x="63.3" y="212.5" font-size="16" textLength="30.4" lengthAdjust="spacingAndGlyphs">ES-8</text>
<text x="97.5" y="212.5" font-size="16" font-style="italic" textLength="56.5" lengthAdjust="spacingAndGlyphs">SLFN11</text>
</g>
<text x="153.6" y="206.5" font-size="9" textLength="10.8" lengthAdjust="spacingAndGlyphs">-/-</text>
<line x1="283" y1="20.3" x2="411.8" y2="20.3" stroke="#ebebeb" stroke-width="0.7"/>
<line x1="283" y1="52.73" x2="411.8" y2="52.73" stroke="#ebebeb" stroke-width="0.7"/>
<line x1="283" y1="85.15" x2="411.8" y2="85.15" stroke="#ebebeb" stroke-width="0.7"/>
<line x1="283" y1="117.58" x2="411.8" y2="117.58" stroke="#ebebeb" stroke-width="0.7"/>
<line x1="310.9" y1="13.8" x2="310.9" y2="148.5" stroke="#ebebeb" stroke-width="0.7"/>
<line x1="339.5" y1="13.8" x2="339.5" y2="148.5" stroke="#ebebeb" stroke-width="0.7"/>
<line x1="368.1" y1="13.8" x2="368.1" y2="148.5" stroke="#ebebeb" stroke-width="0.7"/>
<line x1="396.8" y1="13.8" x2="396.8" y2="148.5" stroke="#ebebeb" stroke-width="0.7"/>
<path d="M288,27.18 L289.03,27.19 L290.06,27.19 L291.09,27.19 L292.12,27.19 L293.15,27.2 L294.18,27.2 L295.2,27.21 L296.23,27.23 L297.26,27.25 L298.29,27.28 L299.32,27.32 L300.35,27.39 L301.38,27.48 L302.41,27.61 L303.44,27.8 L304.47,28.07 L305.5,28.46 L306.52,29.02 L307.55,29.82 L308.58,30.96 L309.61,32.57 L310.64,34.82 L311.67,37.92 L312.7,42.12 L313.73,47.65 L314.76,54.71 L315.79,63.34 L316.82,73.35 L317.85,84.28 L318.88,95.47 L319.9,106.18 L320.93,115.79 L321.96,123.94 L322.99,130.51 L324.02,135.61 L325.05,139.44 L326.08,142.25 L327.11,144.28 L328.14,145.72 L329.17,146.74 L330.2,147.46 L331.23,147.96 L332.25,148.31 L333.28,148.5 L334.31,148.5 L335.34,148.5 L336.37,148.5 L337.4,148.5 L338.43,148.5 L339.46,148.5 L340.49,148.5 L341.52,148.5 L342.55,148.5 L343.57,148.5 L344.6,148.5 L345.63,148.5 L346.66,148.5 L347.69,148.5 L348.72,148.5 L349.75,148.5 L350.78,148.5 L351.81,148.5 L352.84,148.5 L353.87,148.5 L354.9,148.5 L355.93,148.5 L356.95,148.5 L357.98,148.5 L359.01,148.5 L360.04,148.5 L361.07,148.5 L362.1,148.5 L363.13,148.5 L364.16,148.5 L365.19,148.5 L366.22,148.5 L367.25,148.5 L368.27,148.5 L369.3,148.5 L370.33,148.5 L371.36,148.5 L372.39,148.5 L373.42,148.5 L374.45,148.5 L375.48,148.5 L376.51,148.5 L377.54,148.5 L378.57,148.5 L379.6,148.5 L380.62,148.5 L381.65,148.5 L382.68,148.5 L383.71,148.5 L384.74,148.5 L385.77,148.5 L386.8,148.5 L387.83,148.5 L388.86,148.5 L389.89,148.5 L390.92,148.5 L391.95,148.5 L392.98,148.5 L394,148.5 L395.03,148.5 L396.06,148.5 L397.09,148.5 L398.12,148.5 L399.15,148.5 L400.18,148.5 L401.21,148.5 L402.24,148.5 L403.27,148.5 L404.3,148.5 L405.32,148.5 L406.35,148.5 L407.38,148.5 L408.41,148.5 L409.44,148.5 L410.47,148.5 L411.5,148.5 L411.5,148.5 L410.47,148.5 L409.44,148.5 L408.41,148.5 L407.38,148.5 L406.35,148.5 L405.32,148.5 L404.3,148.5 L403.27,148.5 L402.24,148.5 L401.21,148.5 L400.18,148.5 L399.15,148.5 L398.12,148.5 L397.09,148.5 L396.06,148.5 L395.03,148.5 L394,148.5 L392.98,148.5 L391.95,148.5 L390.92,148.5 L389.89,148.5 L388.86,148.5 L387.83,148.5 L386.8,148.5 L385.77,148.5 L384.74,148.5 L383.71,148.5 L382.68,148.5 L381.65,148.5 L380.62,148.5 L379.6,148.5 L378.57,148.5 L377.54,148.5 L376.51,148.5 L375.48,148.5 L374.45,148.5 L373.42,148.5 L372.39,148.5 L371.36,148.5 L370.33,148.5 L369.3,148.5 L368.27,148.5 L367.25,148.5 L366.22,148.5 L365.19,148.5 L364.16,148.5 L363.13,148.5 L362.1,148.5 L361.07,148.5 L360.04,148.5 L359.01,148.5 L357.98,148.5 L356.95,148.5 L355.93,148.5 L354.9,148.5 L353.87,148.5 L352.84,148.5 L351.81,148.5 L350.78,148.5 L349.75,148.5 L348.72,148.5 L347.69,148.5 L346.66,148.5 L345.63,148.5 L344.6,148.5 L343.57,148.5 L342.55,148.5 L341.52,148.5 L340.49,148.5 L339.46,148.5 L338.43,148.5 L337.4,148.5 L336.37,148.5 L335.34,148.5 L334.31,148.5 L333.28,148.5 L332.25,148.5 L331.23,148.5 L330.2,148.5 L329.17,148.5 L328.14,147.52 L327.11,146.08 L326.08,144.05 L325.05,141.24 L324.02,137.41 L322.99,132.31 L321.96,125.74 L320.93,117.59 L319.9,107.98 L318.88,97.27 L317.85,86.08 L316.82,75.15 L315.79,65.14 L314.76,56.51 L313.73,49.45 L312.7,43.92 L311.67,39.72 L310.64,36.62 L309.61,34.37 L308.58,32.76 L307.55,31.62 L306.52,30.82 L305.5,30.26 L304.47,29.87 L303.44,29.6 L302.41,29.41 L301.38,29.28 L300.35,29.19 L299.32,29.12 L298.29,29.08 L297.26,29.05 L296.23,29.03 L295.2,29.01 L294.18,29 L293.15,29 L292.12,28.99 L291.09,28.99 L290.06,28.99 L289.03,28.99 L288,28.98Z" fill="#f2b8b8" fill-opacity="0.5"/>
<path d="M288,28.39 L289.03,28.39 L290.06,28.39 L291.09,28.4 L292.12,28.41 L293.15,28.42 L294.18,28.43 L295.2,28.45 L296.23,28.48 L297.26,28.53 L298.29,28.58 L299.32,28.67 L300.35,28.78 L301.38,28.95 L302.41,29.18 L303.44,29.49 L304.47,29.94 L305.5,30.56 L306.52,31.42 L307.55,32.61 L308.58,34.23 L309.61,36.44 L310.64,39.41 L311.67,43.32 L312.7,48.36 L313.73,54.67 L314.76,62.32 L315.79,71.17 L316.82,80.94 L317.85,91.13 L318.88,101.19 L319.9,110.57 L320.93,118.88 L321.96,125.89 L322.99,131.58 L324.02,136.06 L325.05,139.49 L326.08,142.07 L327.11,143.98 L328.14,145.39 L329.17,146.4 L330.2,147.14 L331.23,147.67 L332.25,148.05 L333.28,148.32 L334.31,148.5 L335.34,148.5 L336.37,148.5 L337.4,148.5 L338.43,148.5 L339.46,148.5 L340.49,148.5 L341.52,148.5 L342.55,148.5 L343.57,148.5 L344.6,148.5 L345.63,148.5 L346.66,148.5 L347.69,148.5 L348.72,148.5 L349.75,148.5 L350.78,148.5 L351.81,148.5 L352.84,148.5 L353.87,148.5 L354.9,148.5 L355.93,148.5 L356.95,148.5 L357.98,148.5 L359.01,148.5 L360.04,148.5 L361.07,148.5 L362.1,148.5 L363.13,148.5 L364.16,148.5 L365.19,148.5 L366.22,148.5 L367.25,148.5 L368.27,148.5 L369.3,148.5 L370.33,148.5 L371.36,148.5 L372.39,148.5 L373.42,148.5 L374.45,148.5 L375.48,148.5 L376.51,148.5 L377.54,148.5 L378.57,148.5 L379.6,148.5 L380.62,148.5 L381.65,148.5 L382.68,148.5 L383.71,148.5 L384.74,148.5 L385.77,148.5 L386.8,148.5 L387.83,148.5 L388.86,148.5 L389.89,148.5 L390.92,148.5 L391.95,148.5 L392.98,148.5 L394,148.5 L395.03,148.5 L396.06,148.5 L397.09,148.5 L398.12,148.5 L399.15,148.5 L400.18,148.5 L401.21,148.5 L402.24,148.5 L403.27,148.5 L404.3,148.5 L405.32,148.5 L406.35,148.5 L407.38,148.5 L408.41,148.5 L409.44,148.5 L410.47,148.5 L411.5,148.5 L411.5,148.5 L410.47,148.5 L409.44,148.5 L408.41,148.5 L407.38,148.5 L406.35,148.5 L405.32,148.5 L404.3,148.5 L403.27,148.5 L402.24,148.5 L401.21,148.5 L400.18,148.5 L399.15,148.5 L398.12,148.5 L397.09,148.5 L396.06,148.5 L395.03,148.5 L394,148.5 L392.98,148.5 L391.95,148.5 L390.92,148.5 L389.89,148.5 L388.86,148.5 L387.83,148.5 L386.8,148.5 L385.77,148.5 L384.74,148.5 L383.71,148.5 L382.68,148.5 L381.65,148.5 L380.62,148.5 L379.6,148.5 L378.57,148.5 L377.54,148.5 L376.51,148.5 L375.48,148.5 L374.45,148.5 L373.42,148.5 L372.39,148.5 L371.36,148.5 L370.33,148.5 L369.3,148.5 L368.27,148.5 L367.25,148.5 L366.22,148.5 L365.19,148.5 L364.16,148.5 L363.13,148.5 L362.1,148.5 L361.07,148.5 L360.04,148.5 L359.01,148.5 L357.98,148.5 L356.95,148.5 L355.93,148.5 L354.9,148.5 L353.87,148.5 L352.84,148.5 L351.81,148.5 L350.78,148.5 L349.75,148.5 L348.72,148.5 L347.69,148.5 L346.66,148.5 L345.63,148.5 L344.6,148.5 L343.57,148.5 L342.55,148.5 L341.52,148.5 L340.49,148.5 L339.46,148.5 L338.43,148.5 L337.4,148.5 L336.37,148.5 L335.34,148.5 L334.31,148.5 L333.28,148.5 L332.25,148.5 L331.23,148.5 L330.2,148.5 L329.17,148.4 L328.14,147.39 L327.11,145.98 L326.08,144.07 L325.05,141.49 L324.02,138.06 L322.99,133.58 L321.96,127.89 L320.93,120.88 L319.9,112.57 L318.88,103.19 L317.85,93.13 L316.82,82.94 L315.79,73.17 L314.76,64.32 L313.73,56.67 L312.7,50.36 L311.67,45.32 L310.64,41.41 L309.61,38.44 L308.58,36.23 L307.55,34.61 L306.52,33.42 L305.5,32.56 L304.47,31.94 L303.44,31.49 L302.41,31.18 L301.38,30.95 L300.35,30.78 L299.32,30.67 L298.29,30.58 L297.26,30.53 L296.23,30.48 L295.2,30.45 L294.18,30.43 L293.15,30.42 L292.12,30.41 L291.09,30.4 L290.06,30.39 L289.03,30.39 L288,30.39Z" fill="#b9e0a8" fill-opacity="0.5"/>
<path d="M288,29.54 L289.03,29.56 L290.06,29.59 L291.09,29.63 L292.12,29.68 L293.15,29.74 L294.18,29.82 L295.2,29.93 L296.23,30.07 L297.26,30.26 L298.29,30.5 L299.32,30.82 L300.35,31.24 L301.38,31.78 L302.41,32.48 L303.44,33.4 L304.47,34.57 L305.5,36.08 L306.52,38.01 L307.55,40.44 L308.58,43.47 L309.61,47.21 L310.64,51.73 L311.67,57.09 L312.7,63.3 L313.73,70.27 L314.76,77.88 L315.79,85.88 L316.82,94 L317.85,101.95 L318.88,109.44 L319.9,116.28 L320.93,122.32 L321.96,127.51 L322.99,131.87 L324.02,135.46 L325.05,138.37 L326.08,140.69 L327.11,142.52 L328.14,143.96 L329.17,145.08 L330.2,145.95 L331.23,146.61 L332.25,147.13 L333.28,147.52 L334.31,147.83 L335.34,148.06 L336.37,148.23 L337.4,148.37 L338.43,148.47 L339.46,148.5 L340.49,148.5 L341.52,148.5 L342.55,148.5 L343.57,148.5 L344.6,148.5 L345.63,148.5 L346.66,148.5 L347.69,148.5 L348.72,148.5 L349.75,148.5 L350.78,148.5 L351.81,148.5 L352.84,148.5 L353.87,148.5 L354.9,148.5 L355.93,148.5 L356.95,148.5 L357.98,148.5 L359.01,148.5 L360.04,148.5 L361.07,148.5 L362.1,148.5 L363.13,148.5 L364.16,148.5 L365.19,148.5 L366.22,148.5 L367.25,148.5 L368.27,148.5 L369.3,148.5 L370.33,148.5 L371.36,148.5 L372.39,148.5 L373.42,148.5 L374.45,148.5 L375.48,148.5 L376.51,148.5 L377.54,148.5 L378.57,148.5 L379.6,148.5 L380.62,148.5 L381.65,148.5 L382.68,148.5 L383.71,148.5 L384.74,148.5 L385.77,148.5 L386.8,148.5 L387.83,148.5 L388.86,148.5 L389.89,148.5 L390.92,148.5 L391.95,148.5 L392.98,148.5 L394,148.5 L395.03,148.5 L396.06,148.5 L397.09,148.5 L398.12,148.5 L399.15,148.5 L400.18,148.5 L401.21,148.5 L402.24,148.5 L403.27,148.5 L404.3,148.5 L405.32,148.5 L406.35,148.5 L407.38,148.5 L408.41,148.5 L409.44,148.5 L410.47,148.5 L411.5,148.5 L411.5,148.5 L410.47,148.5 L409.44,148.5 L408.41,148.5 L407.38,148.5 L406.35,148.5 L405.32,148.5 L404.3,148.5 L403.27,148.5 L402.24,148.5 L401.21,148.5 L400.18,148.5 L399.15,148.5 L398.12,148.5 L397.09,148.5 L396.06,148.5 L395.03,148.5 L394,148.5 L392.98,148.5 L391.95,148.5 L390.92,148.5 L389.89,148.5 L388.86,148.5 L387.83,148.5 L386.8,148.5 L385.77,148.5 L384.74,148.5 L383.71,148.5 L382.68,148.5 L381.65,148.5 L380.62,148.5 L379.6,148.5 L378.57,148.5 L377.54,148.5 L376.51,148.5 L375.48,148.5 L374.45,148.5 L373.42,148.5 L372.39,148.5 L371.36,148.5 L370.33,148.5 L369.3,148.5 L368.27,148.5 L367.25,148.5 L366.22,148.5 L365.19,148.5 L364.16,148.5 L363.13,148.5 L362.1,148.5 L361.07,148.5 L360.04,148.5 L359.01,148.5 L357.98,148.5 L356.95,148.5 L355.93,148.5 L354.9,148.5 L353.87,148.5 L352.84,148.5 L351.81,148.5 L350.78,148.5 L349.75,148.5 L348.72,148.5 L347.69,148.5 L346.66,148.5 L345.63,148.5 L344.6,148.5 L343.57,148.5 L342.55,148.5 L341.52,148.5 L340.49,148.5 L339.46,148.5 L338.43,148.5 L337.4,148.5 L336.37,148.5 L335.34,148.5 L334.31,148.5 L333.28,148.5 L332.25,148.5 L331.23,148.5 L330.2,148.35 L329.17,147.48 L328.14,146.36 L327.11,144.92 L326.08,143.09 L325.05,140.77 L324.02,137.86 L322.99,134.27 L321.96,129.91 L320.93,124.72 L319.9,118.68 L318.88,111.84 L317.85,104.35 L316.82,96.4 L315.79,88.28 L314.76,80.28 L313.73,72.67 L312.7,65.7 L311.67,59.49 L310.64,54.13 L309.61,49.61 L308.58,45.87 L307.55,42.84 L306.52,40.41 L305.5,38.48 L304.47,36.97 L303.44,35.8 L302.41,34.88 L301.38,34.18 L300.35,33.64 L299.32,33.22 L298.29,32.9 L297.26,32.66 L296.23,32.47 L295.2,32.33 L294.18,32.22 L293.15,32.14 L292.12,32.08 L291.09,32.03 L290.06,31.99 L289.03,31.96 L288,31.94Z" fill="#a8efe6" fill-opacity="0.6"/>
<path d="M288,46.57 L289.03,46.69 L290.06,46.85 L291.09,47.04 L292.12,47.28 L293.15,47.57 L294.18,47.93 L295.2,48.37 L296.23,48.92 L297.26,49.58 L298.29,50.39 L299.32,51.38 L300.35,52.57 L301.38,54.01 L302.41,55.73 L303.44,57.77 L304.47,60.18 L305.5,62.99 L306.52,66.23 L307.55,69.92 L308.58,74.04 L309.61,78.57 L310.64,83.47 L311.67,88.64 L312.7,93.99 L313.73,99.4 L314.76,104.74 L315.79,109.91 L316.82,114.79 L317.85,119.32 L318.88,123.43 L319.9,127.1 L320.93,130.33 L321.96,133.13 L322.99,135.52 L324.02,137.56 L325.05,139.27 L326.08,140.7 L327.11,141.89 L328.14,142.87 L329.17,143.67 L330.2,144.33 L331.23,144.87 L332.25,145.31 L333.28,145.67 L334.31,145.96 L335.34,146.2 L336.37,146.39 L337.4,146.55 L338.43,146.67 L339.46,146.77 L340.49,146.85 L341.52,146.92 L342.55,146.97 L343.57,147.02 L344.6,147.05 L345.63,147.08 L346.66,147.1 L347.69,147.12 L348.72,147.14 L349.75,147.15 L350.78,147.16 L351.81,147.17 L352.84,147.17 L353.87,147.18 L354.9,147.18 L355.93,147.19 L356.95,147.19 L357.98,147.19 L359.01,147.19 L360.04,147.19 L361.07,147.2 L362.1,147.2 L363.13,147.2 L364.16,147.2 L365.19,147.2 L366.22,147.2 L367.25,147.2 L368.27,147.2 L369.3,147.2 L370.33,147.2 L371.36,147.2 L372.39,147.2 L373.42,147.2 L374.45,147.2 L375.48,147.2 L376.51,147.2 L377.54,147.2 L378.57,147.2 L379.6,147.2 L380.62,147.2 L381.65,147.2 L382.68,147.2 L383.71,147.2 L384.74,147.2 L385.77,147.2 L386.8,147.2 L387.83,147.2 L388.86,147.2 L389.89,147.2 L390.92,147.2 L391.95,147.2 L392.98,147.2 L394,147.2 L395.03,147.2 L396.06,147.2 L397.09,147.2 L398.12,147.2 L399.15,147.2 L400.18,147.2 L401.21,147.2 L402.24,147.2 L403.27,147.2 L404.3,147.2 L405.32,147.2 L406.35,147.2 L407.38,147.2 L408.41,147.2 L409.44,147.2 L410.47,147.2 L411.5,147.2 L411.5,148.5 L410.47,148.5 L409.44,148.5 L408.41,148.5 L407.38,148.5 L406.35,148.5 L405.32,148.5 L404.3,148.5 L403.27,148.5 L402.24,148.5 L401.21,148.5 L400.18,148.5 L399.15,148.5 L398.12,148.5 L397.09,148.5 L396.06,148.5 L395.03,148.5 L394,148.5 L392.98,148.5 L391.95,148.5 L390.92,148.5 L389.89,148.5 L388.86,148.5 L387.83,148.5 L386.8,148.5 L385.77,148.5 L384.74,148.5 L383.71,148.5 L382.68,148.5 L381.65,148.5 L380.62,148.5 L379.6,148.5 L378.57,148.5 L377.54,148.5 L376.51,148.5 L375.48,148.5 L374.45,148.5 L373.42,148.5 L372.39,148.5 L371.36,148.5 L370.33,148.5 L369.3,148.5 L368.27,148.5 L367.25,148.5 L366.22,148.5 L365.19,148.5 L364.16,148.5 L363.13,148.5 L362.1,148.5 L361.07,148.5 L360.04,148.5 L359.01,148.5 L357.98,148.5 L356.95,148.5 L355.93,148.5 L354.9,148.5 L353.87,148.5 L352.84,148.5 L351.81,148.5 L350.78,148.5 L349.75,148.5 L348.72,148.5 L347.69,148.5 L346.66,148.5 L345.63,148.5 L344.6,148.5 L343.57,148.5 L342.55,148.5 L341.52,148.5 L340.49,148.5 L339.46,148.5 L338.43,148.5 L337.4,148.5 L336.37,148.5 L335.34,148.5 L334.31,148.5 L333.28,148.5 L332.25,148.5 L331.23,148.5 L330.2,148.5 L329.17,148.5 L328.14,148.47 L327.11,147.49 L326.08,146.3 L325.05,144.87 L324.02,143.16 L322.99,141.12 L321.96,138.73 L320.93,135.93 L319.9,132.7 L318.88,129.03 L317.85,124.92 L316.82,120.39 L315.79,115.51 L314.76,110.34 L313.73,105 L312.7,99.59 L311.67,94.24 L310.64,89.07 L309.61,84.17 L308.58,79.64 L307.55,75.52 L306.52,71.83 L305.5,68.59 L304.47,65.78 L303.44,63.37 L302.41,61.33 L301.38,59.61 L300.35,58.17 L299.32,56.98 L298.29,55.99 L297.26,55.18 L296.23,54.52 L295.2,53.97 L294.18,53.53 L293.15,53.17 L292.12,52.88 L291.09,52.64 L290.06,52.45 L289.03,52.29 L288,52.17Z" fill="#dccff0" fill-opacity="0.65"/>
<path d="M288,28.08 L289.03,28.09 L290.06,28.09 L291.09,28.09 L292.12,28.09 L293.15,28.1 L294.18,28.1 L295.2,28.11 L296.23,28.13 L297.26,28.15 L298.29,28.18 L299.32,28.22 L300.35,28.29 L301.38,28.38 L302.41,28.51 L303.44,28.7 L304.47,28.97 L305.5,29.36 L306.52,29.92 L307.55,30.72 L308.58,31.86 L309.61,33.47 L310.64,35.72 L311.67,38.82 L312.7,43.02 L313.73,48.55 L314.76,55.61 L315.79,64.24 L316.82,74.25 L317.85,85.18 L318.88,96.37 L319.9,107.08 L320.93,116.69 L321.96,124.84 L322.99,131.41 L324.02,136.51 L325.05,140.34 L326.08,143.15 L327.11,145.18 L328.14,146.62 L329.17,147.64 L330.2,148.36 L331.23,148.5 L332.25,148.5 L333.28,148.5 L334.31,148.5 L335.34,148.5 L336.37,148.5 L337.4,148.5 L338.43,148.5 L339.46,148.5 L340.49,148.5 L341.52,148.5 L342.55,148.5 L343.57,148.5 L344.6,148.5 L345.63,148.5 L346.66,148.5 L347.69,148.5 L348.72,148.5 L349.75,148.5 L350.78,148.5 L351.81,148.5 L352.84,148.5 L353.87,148.5 L354.9,148.5 L355.93,148.5 L356.95,148.5 L357.98,148.5 L359.01,148.5 L360.04,148.5 L361.07,148.5 L362.1,148.5 L363.13,148.5 L364.16,148.5 L365.19,148.5 L366.22,148.5 L367.25,148.5 L368.27,148.5 L369.3,148.5 L370.33,148.5 L371.36,148.5 L372.39,148.5 L373.42,148.5 L374.45,148.5 L375.48,148.5 L376.51,148.5 L377.54,148.5 L378.57,148.5 L379.6,148.5 L380.62,148.5 L381.65,148.5 L382.68,148.5 L383.71,148.5 L384.74,148.5 L385.77,148.5 L386.8,148.5 L387.83,148.5 L388.86,148.5 L389.89,148.5 L390.92,148.5 L391.95,148.5 L392.98,148.5 L394,148.5 L395.03,148.5 L396.06,148.5 L397.09,148.5 L398.12,148.5 L399.15,148.5 L400.18,148.5 L401.21,148.5 L402.24,148.5 L403.27,148.5 L404.3,148.5 L405.32,148.5 L406.35,148.5 L407.38,148.5 L408.41,148.5 L409.44,148.5 L410.47,148.5 L411.5,148.5" fill="none" stroke="#dc8a8a" stroke-width="1.2" stroke-linejoin="round"/>
<path d="M288,29.39 L289.03,29.39 L290.06,29.39 L291.09,29.4 L292.12,29.41 L293.15,29.42 L294.18,29.43 L295.2,29.45 L296.23,29.48 L297.26,29.53 L298.29,29.58 L299.32,29.67 L300.35,29.78 L301.38,29.95 L302.41,30.18 L303.44,30.49 L304.47,30.94 L305.5,31.56 L306.52,32.42 L307.55,33.61 L308.58,35.23 L309.61,37.44 L310.64,40.41 L311.67,44.32 L312.7,49.36 L313.73,55.67 L314.76,63.32 L315.79,72.17 L316.82,81.94 L317.85,92.13 L318.88,102.19 L319.9,111.57 L320.93,119.88 L321.96,126.89 L322.99,132.58 L324.02,137.06 L325.05,140.49 L326.08,143.07 L327.11,144.98 L328.14,146.39 L329.17,147.4 L330.2,148.14 L331.23,148.5 L332.25,148.5 L333.28,148.5 L334.31,148.5 L335.34,148.5 L336.37,148.5 L337.4,148.5 L338.43,148.5 L339.46,148.5 L340.49,148.5 L341.52,148.5 L342.55,148.5 L343.57,148.5 L344.6,148.5 L345.63,148.5 L346.66,148.5 L347.69,148.5 L348.72,148.5 L349.75,148.5 L350.78,148.5 L351.81,148.5 L352.84,148.5 L353.87,148.5 L354.9,148.5 L355.93,148.5 L356.95,148.5 L357.98,148.5 L359.01,148.5 L360.04,148.5 L361.07,148.5 L362.1,148.5 L363.13,148.5 L364.16,148.5 L365.19,148.5 L366.22,148.5 L367.25,148.5 L368.27,148.5 L369.3,148.5 L370.33,148.5 L371.36,148.5 L372.39,148.5 L373.42,148.5 L374.45,148.5 L375.48,148.5 L376.51,148.5 L377.54,148.5 L378.57,148.5 L379.6,148.5 L380.62,148.5 L381.65,148.5 L382.68,148.5 L383.71,148.5 L384.74,148.5 L385.77,148.5 L386.8,148.5 L387.83,148.5 L388.86,148.5 L389.89,148.5 L390.92,148.5 L391.95,148.5 L392.98,148.5 L394,148.5 L395.03,148.5 L396.06,148.5 L397.09,148.5 L398.12,148.5 L399.15,148.5 L400.18,148.5 L401.21,148.5 L402.24,148.5 L403.27,148.5 L404.3,148.5 L405.32,148.5 L406.35,148.5 L407.38,148.5 L408.41,148.5 L409.44,148.5 L410.47,148.5 L411.5,148.5" fill="none" stroke="#79b46f" stroke-width="1.2" stroke-linejoin="round"/>
<path d="M288,30.74 L289.03,30.76 L290.06,30.79 L291.09,30.83 L292.12,30.88 L293.15,30.94 L294.18,31.02 L295.2,31.13 L296.23,31.27 L297.26,31.46 L298.29,31.7 L299.32,32.02 L300.35,32.44 L301.38,32.98 L302.41,33.68 L303.44,34.6 L304.47,35.77 L305.5,37.28 L306.52,39.21 L307.55,41.64 L308.58,44.67 L309.61,48.41 L310.64,52.93 L311.67,58.29 L312.7,64.5 L313.73,71.47 L314.76,79.08 L315.79,87.08 L316.82,95.2 L317.85,103.15 L318.88,110.64 L319.9,117.48 L320.93,123.52 L321.96,128.71 L322.99,133.07 L324.02,136.66 L325.05,139.57 L326.08,141.89 L327.11,143.72 L328.14,145.16 L329.17,146.28 L330.2,147.15 L331.23,147.81 L332.25,148.33 L333.28,148.5 L334.31,148.5 L335.34,148.5 L336.37,148.5 L337.4,148.5 L338.43,148.5 L339.46,148.5 L340.49,148.5 L341.52,148.5 L342.55,148.5 L343.57,148.5 L344.6,148.5 L345.63,148.5 L346.66,148.5 L347.69,148.5 L348.72,148.5 L349.75,148.5 L350.78,148.5 L351.81,148.5 L352.84,148.5 L353.87,148.5 L354.9,148.5 L355.93,148.5 L356.95,148.5 L357.98,148.5 L359.01,148.5 L360.04,148.5 L361.07,148.5 L362.1,148.5 L363.13,148.5 L364.16,148.5 L365.19,148.5 L366.22,148.5 L367.25,148.5 L368.27,148.5 L369.3,148.5 L370.33,148.5 L371.36,148.5 L372.39,148.5 L373.42,148.5 L374.45,148.5 L375.48,148.5 L376.51,148.5 L377.54,148.5 L378.57,148.5 L379.6,148.5 L380.62,148.5 L381.65,148.5 L382.68,148.5 L383.71,148.5 L384.74,148.5 L385.77,148.5 L386.8,148.5 L387.83,148.5 L388.86,148.5 L389.89,148.5 L390.92,148.5 L391.95,148.5 L392.98,148.5 L394,148.5 L395.03,148.5 L396.06,148.5 L397.09,148.5 L398.12,148.5 L399.15,148.5 L400.18,148.5 L401.21,148.5 L402.24,148.5 L403.27,148.5 L404.3,148.5 L405.32,148.5 L406.35,148.5 L407.38,148.5 L408.41,148.5 L409.44,148.5 L410.47,148.5 L411.5,148.5" fill="none" stroke="#3cb8b0" stroke-width="1.2" stroke-linejoin="round"/>
<path d="M288,49.37 L289.03,49.49 L290.06,49.65 L291.09,49.84 L292.12,50.08 L293.15,50.37 L294.18,50.73 L295.2,51.17 L296.23,51.72 L297.26,52.38 L298.29,53.19 L299.32,54.18 L300.35,55.37 L301.38,56.81 L302.41,58.53 L303.44,60.57 L304.47,62.98 L305.5,65.79 L306.52,69.03 L307.55,72.72 L308.58,76.84 L309.61,81.37 L310.64,86.27 L311.67,91.44 L312.7,96.79 L313.73,102.2 L314.76,107.54 L315.79,112.71 L316.82,117.59 L317.85,122.12 L318.88,126.23 L319.9,129.9 L320.93,133.13 L321.96,135.93 L322.99,138.32 L324.02,140.36 L325.05,142.07 L326.08,143.5 L327.11,144.69 L328.14,145.67 L329.17,146.47 L330.2,147.13 L331.23,147.67 L332.25,148.11 L333.28,148.47 L334.31,148.5 L335.34,148.5 L336.37,148.5 L337.4,148.5 L338.43,148.5 L339.46,148.5 L340.49,148.5 L341.52,148.5 L342.55,148.5 L343.57,148.5 L344.6,148.5 L345.63,148.5 L346.66,148.5 L347.69,148.5 L348.72,148.5 L349.75,148.5 L350.78,148.5 L351.81,148.5 L352.84,148.5 L353.87,148.5 L354.9,148.5 L355.93,148.5 L356.95,148.5 L357.98,148.5 L359.01,148.5 L360.04,148.5 L361.07,148.5 L362.1,148.5 L363.13,148.5 L364.16,148.5 L365.19,148.5 L366.22,148.5 L367.25,148.5 L368.27,148.5 L369.3,148.5 L370.33,148.5 L371.36,148.5 L372.39,148.5 L373.42,148.5 L374.45,148.5 L375.48,148.5 L376.51,148.5 L377.54,148.5 L378.57,148.5 L379.6,148.5 L380.62,148.5 L381.65,148.5 L382.68,148.5 L383.71,148.5 L384.74,148.5 L385.77,148.5 L386.8,148.5 L387.83,148.5 L388.86,148.5 L389.89,148.5 L390.92,148.5 L391.95,148.5 L392.98,148.5 L394,148.5 L395.03,148.5 L396.06,148.5 L397.09,148.5 L398.12,148.5 L399.15,148.5 L400.18,148.5 L401.21,148.5 L402.24,148.5 L403.27,148.5 L404.3,148.5 L405.32,148.5 L406.35,148.5 L407.38,148.5 L408.41,148.5 L409.44,148.5 L410.47,148.5 L411.5,148.5" fill="none" stroke="#a58fd0" stroke-width="1.2" stroke-linejoin="round"/>
<line x1="283" y1="85.5" x2="411" y2="85.5" stroke="#222" stroke-width="1.3" stroke-dasharray="3.4 3.15" stroke-dashoffset="0.3"/>
<line x1="283" y1="136.6" x2="411" y2="136.6" stroke="#222" stroke-width="1.3" stroke-dasharray="3.4 3.15" stroke-dashoffset="0.3"/>
<line x1="282.8" y1="13.8" x2="282.8" y2="149.3" stroke="#000" stroke-width="1.5"/>
<line x1="282" y1="148.5" x2="411.8" y2="148.5" stroke="#000" stroke-width="1.5"/>
<line x1="310.9" y1="149.2" x2="310.9" y2="150.8" stroke="#555" stroke-width="0.6"/>
<line x1="339.5" y1="149.2" x2="339.5" y2="150.8" stroke="#555" stroke-width="0.6"/>
<line x1="368.1" y1="149.2" x2="368.1" y2="150.8" stroke="#555" stroke-width="0.6"/>
<line x1="396.8" y1="149.2" x2="396.8" y2="150.8" stroke="#555" stroke-width="0.6"/>
<text x="277.5" y="21.4" font-size="11.2" text-anchor="end" stroke="#000" stroke-width="0.1">1</text>
<text x="256.1" y="52.9" font-size="11.2" stroke="#000" stroke-width="0.1" textLength="21.4" lengthAdjust="spacingAndGlyphs">0.75</text>
<text x="255.7" y="84.9" font-size="11.2" stroke="#000" stroke-width="0.1" textLength="21.8" lengthAdjust="spacingAndGlyphs">0.50</text>
<text x="255.7" y="116.9" font-size="11.2" stroke="#000" stroke-width="0.1" textLength="21.8" lengthAdjust="spacingAndGlyphs">0.25</text>
<text x="255.7" y="148.5" font-size="11.2" stroke="#000" stroke-width="0.1" textLength="21.8" lengthAdjust="spacingAndGlyphs">0.00</text>
<text x="299.4" y="162" font-size="11.2" text-anchor="middle" stroke="#000" stroke-width="0.1" textLength="27.4" lengthAdjust="spacingAndGlyphs">0.001</text>
<text x="337" y="162" font-size="11.2" text-anchor="middle" stroke="#000" stroke-width="0.1" textLength="20" lengthAdjust="spacingAndGlyphs">0.01</text>
<text x="365.35" y="162" font-size="11.2" text-anchor="middle" stroke="#000" stroke-width="0.1" textLength="15.3" lengthAdjust="spacingAndGlyphs">0.1</text>
<text x="397" y="162" font-size="11.2" text-anchor="middle" stroke="#000" stroke-width="0.1">1</text>
<text x="305.5" y="179.7" font-size="16" stroke="#000" stroke-width="0.2" textLength="80.6" lengthAdjust="spacingAndGlyphs">SN-38 (µM)</text>
<text x="248.3" y="102.4" font-size="16" stroke="#000" stroke-width="0.2" textLength="58.7" lengthAdjust="spacingAndGlyphs" transform="rotate(-90 248.3 102.4)">Survival</text>
<text x="236" y="12" font-size="14" stroke="#000" stroke-width="0.2" textLength="18.8" lengthAdjust="spacingAndGlyphs">(b)</text>
<text x="317.4" y="12.8" font-size="16" stroke="#000" stroke-width="0.2" textLength="57.7" lengthAdjust="spacingAndGlyphs">ES-8 WT</text>
<text x="413.7" y="43.7" font-size="7.6" fill="#222" stroke="#222" stroke-width="0.15" textLength="21.3" lengthAdjust="spacingAndGlyphs">FSG67</text>
<text x="413.7" y="51.7" font-size="7.6" fill="#e8403a" stroke="#e8403a" stroke-width="0.15" textLength="17.5" lengthAdjust="spacingAndGlyphs">0 µM</text>
<text x="413.7" y="59.7" font-size="7.6" fill="#45a84a" stroke="#45a84a" stroke-width="0.15" textLength="21.3" lengthAdjust="spacingAndGlyphs">50 µM</text>
<text x="413.7" y="67.7" font-size="7.6" fill="#3aace6" stroke="#3aace6" stroke-width="0.15" textLength="25.1" lengthAdjust="spacingAndGlyphs">100 µM</text>
<text x="413.7" y="75.7" font-size="7.6" fill="#6b3aa0" stroke="#6b3aa0" stroke-width="0.15" textLength="25.1" lengthAdjust="spacingAndGlyphs">200 µM</text>
<line x1="282" y1="223.6" x2="408.9" y2="223.6" stroke="#ebebeb" stroke-width="0.7"/>
<line x1="282" y1="255.55" x2="408.9" y2="255.55" stroke="#ebebeb" stroke-width="0.7"/>
<line x1="282" y1="287.5" x2="408.9" y2="287.5" stroke="#ebebeb" stroke-width="0.7"/>
<line x1="282" y1="319.45" x2="408.9" y2="319.45" stroke="#ebebeb" stroke-width="0.7"/>
<line x1="308.8" y1="217.8" x2="308.8" y2="350" stroke="#ebebeb" stroke-width="0.7"/>
<line x1="337.1" y1="217.8" x2="337.1" y2="350" stroke="#ebebeb" stroke-width="0.7"/>
<line x1="366.3" y1="217.8" x2="366.3" y2="350" stroke="#ebebeb" stroke-width="0.7"/>
<line x1="394.6" y1="217.8" x2="394.6" y2="350" stroke="#ebebeb" stroke-width="0.7"/>
<path d="M288,228.91 L288.97,229.13 L289.93,229.35 L290.9,229.58 L291.87,229.82 L292.83,230.06 L293.8,230.31 L294.77,230.57 L295.73,230.83 L296.7,231.11 L297.67,231.39 L298.63,231.68 L299.6,231.97 L300.57,232.28 L301.53,232.59 L302.5,232.92 L303.47,233.25 L304.43,233.59 L305.4,233.95 L306.37,234.31 L307.33,234.68 L308.3,235.06 L309.27,235.45 L310.23,235.86 L311.2,236.27 L312.17,236.69 L313.13,237.13 L314.1,237.58 L315.07,238.03 L316.03,238.5 L317,238.99 L317.97,239.48 L318.93,239.98 L319.9,240.5 L320.87,241.03 L321.83,241.58 L322.8,242.13 L323.77,242.7 L324.73,243.29 L325.7,243.88 L326.67,244.49 L327.63,245.11 L328.6,245.75 L329.57,246.4 L330.53,247.06 L331.5,247.74 L332.47,248.43 L333.43,249.13 L334.4,249.85 L335.37,250.58 L336.33,251.33 L337.3,252.08 L338.27,252.86 L339.23,253.64 L340.2,254.44 L341.17,255.26 L342.13,256.08 L343.1,256.92 L344.07,257.77 L345.03,258.64 L346,259.52 L346.97,260.41 L347.93,261.31 L348.9,262.22 L349.87,263.15 L350.83,264.08 L351.8,265.03 L352.77,265.99 L353.73,266.95 L354.7,267.93 L355.67,268.92 L356.63,269.91 L357.6,270.92 L358.57,271.93 L359.53,272.95 L360.5,273.98 L361.47,275.01 L362.43,276.05 L363.4,277.1 L364.37,278.15 L365.33,279.2 L366.3,280.26 L367.27,281.32 L368.23,282.38 L369.2,283.45 L370.17,284.52 L371.13,285.58 L372.1,286.65 L373.07,287.72 L374.03,288.79 L375,289.85 L375.97,290.92 L376.93,291.98 L377.9,293.04 L378.87,294.09 L379.83,295.14 L380.8,296.19 L381.77,297.22 L382.73,298.26 L383.7,299.28 L384.67,300.3 L385.63,301.32 L386.6,302.32 L387.57,303.32 L388.53,304.3 L389.5,305.28 L390.47,306.25 L391.43,307.2 L392.4,308.15 L393.37,309.09 L394.33,310.01 L395.3,310.92 L396.27,311.83 L397.23,312.71 L398.2,313.59 L399.17,314.46 L400.13,315.31 L401.1,316.15 L402.07,316.97 L403.03,317.79 L404,318.58 L404,321.38 L403.03,320.59 L402.07,319.77 L401.1,318.95 L400.13,318.11 L399.17,317.26 L398.2,316.39 L397.23,315.51 L396.27,314.63 L395.3,313.72 L394.33,312.81 L393.37,311.89 L392.4,310.95 L391.43,310 L390.47,309.05 L389.5,308.08 L388.53,307.1 L387.57,306.12 L386.6,305.12 L385.63,304.12 L384.67,303.1 L383.7,302.08 L382.73,301.06 L381.77,300.02 L380.8,298.99 L379.83,297.94 L378.87,296.89 L377.9,295.84 L376.93,294.78 L375.97,293.72 L375,292.65 L374.03,291.59 L373.07,290.52 L372.1,289.45 L371.13,288.38 L370.17,287.32 L369.2,286.25 L368.23,285.18 L367.27,284.12 L366.3,283.06 L365.33,282 L364.37,280.95 L363.4,279.9 L362.43,278.85 L361.47,277.81 L360.5,276.78 L359.53,275.75 L358.57,274.73 L357.6,273.72 L356.63,272.71 L355.67,271.72 L354.7,270.73 L353.73,269.75 L352.77,268.79 L351.8,267.83 L350.83,266.88 L349.87,265.95 L348.9,265.02 L347.93,264.11 L346.97,263.21 L346,262.32 L345.03,261.44 L344.07,260.57 L343.1,259.72 L342.13,258.88 L341.17,258.06 L340.2,257.24 L339.23,256.44 L338.27,255.66 L337.3,254.88 L336.33,254.13 L335.37,253.38 L334.4,252.65 L333.43,251.93 L332.47,251.23 L331.5,250.54 L330.53,249.86 L329.57,249.2 L328.6,248.55 L327.63,247.91 L326.67,247.29 L325.7,246.68 L324.73,246.09 L323.77,245.5 L322.8,244.93 L321.83,244.38 L320.87,243.83 L319.9,243.3 L318.93,242.78 L317.97,242.28 L317,241.79 L316.03,241.3 L315.07,240.83 L314.1,240.38 L313.13,239.93 L312.17,239.49 L311.2,239.07 L310.23,238.66 L309.27,238.25 L308.3,237.86 L307.33,237.48 L306.37,237.11 L305.4,236.75 L304.43,236.39 L303.47,236.05 L302.5,235.72 L301.53,235.39 L300.57,235.08 L299.6,234.77 L298.63,234.48 L297.67,234.19 L296.7,233.91 L295.73,233.63 L294.77,233.37 L293.8,233.11 L292.83,232.86 L291.87,232.62 L290.9,232.38 L289.93,232.15 L288.97,231.93 L288,231.71Z" fill="#f4c4c0" fill-opacity="0.6"/>
<path d="M288,232 L288.97,232.21 L289.93,232.43 L290.9,232.65 L291.87,232.87 L292.83,233.11 L293.8,233.35 L294.77,233.6 L295.73,233.85 L296.7,234.12 L297.67,234.39 L298.63,234.67 L299.6,234.96 L300.57,235.25 L301.53,235.56 L302.5,235.87 L303.47,236.19 L304.43,236.52 L305.4,236.86 L306.37,237.21 L307.33,237.57 L308.3,237.94 L309.27,238.32 L310.23,238.71 L311.2,239.12 L312.17,239.53 L313.13,239.95 L314.1,240.39 L315.07,240.83 L316.03,241.29 L317,241.76 L317.97,242.24 L318.93,242.73 L319.9,243.23 L320.87,243.75 L321.83,244.28 L322.8,244.82 L323.77,245.38 L324.73,245.95 L325.7,246.53 L326.67,247.12 L327.63,247.73 L328.6,248.35 L329.57,248.98 L330.53,249.63 L331.5,250.29 L332.47,250.97 L333.43,251.66 L334.4,252.36 L335.37,253.08 L336.33,253.81 L337.3,254.55 L338.27,255.31 L339.23,256.08 L340.2,256.86 L341.17,257.66 L342.13,258.47 L343.1,259.29 L344.07,260.13 L345.03,260.98 L346,261.84 L346.97,262.71 L347.93,263.6 L348.9,264.49 L349.87,265.4 L350.83,266.32 L351.8,267.25 L352.77,268.19 L353.73,269.14 L354.7,270.1 L355.67,271.07 L356.63,272.05 L357.6,273.03 L358.57,274.03 L359.53,275.03 L360.5,276.04 L361.47,277.05 L362.43,278.08 L363.4,279.1 L364.37,280.13 L365.33,281.17 L366.3,282.21 L367.27,283.25 L368.23,284.29 L369.2,285.34 L370.17,286.39 L371.13,287.44 L372.1,288.48 L373.07,289.53 L374.03,290.58 L375,291.62 L375.97,292.67 L376.93,293.71 L377.9,294.74 L378.87,295.78 L379.83,296.8 L380.8,297.83 L381.77,298.84 L382.73,299.86 L383.7,300.86 L384.67,301.86 L385.63,302.85 L386.6,303.83 L387.57,304.8 L388.53,305.76 L389.5,306.72 L390.47,307.66 L391.43,308.59 L392.4,309.52 L393.37,310.43 L394.33,311.33 L395.3,312.22 L396.27,313.1 L397.23,313.96 L398.2,314.82 L399.17,315.66 L400.13,316.48 L401.1,317.3 L402.07,318.1 L403.03,318.89 L404,319.66 L404,323.26 L403.03,322.49 L402.07,321.7 L401.1,320.9 L400.13,320.08 L399.17,319.26 L398.2,318.42 L397.23,317.56 L396.27,316.7 L395.3,315.82 L394.33,314.93 L393.37,314.03 L392.4,313.12 L391.43,312.19 L390.47,311.26 L389.5,310.32 L388.53,309.36 L387.57,308.4 L386.6,307.43 L385.63,306.45 L384.67,305.46 L383.7,304.46 L382.73,303.46 L381.77,302.44 L380.8,301.43 L379.83,300.4 L378.87,299.38 L377.9,298.34 L376.93,297.31 L375.97,296.27 L375,295.22 L374.03,294.18 L373.07,293.13 L372.1,292.08 L371.13,291.04 L370.17,289.99 L369.2,288.94 L368.23,287.89 L367.27,286.85 L366.3,285.81 L365.33,284.77 L364.37,283.73 L363.4,282.7 L362.43,281.68 L361.47,280.65 L360.5,279.64 L359.53,278.63 L358.57,277.63 L357.6,276.63 L356.63,275.65 L355.67,274.67 L354.7,273.7 L353.73,272.74 L352.77,271.79 L351.8,270.85 L350.83,269.92 L349.87,269 L348.9,268.09 L347.93,267.2 L346.97,266.31 L346,265.44 L345.03,264.58 L344.07,263.73 L343.1,262.89 L342.13,262.07 L341.17,261.26 L340.2,260.46 L339.23,259.68 L338.27,258.91 L337.3,258.15 L336.33,257.41 L335.37,256.68 L334.4,255.96 L333.43,255.26 L332.47,254.57 L331.5,253.89 L330.53,253.23 L329.57,252.58 L328.6,251.95 L327.63,251.33 L326.67,250.72 L325.7,250.13 L324.73,249.55 L323.77,248.98 L322.8,248.42 L321.83,247.88 L320.87,247.35 L319.9,246.83 L318.93,246.33 L317.97,245.84 L317,245.36 L316.03,244.89 L315.07,244.43 L314.1,243.99 L313.13,243.55 L312.17,243.13 L311.2,242.72 L310.23,242.31 L309.27,241.92 L308.3,241.54 L307.33,241.17 L306.37,240.81 L305.4,240.46 L304.43,240.12 L303.47,239.79 L302.5,239.47 L301.53,239.16 L300.57,238.85 L299.6,238.56 L298.63,238.27 L297.67,237.99 L296.7,237.72 L295.73,237.45 L294.77,237.2 L293.8,236.95 L292.83,236.71 L291.87,236.47 L290.9,236.25 L289.93,236.03 L288.97,235.81 L288,235.6Z" fill="#c0e4b0" fill-opacity="0.6"/>
<path d="M288,240.63 L288.97,240.83 L289.93,241.03 L290.9,241.24 L291.87,241.45 L292.83,241.68 L293.8,241.91 L294.77,242.14 L295.73,242.39 L296.7,242.64 L297.67,242.9 L298.63,243.16 L299.6,243.44 L300.57,243.72 L301.53,244.01 L302.5,244.31 L303.47,244.61 L304.43,244.93 L305.4,245.26 L306.37,245.59 L307.33,245.93 L308.3,246.29 L309.27,246.65 L310.23,247.02 L311.2,247.41 L312.17,247.8 L313.13,248.2 L314.1,248.62 L315.07,249.04 L316.03,249.48 L317,249.93 L317.97,250.39 L318.93,250.86 L319.9,251.34 L320.87,251.84 L321.83,252.34 L322.8,252.86 L323.77,253.39 L324.73,253.94 L325.7,254.49 L326.67,255.06 L327.63,255.64 L328.6,256.24 L329.57,256.84 L330.53,257.46 L331.5,258.09 L332.47,258.74 L333.43,259.4 L334.4,260.07 L335.37,260.75 L336.33,261.45 L337.3,262.16 L338.27,262.88 L339.23,263.61 L340.2,264.36 L341.17,265.12 L342.13,265.89 L343.1,266.67 L344.07,267.47 L345.03,268.27 L346,269.09 L346.97,269.92 L347.93,270.76 L348.9,271.61 L349.87,272.48 L350.83,273.35 L351.8,274.23 L352.77,275.12 L353.73,276.02 L354.7,276.92 L355.67,277.84 L356.63,278.76 L357.6,279.69 L358.57,280.63 L359.53,281.57 L360.5,282.52 L361.47,283.47 L362.43,284.43 L363.4,285.4 L364.37,286.36 L365.33,287.33 L366.3,288.3 L367.27,289.28 L368.23,290.25 L369.2,291.23 L370.17,292.2 L371.13,293.18 L372.1,294.15 L373.07,295.12 L374.03,296.1 L375,297.06 L375.97,298.03 L376.93,298.99 L377.9,299.95 L378.87,300.9 L379.83,301.84 L380.8,302.79 L381.77,303.72 L382.73,304.65 L383.7,305.57 L384.67,306.48 L385.63,307.38 L386.6,308.28 L387.57,309.17 L388.53,310.04 L389.5,310.91 L390.47,311.77 L391.43,312.62 L392.4,313.45 L393.37,314.28 L394.33,315.09 L395.3,315.89 L396.27,316.68 L397.23,317.46 L398.2,318.23 L399.17,318.98 L400.13,319.73 L401.1,320.46 L402.07,321.17 L403.03,321.88 L404,322.57 L404,328.57 L403.03,327.88 L402.07,327.17 L401.1,326.46 L400.13,325.73 L399.17,324.98 L398.2,324.23 L397.23,323.46 L396.27,322.68 L395.3,321.89 L394.33,321.09 L393.37,320.28 L392.4,319.45 L391.43,318.62 L390.47,317.77 L389.5,316.91 L388.53,316.04 L387.57,315.17 L386.6,314.28 L385.63,313.38 L384.67,312.48 L383.7,311.57 L382.73,310.65 L381.77,309.72 L380.8,308.79 L379.83,307.84 L378.87,306.9 L377.9,305.95 L376.93,304.99 L375.97,304.03 L375,303.06 L374.03,302.1 L373.07,301.12 L372.1,300.15 L371.13,299.18 L370.17,298.2 L369.2,297.23 L368.23,296.25 L367.27,295.28 L366.3,294.3 L365.33,293.33 L364.37,292.36 L363.4,291.4 L362.43,290.43 L361.47,289.47 L360.5,288.52 L359.53,287.57 L358.57,286.63 L357.6,285.69 L356.63,284.76 L355.67,283.84 L354.7,282.92 L353.73,282.02 L352.77,281.12 L351.8,280.23 L350.83,279.35 L349.87,278.48 L348.9,277.61 L347.93,276.76 L346.97,275.92 L346,275.09 L345.03,274.27 L344.07,273.47 L343.1,272.67 L342.13,271.89 L341.17,271.12 L340.2,270.36 L339.23,269.61 L338.27,268.88 L337.3,268.16 L336.33,267.45 L335.37,266.75 L334.4,266.07 L333.43,265.4 L332.47,264.74 L331.5,264.09 L330.53,263.46 L329.57,262.84 L328.6,262.24 L327.63,261.64 L326.67,261.06 L325.7,260.49 L324.73,259.94 L323.77,259.39 L322.8,258.86 L321.83,258.34 L320.87,257.84 L319.9,257.34 L318.93,256.86 L317.97,256.39 L317,255.93 L316.03,255.48 L315.07,255.04 L314.1,254.62 L313.13,254.2 L312.17,253.8 L311.2,253.41 L310.23,253.02 L309.27,252.65 L308.3,252.29 L307.33,251.93 L306.37,251.59 L305.4,251.26 L304.43,250.93 L303.47,250.61 L302.5,250.31 L301.53,250.01 L300.57,249.72 L299.6,249.44 L298.63,249.16 L297.67,248.9 L296.7,248.64 L295.73,248.39 L294.77,248.14 L293.8,247.91 L292.83,247.68 L291.87,247.45 L290.9,247.24 L289.93,247.03 L288.97,246.83 L288,246.63Z" fill="#a6f0e6" fill-opacity="0.7"/>
<path d="M288,277.02 L288.97,277.22 L289.93,277.42 L290.9,277.63 L291.87,277.84 L292.83,278.06 L293.8,278.28 L294.77,278.5 L295.73,278.73 L296.7,278.97 L297.67,279.21 L298.63,279.46 L299.6,279.71 L300.57,279.96 L301.53,280.23 L302.5,280.49 L303.47,280.76 L304.43,281.04 L305.4,281.32 L306.37,281.61 L307.33,281.91 L308.3,282.21 L309.27,282.51 L310.23,282.82 L311.2,283.14 L312.17,283.46 L313.13,283.79 L314.1,284.12 L315.07,284.46 L316.03,284.81 L317,285.16 L317.97,285.52 L318.93,285.88 L319.9,286.25 L320.87,286.62 L321.83,287 L322.8,287.39 L323.77,287.78 L324.73,288.18 L325.7,288.58 L326.67,288.99 L327.63,289.41 L328.6,289.83 L329.57,290.26 L330.53,290.69 L331.5,291.13 L332.47,291.57 L333.43,292.02 L334.4,292.47 L335.37,292.93 L336.33,293.39 L337.3,293.86 L338.27,294.34 L339.23,294.82 L340.2,295.3 L341.17,295.79 L342.13,296.28 L343.1,296.78 L344.07,297.28 L345.03,297.78 L346,298.29 L346.97,298.81 L347.93,299.32 L348.9,299.84 L349.87,300.37 L350.83,300.89 L351.8,301.42 L352.77,301.95 L353.73,302.49 L354.7,303.02 L355.67,303.56 L356.63,304.1 L357.6,304.65 L358.57,305.19 L359.53,305.74 L360.5,306.28 L361.47,306.83 L362.43,307.38 L363.4,307.93 L364.37,308.48 L365.33,309.03 L366.3,309.58 L367.27,310.13 L368.23,310.68 L369.2,311.22 L370.17,311.77 L371.13,312.32 L372.1,312.86 L373.07,313.4 L374.03,313.94 L375,314.48 L375.97,315.02 L376.93,315.56 L377.9,316.09 L378.87,316.62 L379.83,317.14 L380.8,317.67 L381.77,318.19 L382.73,318.7 L383.7,319.22 L384.67,319.73 L385.63,320.23 L386.6,320.73 L387.57,321.23 L388.53,321.73 L389.5,322.21 L390.47,322.7 L391.43,323.18 L392.4,323.65 L393.37,324.12 L394.33,324.59 L395.3,325.05 L396.27,325.5 L397.23,325.95 L398.2,326.39 L399.17,326.83 L400.13,327.26 L401.1,327.69 L402.07,328.11 L403.03,328.53 L404,328.94 L404,334.94 L403.03,334.53 L402.07,334.11 L401.1,333.69 L400.13,333.26 L399.17,332.83 L398.2,332.39 L397.23,331.95 L396.27,331.5 L395.3,331.05 L394.33,330.59 L393.37,330.12 L392.4,329.65 L391.43,329.18 L390.47,328.7 L389.5,328.21 L388.53,327.73 L387.57,327.23 L386.6,326.73 L385.63,326.23 L384.67,325.73 L383.7,325.22 L382.73,324.7 L381.77,324.19 L380.8,323.67 L379.83,323.14 L378.87,322.62 L377.9,322.09 L376.93,321.56 L375.97,321.02 L375,320.48 L374.03,319.94 L373.07,319.4 L372.1,318.86 L371.13,318.32 L370.17,317.77 L369.2,317.22 L368.23,316.68 L367.27,316.13 L366.3,315.58 L365.33,315.03 L364.37,314.48 L363.4,313.93 L362.43,313.38 L361.47,312.83 L360.5,312.28 L359.53,311.74 L358.57,311.19 L357.6,310.65 L356.63,310.1 L355.67,309.56 L354.7,309.02 L353.73,308.49 L352.77,307.95 L351.8,307.42 L350.83,306.89 L349.87,306.37 L348.9,305.84 L347.93,305.32 L346.97,304.81 L346,304.29 L345.03,303.78 L344.07,303.28 L343.1,302.78 L342.13,302.28 L341.17,301.79 L340.2,301.3 L339.23,300.82 L338.27,300.34 L337.3,299.86 L336.33,299.39 L335.37,298.93 L334.4,298.47 L333.43,298.02 L332.47,297.57 L331.5,297.13 L330.53,296.69 L329.57,296.26 L328.6,295.83 L327.63,295.41 L326.67,294.99 L325.7,294.58 L324.73,294.18 L323.77,293.78 L322.8,293.39 L321.83,293 L320.87,292.62 L319.9,292.25 L318.93,291.88 L317.97,291.52 L317,291.16 L316.03,290.81 L315.07,290.46 L314.1,290.12 L313.13,289.79 L312.17,289.46 L311.2,289.14 L310.23,288.82 L309.27,288.51 L308.3,288.21 L307.33,287.91 L306.37,287.61 L305.4,287.32 L304.43,287.04 L303.47,286.76 L302.5,286.49 L301.53,286.23 L300.57,285.96 L299.6,285.71 L298.63,285.46 L297.67,285.21 L296.7,284.97 L295.73,284.73 L294.77,284.5 L293.8,284.28 L292.83,284.06 L291.87,283.84 L290.9,283.63 L289.93,283.42 L288.97,283.22 L288,283.02Z" fill="#dccff0" fill-opacity="0.65"/>
<path d="M288,230.31 L288.97,230.53 L289.93,230.75 L290.9,230.98 L291.87,231.22 L292.83,231.46 L293.8,231.71 L294.77,231.97 L295.73,232.23 L296.7,232.51 L297.67,232.79 L298.63,233.08 L299.6,233.37 L300.57,233.68 L301.53,233.99 L302.5,234.32 L303.47,234.65 L304.43,234.99 L305.4,235.35 L306.37,235.71 L307.33,236.08 L308.3,236.46 L309.27,236.85 L310.23,237.26 L311.2,237.67 L312.17,238.09 L313.13,238.53 L314.1,238.98 L315.07,239.43 L316.03,239.9 L317,240.39 L317.97,240.88 L318.93,241.38 L319.9,241.9 L320.87,242.43 L321.83,242.98 L322.8,243.53 L323.77,244.1 L324.73,244.69 L325.7,245.28 L326.67,245.89 L327.63,246.51 L328.6,247.15 L329.57,247.8 L330.53,248.46 L331.5,249.14 L332.47,249.83 L333.43,250.53 L334.4,251.25 L335.37,251.98 L336.33,252.73 L337.3,253.48 L338.27,254.26 L339.23,255.04 L340.2,255.84 L341.17,256.66 L342.13,257.48 L343.1,258.32 L344.07,259.17 L345.03,260.04 L346,260.92 L346.97,261.81 L347.93,262.71 L348.9,263.62 L349.87,264.55 L350.83,265.48 L351.8,266.43 L352.77,267.39 L353.73,268.35 L354.7,269.33 L355.67,270.32 L356.63,271.31 L357.6,272.32 L358.57,273.33 L359.53,274.35 L360.5,275.38 L361.47,276.41 L362.43,277.45 L363.4,278.5 L364.37,279.55 L365.33,280.6 L366.3,281.66 L367.27,282.72 L368.23,283.78 L369.2,284.85 L370.17,285.92 L371.13,286.98 L372.1,288.05 L373.07,289.12 L374.03,290.19 L375,291.25 L375.97,292.32 L376.93,293.38 L377.9,294.44 L378.87,295.49 L379.83,296.54 L380.8,297.59 L381.77,298.62 L382.73,299.66 L383.7,300.68 L384.67,301.7 L385.63,302.72 L386.6,303.72 L387.57,304.72 L388.53,305.7 L389.5,306.68 L390.47,307.65 L391.43,308.6 L392.4,309.55 L393.37,310.49 L394.33,311.41 L395.3,312.32 L396.27,313.23 L397.23,314.11 L398.2,314.99 L399.17,315.86 L400.13,316.71 L401.1,317.55 L402.07,318.37 L403.03,319.19 L404,319.98" fill="none" stroke="#dc8a8a" stroke-width="1.2" stroke-linejoin="round"/>
<path d="M288,233.8 L288.97,234.01 L289.93,234.23 L290.9,234.45 L291.87,234.67 L292.83,234.91 L293.8,235.15 L294.77,235.4 L295.73,235.65 L296.7,235.92 L297.67,236.19 L298.63,236.47 L299.6,236.76 L300.57,237.05 L301.53,237.36 L302.5,237.67 L303.47,237.99 L304.43,238.32 L305.4,238.66 L306.37,239.01 L307.33,239.37 L308.3,239.74 L309.27,240.12 L310.23,240.51 L311.2,240.92 L312.17,241.33 L313.13,241.75 L314.1,242.19 L315.07,242.63 L316.03,243.09 L317,243.56 L317.97,244.04 L318.93,244.53 L319.9,245.03 L320.87,245.55 L321.83,246.08 L322.8,246.62 L323.77,247.18 L324.73,247.75 L325.7,248.33 L326.67,248.92 L327.63,249.53 L328.6,250.15 L329.57,250.78 L330.53,251.43 L331.5,252.09 L332.47,252.77 L333.43,253.46 L334.4,254.16 L335.37,254.88 L336.33,255.61 L337.3,256.35 L338.27,257.11 L339.23,257.88 L340.2,258.66 L341.17,259.46 L342.13,260.27 L343.1,261.09 L344.07,261.93 L345.03,262.78 L346,263.64 L346.97,264.51 L347.93,265.4 L348.9,266.29 L349.87,267.2 L350.83,268.12 L351.8,269.05 L352.77,269.99 L353.73,270.94 L354.7,271.9 L355.67,272.87 L356.63,273.85 L357.6,274.83 L358.57,275.83 L359.53,276.83 L360.5,277.84 L361.47,278.85 L362.43,279.88 L363.4,280.9 L364.37,281.93 L365.33,282.97 L366.3,284.01 L367.27,285.05 L368.23,286.09 L369.2,287.14 L370.17,288.19 L371.13,289.24 L372.1,290.28 L373.07,291.33 L374.03,292.38 L375,293.42 L375.97,294.47 L376.93,295.51 L377.9,296.54 L378.87,297.58 L379.83,298.6 L380.8,299.63 L381.77,300.64 L382.73,301.66 L383.7,302.66 L384.67,303.66 L385.63,304.65 L386.6,305.63 L387.57,306.6 L388.53,307.56 L389.5,308.52 L390.47,309.46 L391.43,310.39 L392.4,311.32 L393.37,312.23 L394.33,313.13 L395.3,314.02 L396.27,314.9 L397.23,315.76 L398.2,316.62 L399.17,317.46 L400.13,318.28 L401.1,319.1 L402.07,319.9 L403.03,320.69 L404,321.46" fill="none" stroke="#6fae62" stroke-width="1.2" stroke-linejoin="round"/>
<path d="M288,243.63 L288.97,243.83 L289.93,244.03 L290.9,244.24 L291.87,244.45 L292.83,244.68 L293.8,244.91 L294.77,245.14 L295.73,245.39 L296.7,245.64 L297.67,245.9 L298.63,246.16 L299.6,246.44 L300.57,246.72 L301.53,247.01 L302.5,247.31 L303.47,247.61 L304.43,247.93 L305.4,248.26 L306.37,248.59 L307.33,248.93 L308.3,249.29 L309.27,249.65 L310.23,250.02 L311.2,250.41 L312.17,250.8 L313.13,251.2 L314.1,251.62 L315.07,252.04 L316.03,252.48 L317,252.93 L317.97,253.39 L318.93,253.86 L319.9,254.34 L320.87,254.84 L321.83,255.34 L322.8,255.86 L323.77,256.39 L324.73,256.94 L325.7,257.49 L326.67,258.06 L327.63,258.64 L328.6,259.24 L329.57,259.84 L330.53,260.46 L331.5,261.09 L332.47,261.74 L333.43,262.4 L334.4,263.07 L335.37,263.75 L336.33,264.45 L337.3,265.16 L338.27,265.88 L339.23,266.61 L340.2,267.36 L341.17,268.12 L342.13,268.89 L343.1,269.67 L344.07,270.47 L345.03,271.27 L346,272.09 L346.97,272.92 L347.93,273.76 L348.9,274.61 L349.87,275.48 L350.83,276.35 L351.8,277.23 L352.77,278.12 L353.73,279.02 L354.7,279.92 L355.67,280.84 L356.63,281.76 L357.6,282.69 L358.57,283.63 L359.53,284.57 L360.5,285.52 L361.47,286.47 L362.43,287.43 L363.4,288.4 L364.37,289.36 L365.33,290.33 L366.3,291.3 L367.27,292.28 L368.23,293.25 L369.2,294.23 L370.17,295.2 L371.13,296.18 L372.1,297.15 L373.07,298.12 L374.03,299.1 L375,300.06 L375.97,301.03 L376.93,301.99 L377.9,302.95 L378.87,303.9 L379.83,304.84 L380.8,305.79 L381.77,306.72 L382.73,307.65 L383.7,308.57 L384.67,309.48 L385.63,310.38 L386.6,311.28 L387.57,312.17 L388.53,313.04 L389.5,313.91 L390.47,314.77 L391.43,315.62 L392.4,316.45 L393.37,317.28 L394.33,318.09 L395.3,318.89 L396.27,319.68 L397.23,320.46 L398.2,321.23 L399.17,321.98 L400.13,322.73 L401.1,323.46 L402.07,324.17 L403.03,324.88 L404,325.57" fill="none" stroke="#2ea6a0" stroke-width="1.2" stroke-linejoin="round"/>
<path d="M288,280.02 L288.97,280.22 L289.93,280.42 L290.9,280.63 L291.87,280.84 L292.83,281.06 L293.8,281.28 L294.77,281.5 L295.73,281.73 L296.7,281.97 L297.67,282.21 L298.63,282.46 L299.6,282.71 L300.57,282.96 L301.53,283.23 L302.5,283.49 L303.47,283.76 L304.43,284.04 L305.4,284.32 L306.37,284.61 L307.33,284.91 L308.3,285.21 L309.27,285.51 L310.23,285.82 L311.2,286.14 L312.17,286.46 L313.13,286.79 L314.1,287.12 L315.07,287.46 L316.03,287.81 L317,288.16 L317.97,288.52 L318.93,288.88 L319.9,289.25 L320.87,289.62 L321.83,290 L322.8,290.39 L323.77,290.78 L324.73,291.18 L325.7,291.58 L326.67,291.99 L327.63,292.41 L328.6,292.83 L329.57,293.26 L330.53,293.69 L331.5,294.13 L332.47,294.57 L333.43,295.02 L334.4,295.47 L335.37,295.93 L336.33,296.39 L337.3,296.86 L338.27,297.34 L339.23,297.82 L340.2,298.3 L341.17,298.79 L342.13,299.28 L343.1,299.78 L344.07,300.28 L345.03,300.78 L346,301.29 L346.97,301.81 L347.93,302.32 L348.9,302.84 L349.87,303.37 L350.83,303.89 L351.8,304.42 L352.77,304.95 L353.73,305.49 L354.7,306.02 L355.67,306.56 L356.63,307.1 L357.6,307.65 L358.57,308.19 L359.53,308.74 L360.5,309.28 L361.47,309.83 L362.43,310.38 L363.4,310.93 L364.37,311.48 L365.33,312.03 L366.3,312.58 L367.27,313.13 L368.23,313.68 L369.2,314.22 L370.17,314.77 L371.13,315.32 L372.1,315.86 L373.07,316.4 L374.03,316.94 L375,317.48 L375.97,318.02 L376.93,318.56 L377.9,319.09 L378.87,319.62 L379.83,320.14 L380.8,320.67 L381.77,321.19 L382.73,321.7 L383.7,322.22 L384.67,322.73 L385.63,323.23 L386.6,323.73 L387.57,324.23 L388.53,324.73 L389.5,325.21 L390.47,325.7 L391.43,326.18 L392.4,326.65 L393.37,327.12 L394.33,327.59 L395.3,328.05 L396.27,328.5 L397.23,328.95 L398.2,329.39 L399.17,329.83 L400.13,330.26 L401.1,330.69 L402.07,331.11 L403.03,331.53 L404,331.94" fill="none" stroke="#9c86c8" stroke-width="1.2" stroke-linejoin="round"/>
<line x1="282" y1="288.4" x2="409" y2="288.4" stroke="#222" stroke-width="1.3" stroke-dasharray="3.4 3.15" stroke-dashoffset="0.3"/>
<line x1="282" y1="339.4" x2="409" y2="339.4" stroke="#222" stroke-width="1.3" stroke-dasharray="3.4 3.15" stroke-dashoffset="0.3"/>
<line x1="281.7" y1="217.8" x2="281.7" y2="350.8" stroke="#000" stroke-width="1.5"/>
<line x1="281" y1="350" x2="408.9" y2="350" stroke="#000" stroke-width="1.5"/>
<line x1="308.8" y1="350.7" x2="308.8" y2="352.3" stroke="#555" stroke-width="0.6"/>
<line x1="337.1" y1="350.7" x2="337.1" y2="352.3" stroke="#555" stroke-width="0.6"/>
<line x1="366.3" y1="350.7" x2="366.3" y2="352.3" stroke="#555" stroke-width="0.6"/>
<line x1="394.6" y1="350.7" x2="394.6" y2="352.3" stroke="#555" stroke-width="0.6"/>
<text x="277.5" y="226.5" font-size="11.2" text-anchor="end" stroke="#000" stroke-width="0.1">1</text>
<text x="254.8" y="259.9" font-size="11.2" stroke="#000" stroke-width="0.1" textLength="22.7" lengthAdjust="spacingAndGlyphs">0.75</text>
<text x="254.8" y="291.9" font-size="11.2" stroke="#000" stroke-width="0.1" textLength="22.7" lengthAdjust="spacingAndGlyphs">0.50</text>
<text x="254.8" y="323.9" font-size="11.2" stroke="#000" stroke-width="0.1" textLength="22.7" lengthAdjust="spacingAndGlyphs">0.25</text>
<text x="254.8" y="351.5" font-size="11.2" stroke="#000" stroke-width="0.1" textLength="22.7" lengthAdjust="spacingAndGlyphs">0.00</text>
<text x="299.4" y="363.8" font-size="11.2" text-anchor="middle" stroke="#000" stroke-width="0.1" textLength="27.4" lengthAdjust="spacingAndGlyphs">0.001</text>
<text x="337.95" y="363.8" font-size="11.2" text-anchor="middle" stroke="#000" stroke-width="0.1" textLength="21.1" lengthAdjust="spacingAndGlyphs">0.01</text>
<text x="367.65" y="363.8" font-size="11.2" text-anchor="middle" stroke="#000" stroke-width="0.1" textLength="14.7" lengthAdjust="spacingAndGlyphs">0.1</text>
<text x="394.45" y="363.8" font-size="11.2" text-anchor="middle" stroke="#000" stroke-width="0.1">1</text>
<text x="305.5" y="382.8" font-size="16" stroke="#000" stroke-width="0.2" textLength="80.8" lengthAdjust="spacingAndGlyphs">SN-38 (µM)</text>
<text x="247.7" y="304" font-size="16" stroke="#000" stroke-width="0.2" textLength="58.7" lengthAdjust="spacingAndGlyphs" transform="rotate(-90 247.7 304)">Survival</text>
<text x="235.9" y="211" font-size="14" stroke="#000" stroke-width="0.2" textLength="18" lengthAdjust="spacingAndGlyphs">(e)</text>
<g stroke="#000" stroke-width="0.2">
<text x="293.3" y="212.3" font-size="16" textLength="30.4" lengthAdjust="spacingAndGlyphs">ES-8</text>
<text x="327.5" y="212.3" font-size="16" font-style="italic" textLength="56.5" lengthAdjust="spacingAndGlyphs">SLFN11</text>
</g>
<text x="383.6" y="206.3" font-size="9" textLength="10.8" lengthAdjust="spacingAndGlyphs">-/-</text>
<text x="414.1" y="257.3" font-size="7.6" fill="#222" stroke="#222" stroke-width="0.15" textLength="21.3" lengthAdjust="spacingAndGlyphs">FSG67</text>
<text x="414.1" y="265.3" font-size="7.6" fill="#e8403a" stroke="#e8403a" stroke-width="0.15" textLength="17.5" lengthAdjust="spacingAndGlyphs">0 µM</text>
<text x="414.1" y="273.3" font-size="7.6" fill="#45a84a" stroke="#45a84a" stroke-width="0.15" textLength="21.3" lengthAdjust="spacingAndGlyphs">50 µM</text>
<text x="414.1" y="281.3" font-size="7.6" fill="#3aace6" stroke="#3aace6" stroke-width="0.15" textLength="25.1" lengthAdjust="spacingAndGlyphs">100 µM</text>
<text x="414.1" y="289.3" font-size="7.6" fill="#6b3aa0" stroke="#6b3aa0" stroke-width="0.15" textLength="25.1" lengthAdjust="spacingAndGlyphs">200 µM</text>
<line x1="520" y1="27.2" x2="640.8" y2="27.2" stroke="#ebebeb" stroke-width="0.7"/>
<line x1="520" y1="57.15" x2="640.8" y2="57.15" stroke="#ebebeb" stroke-width="0.7"/>
<line x1="520" y1="87.1" x2="640.8" y2="87.1" stroke="#ebebeb" stroke-width="0.7"/>
<line x1="520" y1="117.05" x2="640.8" y2="117.05" stroke="#ebebeb" stroke-width="0.7"/>
<line x1="544.1" y1="21.9" x2="544.1" y2="147" stroke="#ebebeb" stroke-width="0.7"/>
<line x1="584.4" y1="21.9" x2="584.4" y2="147" stroke="#ebebeb" stroke-width="0.7"/>
<line x1="624.8" y1="21.9" x2="624.8" y2="147" stroke="#ebebeb" stroke-width="0.7"/>
<rect x="523.5" y="145.4" width="114.1" height="5.4" fill="#e8d84a"/>
<path d="M525,34.3 L525.93,34.3 L526.87,34.3 L527.8,34.3 L528.73,34.3 L529.66,34.3 L530.6,34.3 L531.53,34.3 L532.46,34.3 L533.39,34.3 L534.33,34.3 L535.26,34.3 L536.19,34.3 L537.12,34.3 L538.05,34.3 L538.99,34.3 L539.92,34.3 L540.85,34.3 L541.78,34.3 L542.72,34.3 L543.65,34.3 L544.58,34.3 L545.51,34.3 L546.45,34.3 L547.38,34.3 L548.31,34.3 L549.25,34.3 L550.18,34.3 L551.11,34.3 L552.04,34.3 L552.98,34.3 L553.91,34.3 L554.84,34.3 L555.77,34.3 L556.71,34.3 L557.64,34.3 L558.57,34.3 L559.5,34.3 L560.43,34.3 L561.37,34.3 L562.3,34.3 L563.23,34.3 L564.16,34.3 L565.1,34.3 L566.03,34.3 L566.96,34.3 L567.89,34.3 L568.83,34.3 L569.76,34.3 L570.69,34.3 L571.62,34.3 L572.56,34.3 L573.49,34.3 L574.42,34.3 L575.36,34.3 L576.29,34.3 L577.22,34.3 L578.15,34.3 L579.09,34.3 L580.02,34.3 L580.95,34.3 L581.88,34.3 L582.81,34.3 L583.75,34.3 L584.68,34.3 L585.61,34.3 L586.54,34.3 L587.48,34.3 L588.41,34.3 L589.34,34.3 L590.27,34.3 L591.21,34.3 L592.14,34.3 L593.07,34.3 L594,34.3 L594.94,34.3 L595.87,34.3 L596.8,34.3 L597.74,34.3 L598.67,34.3 L599.6,34.3 L600.53,34.3 L601.46,34.3 L602.4,34.3 L603.33,34.3 L604.26,34.3 L605.19,34.3 L606.13,34.3 L607.06,34.3 L607.99,34.3 L608.92,34.3 L609.86,34.3 L610.79,34.3 L611.72,34.31 L612.65,34.32 L613.59,34.34 L614.52,34.36 L615.45,34.39 L616.38,34.43 L617.32,34.51 L618.25,34.64 L619.18,34.81 L620.12,35.01 L621.05,35.26 L621.98,35.53 L622.91,35.89 L623.85,36.47 L624.78,37.25 L625.71,38.22 L626.64,39.44 L627.58,41.35 L628.51,43.94 L629.44,47.31 L630.37,52.26 L631.3,58.86 L632.24,69.12 L633.17,80.62 L634.1,89.87 L635.03,97.58 L635.97,104.35 L636.9,108.3 L636.9,109.5 L635.97,105.55 L635.03,98.78 L634.1,91.07 L633.17,81.82 L632.24,70.32 L631.3,60.06 L630.37,53.46 L629.44,48.51 L628.51,45.14 L627.58,42.55 L626.64,40.64 L625.71,39.42 L624.78,38.45 L623.85,37.67 L622.91,37.09 L621.98,36.73 L621.05,36.46 L620.12,36.21 L619.18,36.01 L618.25,35.84 L617.32,35.71 L616.38,35.63 L615.45,35.59 L614.52,35.56 L613.59,35.54 L612.65,35.52 L611.72,35.51 L610.79,35.5 L609.86,35.5 L608.92,35.5 L607.99,35.5 L607.06,35.5 L606.13,35.5 L605.19,35.5 L604.26,35.5 L603.33,35.5 L602.4,35.5 L601.46,35.5 L600.53,35.5 L599.6,35.5 L598.67,35.5 L597.74,35.5 L596.8,35.5 L595.87,35.5 L594.94,35.5 L594,35.5 L593.07,35.5 L592.14,35.5 L591.21,35.5 L590.27,35.5 L589.34,35.5 L588.41,35.5 L587.48,35.5 L586.54,35.5 L585.61,35.5 L584.68,35.5 L583.75,35.5 L582.81,35.5 L581.88,35.5 L580.95,35.5 L580.02,35.5 L579.09,35.5 L578.15,35.5 L577.22,35.5 L576.29,35.5 L575.36,35.5 L574.42,35.5 L573.49,35.5 L572.56,35.5 L571.62,35.5 L570.69,35.5 L569.76,35.5 L568.83,35.5 L567.89,35.5 L566.96,35.5 L566.03,35.5 L565.1,35.5 L564.16,35.5 L563.23,35.5 L562.3,35.5 L561.37,35.5 L560.43,35.5 L559.5,35.5 L558.57,35.5 L557.64,35.5 L556.71,35.5 L555.77,35.5 L554.84,35.5 L553.91,35.5 L552.98,35.5 L552.04,35.5 L551.11,35.5 L550.18,35.5 L549.25,35.5 L548.31,35.5 L547.38,35.5 L546.45,35.5 L545.51,35.5 L544.58,35.5 L543.65,35.5 L542.72,35.5 L541.78,35.5 L540.85,35.5 L539.92,35.5 L538.99,35.5 L538.05,35.5 L537.12,35.5 L536.19,35.5 L535.26,35.5 L534.33,35.5 L533.39,35.5 L532.46,35.5 L531.53,35.5 L530.6,35.5 L529.66,35.5 L528.73,35.5 L527.8,35.5 L526.87,35.5 L525.93,35.5 L525,35.5Z" fill="#f0d0b8" fill-opacity="0.5"/>
<path d="M525,38.2 L525.93,38.2 L526.87,38.2 L527.8,38.2 L528.73,38.2 L529.66,38.2 L530.6,38.2 L531.53,38.2 L532.46,38.2 L533.39,38.2 L534.33,38.2 L535.26,38.2 L536.19,38.2 L537.12,38.2 L538.05,38.2 L538.99,38.2 L539.92,38.2 L540.85,38.2 L541.78,38.2 L542.72,38.2 L543.65,38.2 L544.58,38.2 L545.51,38.2 L546.45,38.2 L547.38,38.2 L548.31,38.2 L549.25,38.2 L550.18,38.2 L551.11,38.2 L552.04,38.2 L552.98,38.2 L553.91,38.2 L554.84,38.2 L555.77,38.2 L556.71,38.2 L557.64,38.2 L558.57,38.2 L559.5,38.2 L560.43,38.2 L561.37,38.2 L562.3,38.2 L563.23,38.2 L564.16,38.2 L565.1,38.2 L566.03,38.2 L566.96,38.2 L567.89,38.2 L568.83,38.2 L569.76,38.2 L570.69,38.2 L571.62,38.2 L572.56,38.2 L573.49,38.2 L574.42,38.2 L575.36,38.2 L576.29,38.2 L577.22,38.2 L578.15,38.2 L579.09,38.2 L580.02,38.2 L580.95,38.2 L581.88,38.2 L582.81,38.2 L583.75,38.2 L584.68,38.2 L585.61,38.2 L586.54,38.2 L587.48,38.2 L588.41,38.2 L589.34,38.2 L590.27,38.2 L591.21,38.2 L592.14,38.2 L593.07,38.2 L594,38.2 L594.94,38.2 L595.87,38.2 L596.8,38.2 L597.74,38.2 L598.67,38.2 L599.6,38.21 L600.53,38.22 L601.46,38.23 L602.4,38.25 L603.33,38.27 L604.26,38.29 L605.19,38.32 L606.13,38.38 L607.06,38.47 L607.99,38.59 L608.92,38.73 L609.86,38.89 L610.79,39.06 L611.72,39.27 L612.65,39.56 L613.59,39.92 L614.52,40.35 L615.45,40.84 L616.38,41.37 L617.32,41.95 L618.25,42.6 L619.18,43.38 L620.12,44.3 L621.05,45.34 L621.98,46.51 L622.91,47.85 L623.85,49.49 L624.78,51.4 L625.71,53.57 L626.64,55.96 L627.58,58.65 L628.51,61.96 L629.44,66.21 L630.37,73.42 L631.3,82.66 L632.24,90.86 L633.17,98.54 L634.1,106.05 L635.03,113.36 L635.97,120.44 L636.9,125.1 L636.9,126.3 L635.97,121.64 L635.03,114.56 L634.1,107.25 L633.17,99.74 L632.24,92.06 L631.3,83.86 L630.37,74.62 L629.44,67.41 L628.51,63.16 L627.58,59.85 L626.64,57.16 L625.71,54.77 L624.78,52.6 L623.85,50.69 L622.91,49.05 L621.98,47.71 L621.05,46.54 L620.12,45.5 L619.18,44.58 L618.25,43.8 L617.32,43.15 L616.38,42.57 L615.45,42.04 L614.52,41.55 L613.59,41.12 L612.65,40.76 L611.72,40.47 L610.79,40.26 L609.86,40.09 L608.92,39.93 L607.99,39.79 L607.06,39.67 L606.13,39.58 L605.19,39.52 L604.26,39.49 L603.33,39.47 L602.4,39.45 L601.46,39.43 L600.53,39.42 L599.6,39.41 L598.67,39.4 L597.74,39.4 L596.8,39.4 L595.87,39.4 L594.94,39.4 L594,39.4 L593.07,39.4 L592.14,39.4 L591.21,39.4 L590.27,39.4 L589.34,39.4 L588.41,39.4 L587.48,39.4 L586.54,39.4 L585.61,39.4 L584.68,39.4 L583.75,39.4 L582.81,39.4 L581.88,39.4 L580.95,39.4 L580.02,39.4 L579.09,39.4 L578.15,39.4 L577.22,39.4 L576.29,39.4 L575.36,39.4 L574.42,39.4 L573.49,39.4 L572.56,39.4 L571.62,39.4 L570.69,39.4 L569.76,39.4 L568.83,39.4 L567.89,39.4 L566.96,39.4 L566.03,39.4 L565.1,39.4 L564.16,39.4 L563.23,39.4 L562.3,39.4 L561.37,39.4 L560.43,39.4 L559.5,39.4 L558.57,39.4 L557.64,39.4 L556.71,39.4 L555.77,39.4 L554.84,39.4 L553.91,39.4 L552.98,39.4 L552.04,39.4 L551.11,39.4 L550.18,39.4 L549.25,39.4 L548.31,39.4 L547.38,39.4 L546.45,39.4 L545.51,39.4 L544.58,39.4 L543.65,39.4 L542.72,39.4 L541.78,39.4 L540.85,39.4 L539.92,39.4 L538.99,39.4 L538.05,39.4 L537.12,39.4 L536.19,39.4 L535.26,39.4 L534.33,39.4 L533.39,39.4 L532.46,39.4 L531.53,39.4 L530.6,39.4 L529.66,39.4 L528.73,39.4 L527.8,39.4 L526.87,39.4 L525.93,39.4 L525,39.4Z" fill="#b0dcb8" fill-opacity="0.5"/>
<path d="M525,34.9 L525.93,34.9 L526.87,34.9 L527.8,34.9 L528.73,34.9 L529.66,34.9 L530.6,34.9 L531.53,34.9 L532.46,34.9 L533.39,34.9 L534.33,34.9 L535.26,34.9 L536.19,34.9 L537.12,34.9 L538.05,34.9 L538.99,34.9 L539.92,34.9 L540.85,34.9 L541.78,34.9 L542.72,34.9 L543.65,34.9 L544.58,34.9 L545.51,34.9 L546.45,34.9 L547.38,34.9 L548.31,34.9 L549.25,34.9 L550.18,34.9 L551.11,34.9 L552.04,34.9 L552.98,34.9 L553.91,34.9 L554.84,34.9 L555.77,34.9 L556.71,34.9 L557.64,34.9 L558.57,34.9 L559.5,34.9 L560.43,34.9 L561.37,34.9 L562.3,34.9 L563.23,34.9 L564.16,34.9 L565.1,34.9 L566.03,34.9 L566.96,34.9 L567.89,34.9 L568.83,34.9 L569.76,34.9 L570.69,34.9 L571.62,34.9 L572.56,34.9 L573.49,34.9 L574.42,34.9 L575.36,34.9 L576.29,34.9 L577.22,34.9 L578.15,34.9 L579.09,34.9 L580.02,34.9 L580.95,34.9 L581.88,34.9 L582.81,34.9 L583.75,34.9 L584.68,34.9 L585.61,34.9 L586.54,34.9 L587.48,34.9 L588.41,34.9 L589.34,34.9 L590.27,34.9 L591.21,34.9 L592.14,34.9 L593.07,34.9 L594,34.9 L594.94,34.9 L595.87,34.9 L596.8,34.9 L597.74,34.9 L598.67,34.9 L599.6,34.9 L600.53,34.9 L601.46,34.9 L602.4,34.9 L603.33,34.9 L604.26,34.9 L605.19,34.9 L606.13,34.9 L607.06,34.9 L607.99,34.9 L608.92,34.9 L609.86,34.9 L610.79,34.9 L611.72,34.91 L612.65,34.92 L613.59,34.94 L614.52,34.96 L615.45,34.99 L616.38,35.03 L617.32,35.11 L618.25,35.24 L619.18,35.41 L620.12,35.61 L621.05,35.86 L621.98,36.13 L622.91,36.49 L623.85,37.07 L624.78,37.85 L625.71,38.82 L626.64,40.04 L627.58,41.95 L628.51,44.54 L629.44,47.91 L630.37,52.86 L631.3,59.46 L632.24,69.72 L633.17,81.22 L634.1,90.47 L635.03,98.18 L635.97,104.95 L636.9,108.9" fill="none" stroke="#d99a6c" stroke-width="1.4" stroke-linejoin="round"/>
<path d="M525,38.8 L525.93,38.8 L526.87,38.8 L527.8,38.8 L528.73,38.8 L529.66,38.8 L530.6,38.8 L531.53,38.8 L532.46,38.8 L533.39,38.8 L534.33,38.8 L535.26,38.8 L536.19,38.8 L537.12,38.8 L538.05,38.8 L538.99,38.8 L539.92,38.8 L540.85,38.8 L541.78,38.8 L542.72,38.8 L543.65,38.8 L544.58,38.8 L545.51,38.8 L546.45,38.8 L547.38,38.8 L548.31,38.8 L549.25,38.8 L550.18,38.8 L551.11,38.8 L552.04,38.8 L552.98,38.8 L553.91,38.8 L554.84,38.8 L555.77,38.8 L556.71,38.8 L557.64,38.8 L558.57,38.8 L559.5,38.8 L560.43,38.8 L561.37,38.8 L562.3,38.8 L563.23,38.8 L564.16,38.8 L565.1,38.8 L566.03,38.8 L566.96,38.8 L567.89,38.8 L568.83,38.8 L569.76,38.8 L570.69,38.8 L571.62,38.8 L572.56,38.8 L573.49,38.8 L574.42,38.8 L575.36,38.8 L576.29,38.8 L577.22,38.8 L578.15,38.8 L579.09,38.8 L580.02,38.8 L580.95,38.8 L581.88,38.8 L582.81,38.8 L583.75,38.8 L584.68,38.8 L585.61,38.8 L586.54,38.8 L587.48,38.8 L588.41,38.8 L589.34,38.8 L590.27,38.8 L591.21,38.8 L592.14,38.8 L593.07,38.8 L594,38.8 L594.94,38.8 L595.87,38.8 L596.8,38.8 L597.74,38.8 L598.67,38.8 L599.6,38.81 L600.53,38.82 L601.46,38.83 L602.4,38.85 L603.33,38.87 L604.26,38.89 L605.19,38.92 L606.13,38.98 L607.06,39.07 L607.99,39.19 L608.92,39.33 L609.86,39.49 L610.79,39.66 L611.72,39.87 L612.65,40.16 L613.59,40.52 L614.52,40.95 L615.45,41.44 L616.38,41.97 L617.32,42.55 L618.25,43.2 L619.18,43.98 L620.12,44.9 L621.05,45.94 L621.98,47.11 L622.91,48.45 L623.85,50.09 L624.78,52 L625.71,54.17 L626.64,56.56 L627.58,59.25 L628.51,62.56 L629.44,66.81 L630.37,74.02 L631.3,83.26 L632.24,91.46 L633.17,99.14 L634.1,106.65 L635.03,113.96 L635.97,121.04 L636.9,125.7" fill="none" stroke="#4fa565" stroke-width="1.4" stroke-linejoin="round"/>
<line x1="520" y1="87.6" x2="639.3" y2="87.6" stroke="#333" stroke-width="1.2" stroke-dasharray="3 3"/>
<line x1="520" y1="135.5" x2="639.3" y2="135.5" stroke="#333" stroke-width="1.2" stroke-dasharray="3 3"/>
<line x1="519.6" y1="21.9" x2="519.6" y2="147.7" stroke="#000" stroke-width="1.5"/>
<line x1="519" y1="147.3" x2="640.8" y2="147.3" stroke="#000" stroke-width="1.6"/>
<line x1="517.6" y1="27.2" x2="519.6" y2="27.2" stroke="#333" stroke-width="0.6"/>
<line x1="517.6" y1="57.15" x2="519.6" y2="57.15" stroke="#333" stroke-width="0.6"/>
<line x1="517.6" y1="87.1" x2="519.6" y2="87.1" stroke="#333" stroke-width="0.6"/>
<line x1="517.6" y1="117.05" x2="519.6" y2="117.05" stroke="#333" stroke-width="0.6"/>
<line x1="517.6" y1="147" x2="519.6" y2="147" stroke="#333" stroke-width="0.6"/>
<text x="515.6" y="28.5" font-size="11.2" text-anchor="end" stroke="#000" stroke-width="0.1">1</text>
<text x="493.7" y="58.4" font-size="11.2" stroke="#000" stroke-width="0.1" textLength="21.9" lengthAdjust="spacingAndGlyphs">0.75</text>
<text x="493.7" y="88.5" font-size="11.2" stroke="#000" stroke-width="0.1" textLength="21.9" lengthAdjust="spacingAndGlyphs">0.50</text>
<text x="493.7" y="118.9" font-size="11.2" stroke="#000" stroke-width="0.1" textLength="21.9" lengthAdjust="spacingAndGlyphs">0.25</text>
<text x="493.7" y="148.3" font-size="11.2" stroke="#000" stroke-width="0.1" textLength="21.9" lengthAdjust="spacingAndGlyphs">0.00</text>
<text x="538.05" y="162.3" font-size="11.2" text-anchor="middle" stroke="#000" stroke-width="0.1" textLength="21.5" lengthAdjust="spacingAndGlyphs">0.01</text>
<text x="583" y="162.3" font-size="11.2" text-anchor="middle" stroke="#000" stroke-width="0.1">1</text>
<text x="625.5" y="162.3" font-size="11.2" text-anchor="middle" stroke="#000" stroke-width="0.1" textLength="19" lengthAdjust="spacingAndGlyphs">100</text>
<text x="531.2" y="181.4" font-size="16" stroke="#000" stroke-width="0.2" textLength="83.3" lengthAdjust="spacingAndGlyphs">FSG67 (µM)</text>
<text x="484.3" y="102.9" font-size="16" stroke="#000" stroke-width="0.2" textLength="56.6" lengthAdjust="spacingAndGlyphs" transform="rotate(-90 484.3 102.9)">Survival</text>
<text x="472.2" y="12.2" font-size="14" stroke="#000" stroke-width="0.2" textLength="17.1" lengthAdjust="spacingAndGlyphs">(c)</text>
<text x="552.9" y="13.7" font-size="16" stroke="#000" stroke-width="0.2" textLength="57.6" lengthAdjust="spacingAndGlyphs">ES-8 WT</text>
<text x="649.6" y="39.3" font-size="7.6" fill="#222" stroke="#222" stroke-width="0.15" textLength="21" lengthAdjust="spacingAndGlyphs">SN-38</text>
<text x="649.6" y="47.5" font-size="7.6" fill="#e0773a" stroke="#e0773a" stroke-width="0.15" textLength="17.5" lengthAdjust="spacingAndGlyphs">0 µM</text>
<text x="649.6" y="55.7" font-size="7.6" fill="#2e9040" stroke="#2e9040" stroke-width="0.15" textLength="32.4" lengthAdjust="spacingAndGlyphs">0.001 µM</text>
<text x="649.6" y="63.9" font-size="7.6" fill="#6a4cb8" stroke="#6a4cb8" stroke-width="0.15" textLength="29" lengthAdjust="spacingAndGlyphs">0.01 µM</text>
<text x="649.6" y="72.1" font-size="7.6" fill="#d63595" stroke="#d63595" stroke-width="0.15" textLength="25" lengthAdjust="spacingAndGlyphs">0.1 µM</text>
<text x="649.6" y="80.3" font-size="7.6" fill="#e8d43a" stroke="#e8d43a" stroke-width="0.15" textLength="17.5" lengthAdjust="spacingAndGlyphs">1 µM</text>
<line x1="519" y1="224.2" x2="645" y2="224.2" stroke="#ebebeb" stroke-width="0.7"/>
<line x1="519" y1="255.95" x2="645" y2="255.95" stroke="#ebebeb" stroke-width="0.7"/>
<line x1="519" y1="287.7" x2="645" y2="287.7" stroke="#ebebeb" stroke-width="0.7"/>
<line x1="519" y1="319.45" x2="645" y2="319.45" stroke="#ebebeb" stroke-width="0.7"/>
<line x1="543.8" y1="218.6" x2="543.8" y2="350.6" stroke="#ebebeb" stroke-width="0.7"/>
<line x1="586" y1="218.6" x2="586" y2="350.6" stroke="#ebebeb" stroke-width="0.7"/>
<line x1="627.5" y1="218.6" x2="627.5" y2="350.6" stroke="#ebebeb" stroke-width="0.7"/>
<path d="M524,223.3 L524.96,223.3 L525.93,223.3 L526.89,223.3 L527.85,223.3 L528.82,223.3 L529.78,223.3 L530.74,223.3 L531.71,223.3 L532.67,223.3 L533.63,223.3 L534.6,223.3 L535.56,223.3 L536.52,223.3 L537.49,223.3 L538.45,223.3 L539.41,223.3 L540.38,223.3 L541.34,223.3 L542.3,223.3 L543.27,223.3 L544.23,223.3 L545.19,223.3 L546.16,223.3 L547.12,223.3 L548.08,223.3 L549.05,223.3 L550.01,223.3 L550.97,223.3 L551.94,223.3 L552.9,223.3 L553.86,223.3 L554.83,223.3 L555.79,223.3 L556.75,223.3 L557.72,223.3 L558.68,223.3 L559.64,223.3 L560.61,223.3 L561.57,223.3 L562.53,223.3 L563.5,223.3 L564.46,223.3 L565.42,223.3 L566.39,223.3 L567.35,223.3 L568.31,223.3 L569.28,223.3 L570.24,223.3 L571.2,223.3 L572.17,223.3 L573.13,223.3 L574.09,223.3 L575.06,223.3 L576.02,223.3 L576.98,223.3 L577.95,223.3 L578.91,223.3 L579.87,223.3 L580.84,223.3 L581.8,223.3 L582.76,223.3 L583.73,223.3 L584.69,223.3 L585.65,223.3 L586.62,223.3 L587.58,223.3 L588.54,223.3 L589.51,223.3 L590.47,223.3 L591.43,223.3 L592.4,223.3 L593.36,223.3 L594.32,223.3 L595.29,223.3 L596.25,223.3 L597.21,223.3 L598.18,223.3 L599.14,223.3 L600.1,223.3 L601.07,223.3 L602.03,223.3 L602.99,223.3 L603.96,223.3 L604.92,223.3 L605.88,223.3 L606.85,223.3 L607.81,223.3 L608.77,223.3 L609.74,223.3 L610.7,223.3 L611.66,223.3 L612.63,223.3 L613.59,223.32 L614.55,223.34 L615.52,223.38 L616.48,223.43 L617.44,223.49 L618.41,223.56 L619.37,223.65 L620.33,223.75 L621.3,223.86 L622.26,223.98 L623.22,224.13 L624.19,224.33 L625.15,224.86 L626.11,225.74 L627.08,226.96 L628.04,228.49 L629,230.31 L629.97,232.57 L630.93,237.9 L631.89,246.34 L632.86,256.75 L633.82,267.95 L634.78,278.77 L635.75,288.1 L636.71,296.52 L637.67,304.77 L638.64,312.86 L639.6,320.8 L639.6,322.8 L638.64,314.86 L637.67,306.77 L636.71,298.52 L635.75,290.1 L634.78,280.77 L633.82,269.95 L632.86,258.75 L631.89,248.34 L630.93,239.9 L629.97,234.57 L629,232.31 L628.04,230.49 L627.08,228.96 L626.11,227.74 L625.15,226.86 L624.19,226.33 L623.22,226.13 L622.26,225.98 L621.3,225.86 L620.33,225.75 L619.37,225.65 L618.41,225.56 L617.44,225.49 L616.48,225.43 L615.52,225.38 L614.55,225.34 L613.59,225.32 L612.63,225.3 L611.66,225.3 L610.7,225.3 L609.74,225.3 L608.77,225.3 L607.81,225.3 L606.85,225.3 L605.88,225.3 L604.92,225.3 L603.96,225.3 L602.99,225.3 L602.03,225.3 L601.07,225.3 L600.1,225.3 L599.14,225.3 L598.18,225.3 L597.21,225.3 L596.25,225.3 L595.29,225.3 L594.32,225.3 L593.36,225.3 L592.4,225.3 L591.43,225.3 L590.47,225.3 L589.51,225.3 L588.54,225.3 L587.58,225.3 L586.62,225.3 L585.65,225.3 L584.69,225.3 L583.73,225.3 L582.76,225.3 L581.8,225.3 L580.84,225.3 L579.87,225.3 L578.91,225.3 L577.95,225.3 L576.98,225.3 L576.02,225.3 L575.06,225.3 L574.09,225.3 L573.13,225.3 L572.17,225.3 L571.2,225.3 L570.24,225.3 L569.28,225.3 L568.31,225.3 L567.35,225.3 L566.39,225.3 L565.42,225.3 L564.46,225.3 L563.5,225.3 L562.53,225.3 L561.57,225.3 L560.61,225.3 L559.64,225.3 L558.68,225.3 L557.72,225.3 L556.75,225.3 L555.79,225.3 L554.83,225.3 L553.86,225.3 L552.9,225.3 L551.94,225.3 L550.97,225.3 L550.01,225.3 L549.05,225.3 L548.08,225.3 L547.12,225.3 L546.16,225.3 L545.19,225.3 L544.23,225.3 L543.27,225.3 L542.3,225.3 L541.34,225.3 L540.38,225.3 L539.41,225.3 L538.45,225.3 L537.49,225.3 L536.52,225.3 L535.56,225.3 L534.6,225.3 L533.63,225.3 L532.67,225.3 L531.71,225.3 L530.74,225.3 L529.78,225.3 L528.82,225.3 L527.85,225.3 L526.89,225.3 L525.93,225.3 L524.96,225.3 L524,225.3Z" fill="#f4c8a8" fill-opacity="0.45"/>
<path d="M524,236.8 L524.96,236.8 L525.93,236.8 L526.89,236.8 L527.85,236.8 L528.82,236.8 L529.78,236.8 L530.74,236.8 L531.71,236.8 L532.67,236.8 L533.63,236.8 L534.6,236.8 L535.56,236.8 L536.52,236.8 L537.49,236.8 L538.45,236.8 L539.41,236.8 L540.38,236.8 L541.34,236.8 L542.3,236.8 L543.27,236.8 L544.23,236.8 L545.19,236.8 L546.16,236.8 L547.12,236.8 L548.08,236.81 L549.05,236.81 L550.01,236.81 L550.97,236.81 L551.94,236.81 L552.9,236.81 L553.86,236.81 L554.83,236.81 L555.79,236.81 L556.75,236.81 L557.72,236.81 L558.68,236.81 L559.64,236.81 L560.61,236.81 L561.57,236.81 L562.53,236.82 L563.5,236.82 L564.46,236.82 L565.42,236.82 L566.39,236.82 L567.35,236.82 L568.31,236.82 L569.28,236.82 L570.24,236.82 L571.2,236.82 L572.17,236.83 L573.13,236.83 L574.09,236.83 L575.06,236.83 L576.02,236.83 L576.98,236.83 L577.95,236.83 L578.91,236.84 L579.87,236.84 L580.84,236.84 L581.8,236.84 L582.76,236.84 L583.73,236.84 L584.69,236.85 L585.65,236.85 L586.62,236.85 L587.58,236.85 L588.54,236.85 L589.51,236.86 L590.47,236.86 L591.43,236.86 L592.4,236.86 L593.36,236.87 L594.32,236.87 L595.29,236.87 L596.25,236.87 L597.21,236.87 L598.18,236.88 L599.14,236.88 L600.1,236.88 L601.07,236.89 L602.03,236.89 L602.99,236.89 L603.96,236.89 L604.92,236.9 L605.88,236.9 L606.85,236.91 L607.81,236.93 L608.77,236.97 L609.74,237.03 L610.7,237.1 L611.66,237.18 L612.63,237.27 L613.59,237.38 L614.55,237.51 L615.52,237.64 L616.48,237.79 L617.44,237.95 L618.41,238.13 L619.37,238.33 L620.33,238.65 L621.3,239.1 L622.26,239.68 L623.22,240.4 L624.19,241.27 L625.15,242.28 L626.11,243.44 L627.08,244.76 L628.04,246.41 L629,250.11 L629.97,255.81 L630.93,262.86 L631.89,270.61 L632.86,278.4 L633.82,285.58 L634.78,292.03 L635.75,298.5 L636.71,305.01 L637.67,311.57 L638.64,318.16 L639.6,324.8 L639.6,326.8 L638.64,320.16 L637.67,313.57 L636.71,307.01 L635.75,300.5 L634.78,294.03 L633.82,287.58 L632.86,280.4 L631.89,272.61 L630.93,264.86 L629.97,257.81 L629,252.11 L628.04,248.41 L627.08,246.76 L626.11,245.44 L625.15,244.28 L624.19,243.27 L623.22,242.4 L622.26,241.68 L621.3,241.1 L620.33,240.65 L619.37,240.33 L618.41,240.13 L617.44,239.95 L616.48,239.79 L615.52,239.64 L614.55,239.51 L613.59,239.38 L612.63,239.27 L611.66,239.18 L610.7,239.1 L609.74,239.03 L608.77,238.97 L607.81,238.93 L606.85,238.91 L605.88,238.9 L604.92,238.9 L603.96,238.89 L602.99,238.89 L602.03,238.89 L601.07,238.89 L600.1,238.88 L599.14,238.88 L598.18,238.88 L597.21,238.87 L596.25,238.87 L595.29,238.87 L594.32,238.87 L593.36,238.87 L592.4,238.86 L591.43,238.86 L590.47,238.86 L589.51,238.86 L588.54,238.85 L587.58,238.85 L586.62,238.85 L585.65,238.85 L584.69,238.85 L583.73,238.84 L582.76,238.84 L581.8,238.84 L580.84,238.84 L579.87,238.84 L578.91,238.84 L577.95,238.83 L576.98,238.83 L576.02,238.83 L575.06,238.83 L574.09,238.83 L573.13,238.83 L572.17,238.83 L571.2,238.82 L570.24,238.82 L569.28,238.82 L568.31,238.82 L567.35,238.82 L566.39,238.82 L565.42,238.82 L564.46,238.82 L563.5,238.82 L562.53,238.82 L561.57,238.81 L560.61,238.81 L559.64,238.81 L558.68,238.81 L557.72,238.81 L556.75,238.81 L555.79,238.81 L554.83,238.81 L553.86,238.81 L552.9,238.81 L551.94,238.81 L550.97,238.81 L550.01,238.81 L549.05,238.81 L548.08,238.81 L547.12,238.8 L546.16,238.8 L545.19,238.8 L544.23,238.8 L543.27,238.8 L542.3,238.8 L541.34,238.8 L540.38,238.8 L539.41,238.8 L538.45,238.8 L537.49,238.8 L536.52,238.8 L535.56,238.8 L534.6,238.8 L533.63,238.8 L532.67,238.8 L531.71,238.8 L530.74,238.8 L529.78,238.8 L528.82,238.8 L527.85,238.8 L526.89,238.8 L525.93,238.8 L524.96,238.8 L524,238.8Z" fill="#b8e0c0" fill-opacity="0.45"/>
<path d="M524,253.2 L524.96,253.2 L525.93,253.2 L526.89,253.2 L527.85,253.2 L528.82,253.2 L529.78,253.2 L530.74,253.2 L531.71,253.2 L532.67,253.2 L533.63,253.2 L534.6,253.2 L535.56,253.2 L536.52,253.2 L537.49,253.2 L538.45,253.2 L539.41,253.2 L540.38,253.2 L541.34,253.2 L542.3,253.2 L543.27,253.2 L544.23,253.2 L545.19,253.2 L546.16,253.2 L547.12,253.2 L548.08,253.21 L549.05,253.21 L550.01,253.21 L550.97,253.21 L551.94,253.21 L552.9,253.21 L553.86,253.21 L554.83,253.21 L555.79,253.21 L556.75,253.21 L557.72,253.21 L558.68,253.21 L559.64,253.21 L560.61,253.21 L561.57,253.22 L562.53,253.22 L563.5,253.22 L564.46,253.22 L565.42,253.22 L566.39,253.22 L567.35,253.22 L568.31,253.22 L569.28,253.22 L570.24,253.23 L571.2,253.23 L572.17,253.23 L573.13,253.23 L574.09,253.23 L575.06,253.23 L576.02,253.23 L576.98,253.24 L577.95,253.24 L578.91,253.24 L579.87,253.24 L580.84,253.24 L581.8,253.24 L582.76,253.25 L583.73,253.25 L584.69,253.25 L585.65,253.25 L586.62,253.25 L587.58,253.26 L588.54,253.26 L589.51,253.26 L590.47,253.26 L591.43,253.26 L592.4,253.27 L593.36,253.27 L594.32,253.27 L595.29,253.27 L596.25,253.28 L597.21,253.28 L598.18,253.28 L599.14,253.29 L600.1,253.29 L601.07,253.29 L602.03,253.29 L602.99,253.3 L603.96,253.3 L604.92,253.31 L605.88,253.34 L606.85,253.38 L607.81,253.43 L608.77,253.5 L609.74,253.59 L610.7,253.68 L611.66,253.8 L612.63,253.92 L613.59,254.06 L614.55,254.21 L615.52,254.37 L616.48,254.54 L617.44,254.73 L618.41,254.95 L619.37,255.27 L620.33,255.73 L621.3,256.3 L622.26,257 L623.22,257.84 L624.19,258.8 L625.15,259.9 L626.11,261.15 L627.08,262.53 L628.04,264.18 L629,267.36 L629.97,271.93 L630.93,277.3 L631.89,282.9 L632.86,288.16 L633.82,293.38 L634.78,298.8 L635.75,304.41 L636.71,310.22 L637.67,316.22 L638.64,322.41 L639.6,328.8 L639.6,330.8 L638.64,324.41 L637.67,318.22 L636.71,312.22 L635.75,306.41 L634.78,300.8 L633.82,295.38 L632.86,290.16 L631.89,284.9 L630.93,279.3 L629.97,273.93 L629,269.36 L628.04,266.18 L627.08,264.53 L626.11,263.15 L625.15,261.9 L624.19,260.8 L623.22,259.84 L622.26,259 L621.3,258.3 L620.33,257.73 L619.37,257.27 L618.41,256.95 L617.44,256.73 L616.48,256.54 L615.52,256.37 L614.55,256.21 L613.59,256.06 L612.63,255.92 L611.66,255.8 L610.7,255.68 L609.74,255.59 L608.77,255.5 L607.81,255.43 L606.85,255.38 L605.88,255.34 L604.92,255.31 L603.96,255.3 L602.99,255.3 L602.03,255.29 L601.07,255.29 L600.1,255.29 L599.14,255.29 L598.18,255.28 L597.21,255.28 L596.25,255.28 L595.29,255.27 L594.32,255.27 L593.36,255.27 L592.4,255.27 L591.43,255.26 L590.47,255.26 L589.51,255.26 L588.54,255.26 L587.58,255.26 L586.62,255.25 L585.65,255.25 L584.69,255.25 L583.73,255.25 L582.76,255.25 L581.8,255.24 L580.84,255.24 L579.87,255.24 L578.91,255.24 L577.95,255.24 L576.98,255.24 L576.02,255.23 L575.06,255.23 L574.09,255.23 L573.13,255.23 L572.17,255.23 L571.2,255.23 L570.24,255.23 L569.28,255.22 L568.31,255.22 L567.35,255.22 L566.39,255.22 L565.42,255.22 L564.46,255.22 L563.5,255.22 L562.53,255.22 L561.57,255.22 L560.61,255.21 L559.64,255.21 L558.68,255.21 L557.72,255.21 L556.75,255.21 L555.79,255.21 L554.83,255.21 L553.86,255.21 L552.9,255.21 L551.94,255.21 L550.97,255.21 L550.01,255.21 L549.05,255.21 L548.08,255.21 L547.12,255.2 L546.16,255.2 L545.19,255.2 L544.23,255.2 L543.27,255.2 L542.3,255.2 L541.34,255.2 L540.38,255.2 L539.41,255.2 L538.45,255.2 L537.49,255.2 L536.52,255.2 L535.56,255.2 L534.6,255.2 L533.63,255.2 L532.67,255.2 L531.71,255.2 L530.74,255.2 L529.78,255.2 L528.82,255.2 L527.85,255.2 L526.89,255.2 L525.93,255.2 L524.96,255.2 L524,255.2Z" fill="#d6c8f0" fill-opacity="0.45"/>
<path d="M524,280.3 L524.96,280.3 L525.93,280.3 L526.89,280.3 L527.85,280.3 L528.82,280.3 L529.78,280.3 L530.74,280.3 L531.71,280.3 L532.67,280.3 L533.63,280.3 L534.6,280.3 L535.56,280.3 L536.52,280.3 L537.49,280.3 L538.45,280.3 L539.41,280.3 L540.38,280.3 L541.34,280.3 L542.3,280.3 L543.27,280.3 L544.23,280.3 L545.19,280.3 L546.16,280.31 L547.12,280.31 L548.08,280.31 L549.05,280.31 L550.01,280.31 L550.97,280.31 L551.94,280.31 L552.9,280.31 L553.86,280.31 L554.83,280.31 L555.79,280.31 L556.75,280.31 L557.72,280.31 L558.68,280.31 L559.64,280.32 L560.61,280.32 L561.57,280.32 L562.53,280.32 L563.5,280.32 L564.46,280.32 L565.42,280.32 L566.39,280.32 L567.35,280.33 L568.31,280.33 L569.28,280.33 L570.24,280.33 L571.2,280.33 L572.17,280.33 L573.13,280.33 L574.09,280.34 L575.06,280.34 L576.02,280.34 L576.98,280.34 L577.95,280.34 L578.91,280.34 L579.87,280.35 L580.84,280.35 L581.8,280.35 L582.76,280.35 L583.73,280.35 L584.69,280.36 L585.65,280.36 L586.62,280.36 L587.58,280.36 L588.54,280.37 L589.51,280.37 L590.47,280.37 L591.43,280.37 L592.4,280.38 L593.36,280.38 L594.32,280.38 L595.29,280.39 L596.25,280.39 L597.21,280.39 L598.18,280.39 L599.14,280.4 L600.1,280.4 L601.07,280.41 L602.03,280.44 L602.99,280.48 L603.96,280.54 L604.92,280.61 L605.88,280.69 L606.85,280.78 L607.81,280.89 L608.77,281.01 L609.74,281.14 L610.7,281.28 L611.66,281.43 L612.63,281.6 L613.59,281.77 L614.55,281.95 L615.52,282.17 L616.48,282.51 L617.44,282.95 L618.41,283.49 L619.37,284.1 L620.33,284.79 L621.3,285.54 L622.26,286.34 L623.22,287.18 L624.19,288.17 L625.15,289.31 L626.11,290.61 L627.08,292.06 L628.04,293.67 L629,295.42 L629.97,297.32 L630.93,299.36 L631.89,301.56 L632.86,304.14 L633.82,307.2 L634.78,310.67 L635.75,314.52 L636.71,318.7 L637.67,323.15 L638.64,327.84 L639.6,332.7 L639.6,334.7 L638.64,329.84 L637.67,325.15 L636.71,320.7 L635.75,316.52 L634.78,312.67 L633.82,309.2 L632.86,306.14 L631.89,303.56 L630.93,301.36 L629.97,299.32 L629,297.42 L628.04,295.67 L627.08,294.06 L626.11,292.61 L625.15,291.31 L624.19,290.17 L623.22,289.18 L622.26,288.34 L621.3,287.54 L620.33,286.79 L619.37,286.1 L618.41,285.49 L617.44,284.95 L616.48,284.51 L615.52,284.17 L614.55,283.95 L613.59,283.77 L612.63,283.6 L611.66,283.43 L610.7,283.28 L609.74,283.14 L608.77,283.01 L607.81,282.89 L606.85,282.78 L605.88,282.69 L604.92,282.61 L603.96,282.54 L602.99,282.48 L602.03,282.44 L601.07,282.41 L600.1,282.4 L599.14,282.4 L598.18,282.39 L597.21,282.39 L596.25,282.39 L595.29,282.39 L594.32,282.38 L593.36,282.38 L592.4,282.38 L591.43,282.37 L590.47,282.37 L589.51,282.37 L588.54,282.37 L587.58,282.36 L586.62,282.36 L585.65,282.36 L584.69,282.36 L583.73,282.35 L582.76,282.35 L581.8,282.35 L580.84,282.35 L579.87,282.35 L578.91,282.34 L577.95,282.34 L576.98,282.34 L576.02,282.34 L575.06,282.34 L574.09,282.34 L573.13,282.33 L572.17,282.33 L571.2,282.33 L570.24,282.33 L569.28,282.33 L568.31,282.33 L567.35,282.33 L566.39,282.32 L565.42,282.32 L564.46,282.32 L563.5,282.32 L562.53,282.32 L561.57,282.32 L560.61,282.32 L559.64,282.32 L558.68,282.31 L557.72,282.31 L556.75,282.31 L555.79,282.31 L554.83,282.31 L553.86,282.31 L552.9,282.31 L551.94,282.31 L550.97,282.31 L550.01,282.31 L549.05,282.31 L548.08,282.31 L547.12,282.31 L546.16,282.31 L545.19,282.3 L544.23,282.3 L543.27,282.3 L542.3,282.3 L541.34,282.3 L540.38,282.3 L539.41,282.3 L538.45,282.3 L537.49,282.3 L536.52,282.3 L535.56,282.3 L534.6,282.3 L533.63,282.3 L532.67,282.3 L531.71,282.3 L530.74,282.3 L529.78,282.3 L528.82,282.3 L527.85,282.3 L526.89,282.3 L525.93,282.3 L524.96,282.3 L524,282.3Z" fill="#f2b8dc" fill-opacity="0.45"/>
<path d="M524,311 L524.96,311 L525.93,311 L526.89,311 L527.85,311 L528.82,311 L529.78,311 L530.74,311 L531.71,311 L532.67,311 L533.63,311 L534.6,311 L535.56,311 L536.52,311 L537.49,311 L538.45,311 L539.41,311 L540.38,311 L541.34,311 L542.3,311 L543.27,311 L544.23,311 L545.19,311 L546.16,311.01 L547.12,311.01 L548.08,311.01 L549.05,311.01 L550.01,311.01 L550.97,311.01 L551.94,311.01 L552.9,311.01 L553.86,311.01 L554.83,311.01 L555.79,311.01 L556.75,311.01 L557.72,311.01 L558.68,311.01 L559.64,311.02 L560.61,311.02 L561.57,311.02 L562.53,311.02 L563.5,311.02 L564.46,311.02 L565.42,311.02 L566.39,311.02 L567.35,311.02 L568.31,311.03 L569.28,311.03 L570.24,311.03 L571.2,311.03 L572.17,311.03 L573.13,311.03 L574.09,311.03 L575.06,311.04 L576.02,311.04 L576.98,311.04 L577.95,311.04 L578.91,311.04 L579.87,311.04 L580.84,311.05 L581.8,311.05 L582.76,311.05 L583.73,311.05 L584.69,311.05 L585.65,311.06 L586.62,311.06 L587.58,311.06 L588.54,311.06 L589.51,311.06 L590.47,311.07 L591.43,311.07 L592.4,311.07 L593.36,311.07 L594.32,311.08 L595.29,311.08 L596.25,311.08 L597.21,311.09 L598.18,311.09 L599.14,311.09 L600.1,311.09 L601.07,311.1 L602.03,311.1 L602.99,311.11 L603.96,311.13 L604.92,311.16 L605.88,311.2 L606.85,311.25 L607.81,311.32 L608.77,311.39 L609.74,311.47 L610.7,311.56 L611.66,311.66 L612.63,311.77 L613.59,311.89 L614.55,312.01 L615.52,312.15 L616.48,312.29 L617.44,312.44 L618.41,312.62 L619.37,312.91 L620.33,313.3 L621.3,313.78 L622.26,314.36 L623.22,315.01 L624.19,315.73 L625.15,316.52 L626.11,317.36 L627.08,318.24 L628.04,319.16 L629,320.1 L629.97,321.08 L630.93,322.19 L631.89,323.47 L632.86,324.9 L633.82,326.47 L634.78,328.16 L635.75,329.96 L636.71,331.83 L637.67,333.78 L638.64,335.7 L639.6,335.7 L639.6,337.7 L638.64,337.7 L637.67,335.78 L636.71,333.83 L635.75,331.96 L634.78,330.16 L633.82,328.47 L632.86,326.9 L631.89,325.47 L630.93,324.19 L629.97,323.08 L629,322.1 L628.04,321.16 L627.08,320.24 L626.11,319.36 L625.15,318.52 L624.19,317.73 L623.22,317.01 L622.26,316.36 L621.3,315.78 L620.33,315.3 L619.37,314.91 L618.41,314.62 L617.44,314.44 L616.48,314.29 L615.52,314.15 L614.55,314.01 L613.59,313.89 L612.63,313.77 L611.66,313.66 L610.7,313.56 L609.74,313.47 L608.77,313.39 L607.81,313.32 L606.85,313.25 L605.88,313.2 L604.92,313.16 L603.96,313.13 L602.99,313.11 L602.03,313.1 L601.07,313.1 L600.1,313.09 L599.14,313.09 L598.18,313.09 L597.21,313.09 L596.25,313.08 L595.29,313.08 L594.32,313.08 L593.36,313.07 L592.4,313.07 L591.43,313.07 L590.47,313.07 L589.51,313.06 L588.54,313.06 L587.58,313.06 L586.62,313.06 L585.65,313.06 L584.69,313.05 L583.73,313.05 L582.76,313.05 L581.8,313.05 L580.84,313.05 L579.87,313.04 L578.91,313.04 L577.95,313.04 L576.98,313.04 L576.02,313.04 L575.06,313.04 L574.09,313.03 L573.13,313.03 L572.17,313.03 L571.2,313.03 L570.24,313.03 L569.28,313.03 L568.31,313.03 L567.35,313.02 L566.39,313.02 L565.42,313.02 L564.46,313.02 L563.5,313.02 L562.53,313.02 L561.57,313.02 L560.61,313.02 L559.64,313.02 L558.68,313.01 L557.72,313.01 L556.75,313.01 L555.79,313.01 L554.83,313.01 L553.86,313.01 L552.9,313.01 L551.94,313.01 L550.97,313.01 L550.01,313.01 L549.05,313.01 L548.08,313.01 L547.12,313.01 L546.16,313.01 L545.19,313 L544.23,313 L543.27,313 L542.3,313 L541.34,313 L540.38,313 L539.41,313 L538.45,313 L537.49,313 L536.52,313 L535.56,313 L534.6,313 L533.63,313 L532.67,313 L531.71,313 L530.74,313 L529.78,313 L528.82,313 L527.85,313 L526.89,313 L525.93,313 L524.96,313 L524,313Z" fill="#f6eeb0" fill-opacity="0.45"/>
<path d="M524,224.3 L524.96,224.3 L525.93,224.3 L526.89,224.3 L527.85,224.3 L528.82,224.3 L529.78,224.3 L530.74,224.3 L531.71,224.3 L532.67,224.3 L533.63,224.3 L534.6,224.3 L535.56,224.3 L536.52,224.3 L537.49,224.3 L538.45,224.3 L539.41,224.3 L540.38,224.3 L541.34,224.3 L542.3,224.3 L543.27,224.3 L544.23,224.3 L545.19,224.3 L546.16,224.3 L547.12,224.3 L548.08,224.3 L549.05,224.3 L550.01,224.3 L550.97,224.3 L551.94,224.3 L552.9,224.3 L553.86,224.3 L554.83,224.3 L555.79,224.3 L556.75,224.3 L557.72,224.3 L558.68,224.3 L559.64,224.3 L560.61,224.3 L561.57,224.3 L562.53,224.3 L563.5,224.3 L564.46,224.3 L565.42,224.3 L566.39,224.3 L567.35,224.3 L568.31,224.3 L569.28,224.3 L570.24,224.3 L571.2,224.3 L572.17,224.3 L573.13,224.3 L574.09,224.3 L575.06,224.3 L576.02,224.3 L576.98,224.3 L577.95,224.3 L578.91,224.3 L579.87,224.3 L580.84,224.3 L581.8,224.3 L582.76,224.3 L583.73,224.3 L584.69,224.3 L585.65,224.3 L586.62,224.3 L587.58,224.3 L588.54,224.3 L589.51,224.3 L590.47,224.3 L591.43,224.3 L592.4,224.3 L593.36,224.3 L594.32,224.3 L595.29,224.3 L596.25,224.3 L597.21,224.3 L598.18,224.3 L599.14,224.3 L600.1,224.3 L601.07,224.3 L602.03,224.3 L602.99,224.3 L603.96,224.3 L604.92,224.3 L605.88,224.3 L606.85,224.3 L607.81,224.3 L608.77,224.3 L609.74,224.3 L610.7,224.3 L611.66,224.3 L612.63,224.3 L613.59,224.32 L614.55,224.34 L615.52,224.38 L616.48,224.43 L617.44,224.49 L618.41,224.56 L619.37,224.65 L620.33,224.75 L621.3,224.86 L622.26,224.98 L623.22,225.13 L624.19,225.33 L625.15,225.86 L626.11,226.74 L627.08,227.96 L628.04,229.49 L629,231.31 L629.97,233.57 L630.93,238.9 L631.89,247.34 L632.86,257.75 L633.82,268.95 L634.78,279.77 L635.75,289.1 L636.71,297.52 L637.67,305.77 L638.64,313.86 L639.6,321.8" fill="none" stroke="#e07b39" stroke-width="1.9" stroke-linejoin="round"/>
<path d="M524,237.8 L524.96,237.8 L525.93,237.8 L526.89,237.8 L527.85,237.8 L528.82,237.8 L529.78,237.8 L530.74,237.8 L531.71,237.8 L532.67,237.8 L533.63,237.8 L534.6,237.8 L535.56,237.8 L536.52,237.8 L537.49,237.8 L538.45,237.8 L539.41,237.8 L540.38,237.8 L541.34,237.8 L542.3,237.8 L543.27,237.8 L544.23,237.8 L545.19,237.8 L546.16,237.8 L547.12,237.8 L548.08,237.81 L549.05,237.81 L550.01,237.81 L550.97,237.81 L551.94,237.81 L552.9,237.81 L553.86,237.81 L554.83,237.81 L555.79,237.81 L556.75,237.81 L557.72,237.81 L558.68,237.81 L559.64,237.81 L560.61,237.81 L561.57,237.81 L562.53,237.82 L563.5,237.82 L564.46,237.82 L565.42,237.82 L566.39,237.82 L567.35,237.82 L568.31,237.82 L569.28,237.82 L570.24,237.82 L571.2,237.82 L572.17,237.83 L573.13,237.83 L574.09,237.83 L575.06,237.83 L576.02,237.83 L576.98,237.83 L577.95,237.83 L578.91,237.84 L579.87,237.84 L580.84,237.84 L581.8,237.84 L582.76,237.84 L583.73,237.84 L584.69,237.85 L585.65,237.85 L586.62,237.85 L587.58,237.85 L588.54,237.85 L589.51,237.86 L590.47,237.86 L591.43,237.86 L592.4,237.86 L593.36,237.87 L594.32,237.87 L595.29,237.87 L596.25,237.87 L597.21,237.87 L598.18,237.88 L599.14,237.88 L600.1,237.88 L601.07,237.89 L602.03,237.89 L602.99,237.89 L603.96,237.89 L604.92,237.9 L605.88,237.9 L606.85,237.91 L607.81,237.93 L608.77,237.97 L609.74,238.03 L610.7,238.1 L611.66,238.18 L612.63,238.27 L613.59,238.38 L614.55,238.51 L615.52,238.64 L616.48,238.79 L617.44,238.95 L618.41,239.13 L619.37,239.33 L620.33,239.65 L621.3,240.1 L622.26,240.68 L623.22,241.4 L624.19,242.27 L625.15,243.28 L626.11,244.44 L627.08,245.76 L628.04,247.41 L629,251.11 L629.97,256.81 L630.93,263.86 L631.89,271.61 L632.86,279.4 L633.82,286.58 L634.78,293.03 L635.75,299.5 L636.71,306.01 L637.67,312.57 L638.64,319.16 L639.6,325.8" fill="none" stroke="#2f9a4a" stroke-width="1.9" stroke-linejoin="round"/>
<path d="M524,254.2 L524.96,254.2 L525.93,254.2 L526.89,254.2 L527.85,254.2 L528.82,254.2 L529.78,254.2 L530.74,254.2 L531.71,254.2 L532.67,254.2 L533.63,254.2 L534.6,254.2 L535.56,254.2 L536.52,254.2 L537.49,254.2 L538.45,254.2 L539.41,254.2 L540.38,254.2 L541.34,254.2 L542.3,254.2 L543.27,254.2 L544.23,254.2 L545.19,254.2 L546.16,254.2 L547.12,254.2 L548.08,254.21 L549.05,254.21 L550.01,254.21 L550.97,254.21 L551.94,254.21 L552.9,254.21 L553.86,254.21 L554.83,254.21 L555.79,254.21 L556.75,254.21 L557.72,254.21 L558.68,254.21 L559.64,254.21 L560.61,254.21 L561.57,254.22 L562.53,254.22 L563.5,254.22 L564.46,254.22 L565.42,254.22 L566.39,254.22 L567.35,254.22 L568.31,254.22 L569.28,254.22 L570.24,254.23 L571.2,254.23 L572.17,254.23 L573.13,254.23 L574.09,254.23 L575.06,254.23 L576.02,254.23 L576.98,254.24 L577.95,254.24 L578.91,254.24 L579.87,254.24 L580.84,254.24 L581.8,254.24 L582.76,254.25 L583.73,254.25 L584.69,254.25 L585.65,254.25 L586.62,254.25 L587.58,254.26 L588.54,254.26 L589.51,254.26 L590.47,254.26 L591.43,254.26 L592.4,254.27 L593.36,254.27 L594.32,254.27 L595.29,254.27 L596.25,254.28 L597.21,254.28 L598.18,254.28 L599.14,254.29 L600.1,254.29 L601.07,254.29 L602.03,254.29 L602.99,254.3 L603.96,254.3 L604.92,254.31 L605.88,254.34 L606.85,254.38 L607.81,254.43 L608.77,254.5 L609.74,254.59 L610.7,254.68 L611.66,254.8 L612.63,254.92 L613.59,255.06 L614.55,255.21 L615.52,255.37 L616.48,255.54 L617.44,255.73 L618.41,255.95 L619.37,256.27 L620.33,256.73 L621.3,257.3 L622.26,258 L623.22,258.84 L624.19,259.8 L625.15,260.9 L626.11,262.15 L627.08,263.53 L628.04,265.18 L629,268.36 L629.97,272.93 L630.93,278.3 L631.89,283.9 L632.86,289.16 L633.82,294.38 L634.78,299.8 L635.75,305.41 L636.71,311.22 L637.67,317.22 L638.64,323.41 L639.6,329.8" fill="none" stroke="#7b55c4" stroke-width="1.9" stroke-linejoin="round"/>
<path d="M524,281.3 L524.96,281.3 L525.93,281.3 L526.89,281.3 L527.85,281.3 L528.82,281.3 L529.78,281.3 L530.74,281.3 L531.71,281.3 L532.67,281.3 L533.63,281.3 L534.6,281.3 L535.56,281.3 L536.52,281.3 L537.49,281.3 L538.45,281.3 L539.41,281.3 L540.38,281.3 L541.34,281.3 L542.3,281.3 L543.27,281.3 L544.23,281.3 L545.19,281.3 L546.16,281.31 L547.12,281.31 L548.08,281.31 L549.05,281.31 L550.01,281.31 L550.97,281.31 L551.94,281.31 L552.9,281.31 L553.86,281.31 L554.83,281.31 L555.79,281.31 L556.75,281.31 L557.72,281.31 L558.68,281.31 L559.64,281.32 L560.61,281.32 L561.57,281.32 L562.53,281.32 L563.5,281.32 L564.46,281.32 L565.42,281.32 L566.39,281.32 L567.35,281.33 L568.31,281.33 L569.28,281.33 L570.24,281.33 L571.2,281.33 L572.17,281.33 L573.13,281.33 L574.09,281.34 L575.06,281.34 L576.02,281.34 L576.98,281.34 L577.95,281.34 L578.91,281.34 L579.87,281.35 L580.84,281.35 L581.8,281.35 L582.76,281.35 L583.73,281.35 L584.69,281.36 L585.65,281.36 L586.62,281.36 L587.58,281.36 L588.54,281.37 L589.51,281.37 L590.47,281.37 L591.43,281.37 L592.4,281.38 L593.36,281.38 L594.32,281.38 L595.29,281.39 L596.25,281.39 L597.21,281.39 L598.18,281.39 L599.14,281.4 L600.1,281.4 L601.07,281.41 L602.03,281.44 L602.99,281.48 L603.96,281.54 L604.92,281.61 L605.88,281.69 L606.85,281.78 L607.81,281.89 L608.77,282.01 L609.74,282.14 L610.7,282.28 L611.66,282.43 L612.63,282.6 L613.59,282.77 L614.55,282.95 L615.52,283.17 L616.48,283.51 L617.44,283.95 L618.41,284.49 L619.37,285.1 L620.33,285.79 L621.3,286.54 L622.26,287.34 L623.22,288.18 L624.19,289.17 L625.15,290.31 L626.11,291.61 L627.08,293.06 L628.04,294.67 L629,296.42 L629.97,298.32 L630.93,300.36 L631.89,302.56 L632.86,305.14 L633.82,308.2 L634.78,311.67 L635.75,315.52 L636.71,319.7 L637.67,324.15 L638.64,328.84 L639.6,333.7" fill="none" stroke="#d6339b" stroke-width="1.9" stroke-linejoin="round"/>
<path d="M524,312 L524.96,312 L525.93,312 L526.89,312 L527.85,312 L528.82,312 L529.78,312 L530.74,312 L531.71,312 L532.67,312 L533.63,312 L534.6,312 L535.56,312 L536.52,312 L537.49,312 L538.45,312 L539.41,312 L540.38,312 L541.34,312 L542.3,312 L543.27,312 L544.23,312 L545.19,312 L546.16,312.01 L547.12,312.01 L548.08,312.01 L549.05,312.01 L550.01,312.01 L550.97,312.01 L551.94,312.01 L552.9,312.01 L553.86,312.01 L554.83,312.01 L555.79,312.01 L556.75,312.01 L557.72,312.01 L558.68,312.01 L559.64,312.02 L560.61,312.02 L561.57,312.02 L562.53,312.02 L563.5,312.02 L564.46,312.02 L565.42,312.02 L566.39,312.02 L567.35,312.02 L568.31,312.03 L569.28,312.03 L570.24,312.03 L571.2,312.03 L572.17,312.03 L573.13,312.03 L574.09,312.03 L575.06,312.04 L576.02,312.04 L576.98,312.04 L577.95,312.04 L578.91,312.04 L579.87,312.04 L580.84,312.05 L581.8,312.05 L582.76,312.05 L583.73,312.05 L584.69,312.05 L585.65,312.06 L586.62,312.06 L587.58,312.06 L588.54,312.06 L589.51,312.06 L590.47,312.07 L591.43,312.07 L592.4,312.07 L593.36,312.07 L594.32,312.08 L595.29,312.08 L596.25,312.08 L597.21,312.09 L598.18,312.09 L599.14,312.09 L600.1,312.09 L601.07,312.1 L602.03,312.1 L602.99,312.11 L603.96,312.13 L604.92,312.16 L605.88,312.2 L606.85,312.25 L607.81,312.32 L608.77,312.39 L609.74,312.47 L610.7,312.56 L611.66,312.66 L612.63,312.77 L613.59,312.89 L614.55,313.01 L615.52,313.15 L616.48,313.29 L617.44,313.44 L618.41,313.62 L619.37,313.91 L620.33,314.3 L621.3,314.78 L622.26,315.36 L623.22,316.01 L624.19,316.73 L625.15,317.52 L626.11,318.36 L627.08,319.24 L628.04,320.16 L629,321.1 L629.97,322.08 L630.93,323.19 L631.89,324.47 L632.86,325.9 L633.82,327.47 L634.78,329.16 L635.75,330.96 L636.71,332.83 L637.67,334.78 L638.64,336.7 L639.6,336.7" fill="none" stroke="#e6d43e" stroke-width="1.9" stroke-linejoin="round"/>
<line x1="519" y1="288" x2="642" y2="288" stroke="#222" stroke-width="1.4" stroke-dasharray="3.6 3.3"/>
<line x1="519" y1="338.6" x2="642" y2="338.6" stroke="#222" stroke-width="1.4" stroke-dasharray="3.6 3.3"/>
<line x1="518.2" y1="218.6" x2="518.2" y2="351.4" stroke="#000" stroke-width="1.5"/>
<line x1="517.5" y1="350.6" x2="645" y2="350.6" stroke="#000" stroke-width="1.6"/>
<line x1="543.8" y1="351.3" x2="543.8" y2="352.8" stroke="#555" stroke-width="0.6"/>
<line x1="586" y1="351.3" x2="586" y2="352.8" stroke="#555" stroke-width="0.6"/>
<line x1="627.5" y1="351.3" x2="627.5" y2="352.8" stroke="#555" stroke-width="0.6"/>
<text x="513.6" y="228.3" font-size="11.2" text-anchor="end" stroke="#000" stroke-width="0.1">1</text>
<text x="491.7" y="258.9" font-size="11.2" stroke="#000" stroke-width="0.1" textLength="21.9" lengthAdjust="spacingAndGlyphs">0.75</text>
<text x="491.7" y="291.5" font-size="11.2" stroke="#000" stroke-width="0.1" textLength="21.9" lengthAdjust="spacingAndGlyphs">0.50</text>
<text x="491.7" y="322.5" font-size="11.2" stroke="#000" stroke-width="0.1" textLength="21.9" lengthAdjust="spacingAndGlyphs">0.25</text>
<text x="491.7" y="351.4" font-size="11.2" stroke="#000" stroke-width="0.1" textLength="21.9" lengthAdjust="spacingAndGlyphs">0.00</text>
<text x="537.4" y="364.6" font-size="11.2" text-anchor="middle" stroke="#000" stroke-width="0.1" textLength="21.8" lengthAdjust="spacingAndGlyphs">0.01</text>
<text x="585.6" y="364.6" font-size="11.2" text-anchor="middle" stroke="#000" stroke-width="0.1">1</text>
<text x="626.95" y="364.6" font-size="11.2" text-anchor="middle" stroke="#000" stroke-width="0.1" textLength="19.7" lengthAdjust="spacingAndGlyphs">100</text>
<text x="539.6" y="383" font-size="16" stroke="#000" stroke-width="0.2" textLength="83.3" lengthAdjust="spacingAndGlyphs">FSG67 (µM)</text>
<text x="481.8" y="305" font-size="16" stroke="#000" stroke-width="0.2" textLength="58.7" lengthAdjust="spacingAndGlyphs" transform="rotate(-90 481.8 305)">Survival</text>
<text x="472.5" y="211" font-size="14" stroke="#000" stroke-width="0.2" textLength="14.9" lengthAdjust="spacingAndGlyphs">(f)</text>
<g stroke="#000" stroke-width="0.2">
<text x="524.2" y="212.5" font-size="16" textLength="30.4" lengthAdjust="spacingAndGlyphs">ES-8</text>
<text x="558.4" y="212.5" font-size="16" font-style="italic" textLength="56.5" lengthAdjust="spacingAndGlyphs">SLFN11</text>
</g>
<text x="614.5" y="206.5" font-size="9" textLength="10.8" lengthAdjust="spacingAndGlyphs">-/-</text>
<text x="652.4" y="253.7" font-size="7.6" fill="#222" stroke="#222" stroke-width="0.15" textLength="20.5" lengthAdjust="spacingAndGlyphs">SN-38</text>
<text x="652.4" y="262.2" font-size="7.6" fill="#e0773a" stroke="#e0773a" stroke-width="0.15" textLength="17.8" lengthAdjust="spacingAndGlyphs">0 µM</text>
<text x="652.4" y="270.3" font-size="7.6" fill="#2e9040" stroke="#2e9040" stroke-width="0.15" textLength="32.6" lengthAdjust="spacingAndGlyphs">0.001 µM</text>
<text x="652.4" y="278.4" font-size="7.6" fill="#6a4cb8" stroke="#6a4cb8" stroke-width="0.15" textLength="29" lengthAdjust="spacingAndGlyphs">0.01 µM</text>
<text x="652.4" y="286.5" font-size="7.6" fill="#d63595" stroke="#d63595" stroke-width="0.15" textLength="25" lengthAdjust="spacingAndGlyphs">0.1 µM</text>
<text x="652.4" y="294.6" font-size="7.6" fill="#e8d43a" stroke="#e8d43a" stroke-width="0.15" textLength="17.5" lengthAdjust="spacingAndGlyphs">1 µM</text>
<line x1="44" y1="412.1" x2="44" y2="567.8" stroke="#6e6e6e" stroke-width="1"/>
<line x1="43.5" y1="567.3" x2="164.5" y2="567.3" stroke="#6e6e6e" stroke-width="1"/>
<rect x="64.4" y="548.9" width="39.4" height="1.6" fill="#2a0a0a" stroke="#111" stroke-width="0.7"/>
<rect x="119.8" y="427.3" width="40.4" height="6.3" fill="#2b2be8" stroke="#333" stroke-width="0.6"/>
<line x1="119.8" y1="430.3" x2="160.2" y2="430.3" stroke="#111" stroke-width="1"/>
<text x="21.5" y="449.3" font-size="11.5" stroke="#000" stroke-width="0.1" textLength="11.6" lengthAdjust="spacingAndGlyphs">10</text>
<text x="33.2" y="443.5" font-size="7" stroke="#000" stroke-width="0.15" textLength="6.3" lengthAdjust="spacingAndGlyphs">-1</text>
<text x="21.5" y="512" font-size="11.5" stroke="#000" stroke-width="0.1" textLength="11.6" lengthAdjust="spacingAndGlyphs">10</text>
<text x="33.2" y="506.2" font-size="7" stroke="#000" stroke-width="0.15" textLength="6.3" lengthAdjust="spacingAndGlyphs">-2</text>
<text x="21.5" y="575.3" font-size="11.5" stroke="#000" stroke-width="0.1" textLength="11.6" lengthAdjust="spacingAndGlyphs">10</text>
<text x="33.2" y="569.5" font-size="7" stroke="#000" stroke-width="0.15" textLength="6.3" lengthAdjust="spacingAndGlyphs">-3</text>
<text x="16.7" y="529.5" font-size="16.3" stroke="#000" stroke-width="0.2" textLength="72" lengthAdjust="spacingAndGlyphs" transform="rotate(-90 16.7 529.5)">EC50 (µM)</text>
<text x="86.1" y="414.2" font-size="15.8" stroke="#000" stroke-width="0.2" textLength="43.2" lengthAdjust="spacingAndGlyphs">SN-38</text>
<text x="0" y="413.5" font-size="14" stroke="#000" stroke-width="0.2" textLength="18.2" lengthAdjust="spacingAndGlyphs">(g)</text>
<text x="56.1" y="622.9" font-size="14.8" stroke="#000" stroke-width="0.15" transform="rotate(-49 56.1 622.9)" textLength="57" lengthAdjust="spacingAndGlyphs">ES-8 WT</text>
<g transform="rotate(-49 87.8 656.5)">
<text x="87.8" y="656.5" font-size="14.8" stroke="#000" stroke-width="0.15" textLength="32" lengthAdjust="spacingAndGlyphs">ES-8</text>
<text x="124.8" y="656.5" font-size="14.8" font-style="italic" stroke="#000" stroke-width="0.15" textLength="54" lengthAdjust="spacingAndGlyphs">SLFN11</text>
<text x="178.8" y="650.5" font-size="8.5" textLength="10" lengthAdjust="spacingAndGlyphs">-/-</text>
</g>
<line x1="221.3" y1="415.2" x2="221.3" y2="568.8" stroke="#6e6e6e" stroke-width="1"/>
<line x1="220.8" y1="568.3" x2="341.8" y2="568.3" stroke="#6e6e6e" stroke-width="1"/>
<rect x="241.2" y="480.4" width="40.6" height="26.6" fill="#f06068" stroke="#333" stroke-width="0.6"/>
<line x1="241.2" y1="493.7" x2="281.8" y2="493.7" stroke="#111" stroke-width="1"/>
<rect x="297.2" y="513.6" width="40.8" height="31.7" fill="#3a2aef" stroke="#333" stroke-width="0.6"/>
<line x1="297.2" y1="529.4" x2="338" y2="529.4" stroke="#111" stroke-width="1"/>
<text x="198.2" y="420.5" font-size="11.2" stroke="#000" stroke-width="0.1" textLength="19" lengthAdjust="spacingAndGlyphs">400</text>
<text x="198.2" y="458.6" font-size="11.2" stroke="#000" stroke-width="0.1" textLength="19" lengthAdjust="spacingAndGlyphs">350</text>
<text x="198.2" y="497.4" font-size="11.2" stroke="#000" stroke-width="0.1" textLength="19" lengthAdjust="spacingAndGlyphs">300</text>
<text x="198.2" y="535.8" font-size="11.2" stroke="#000" stroke-width="0.1" textLength="19" lengthAdjust="spacingAndGlyphs">250</text>
<text x="198.2" y="574" font-size="11.2" stroke="#000" stroke-width="0.1" textLength="19" lengthAdjust="spacingAndGlyphs">200</text>
<text x="191.6" y="529.5" font-size="16.3" stroke="#000" stroke-width="0.2" textLength="72" lengthAdjust="spacingAndGlyphs" transform="rotate(-90 191.6 529.5)">EC50 (µM)</text>
<text x="267.8" y="417.6" font-size="15.8" stroke="#000" stroke-width="0.2" textLength="45" lengthAdjust="spacingAndGlyphs">FSG67</text>
<text x="170" y="413.5" font-size="14" stroke="#000" stroke-width="0.2" textLength="16.5" lengthAdjust="spacingAndGlyphs">(h)</text>
<text x="233.5" y="622.9" font-size="14.8" stroke="#000" stroke-width="0.15" transform="rotate(-49 233.5 622.9)" textLength="57" lengthAdjust="spacingAndGlyphs">ES-8 WT</text>
<g transform="rotate(-49 265.3 656.5)">
<text x="265.3" y="656.5" font-size="14.8" stroke="#000" stroke-width="0.15" textLength="32" lengthAdjust="spacingAndGlyphs">ES-8</text>
<text x="302.3" y="656.5" font-size="14.8" font-style="italic" stroke="#000" stroke-width="0.15" textLength="54" lengthAdjust="spacingAndGlyphs">SLFN11</text>
<text x="356.3" y="650.5" font-size="8.5" textLength="10" lengthAdjust="spacingAndGlyphs">-/-</text>
</g>
<line x1="393.1" y1="415.1" x2="393.1" y2="569" stroke="#6e6e6e" stroke-width="1"/>
<line x1="392.6" y1="568.5" x2="513" y2="568.5" stroke="#6e6e6e" stroke-width="1"/>
<rect x="412.5" y="552" width="40.3" height="10.2" fill="#f06068" stroke="#333" stroke-width="0.6"/>
<line x1="412.5" y1="556.2" x2="452.8" y2="556.2" stroke="#111" stroke-width="1"/>
<rect x="468.7" y="426.8" width="40.3" height="69.6" fill="#3a2aef" stroke="#333" stroke-width="0.6"/>
<line x1="468.7" y1="462.5" x2="509" y2="462.5" stroke="#111" stroke-width="1"/>
<text x="375.5" y="421.4" font-size="11.2" stroke="#000" stroke-width="0.1" textLength="14.3" lengthAdjust="spacingAndGlyphs">1.5</text>
<text x="389.8" y="458.9" font-size="11.2" text-anchor="end" stroke="#000" stroke-width="0.1">1</text>
<text x="375.5" y="497.3" font-size="11.2" stroke="#000" stroke-width="0.1" textLength="14.3" lengthAdjust="spacingAndGlyphs">0.5</text>
<text x="389.8" y="536.2" font-size="11.2" text-anchor="end" stroke="#000" stroke-width="0.1">0</text>
<text x="370.6" y="574" font-size="11.2" stroke="#000" stroke-width="0.1" textLength="19.2" lengthAdjust="spacingAndGlyphs">-0.5</text>
<text x="368.4" y="542" font-size="16.3" stroke="#000" stroke-width="0.2" textLength="88.6" lengthAdjust="spacingAndGlyphs" transform="rotate(-90 368.4 542)">kappa value</text>
<text x="341" y="413.5" font-size="14" stroke="#000" stroke-width="0.2" textLength="13.2" lengthAdjust="spacingAndGlyphs">(i)</text>
<text x="404.7" y="622.9" font-size="14.8" stroke="#000" stroke-width="0.15" transform="rotate(-49 404.7 622.9)" textLength="57" lengthAdjust="spacingAndGlyphs">ES-8 WT</text>
<g transform="rotate(-49 436.6 656.5)">
<text x="436.6" y="656.5" font-size="14.8" stroke="#000" stroke-width="0.15" textLength="32" lengthAdjust="spacingAndGlyphs">ES-8</text>
<text x="473.6" y="656.5" font-size="14.8" font-style="italic" stroke="#000" stroke-width="0.15" textLength="54" lengthAdjust="spacingAndGlyphs">SLFN11</text>
<text x="527.6" y="650.5" font-size="8.5" textLength="10" lengthAdjust="spacingAndGlyphs">-/-</text>
</g>
<line x1="560.6" y1="415.1" x2="560.6" y2="569" stroke="#6e6e6e" stroke-width="1"/>
<line x1="560.1" y1="568.5" x2="681.7" y2="568.5" stroke="#6e6e6e" stroke-width="1"/>
<rect x="580.9" y="426.3" width="40.5" height="2.8" fill="#e0585e" stroke="#222" stroke-width="0.8"/>
<line x1="637.3" y1="553.4" x2="678.2" y2="553.4" stroke="#111" stroke-width="1.6"/>
<text x="544.7" y="421" font-size="11.2" stroke="#000" stroke-width="0.1" textLength="13.2" lengthAdjust="spacingAndGlyphs">25</text>
<text x="544.7" y="450.7" font-size="11.2" stroke="#000" stroke-width="0.1" textLength="13.2" lengthAdjust="spacingAndGlyphs">20</text>
<text x="544.7" y="480.8" font-size="11.2" stroke="#000" stroke-width="0.1" textLength="13.2" lengthAdjust="spacingAndGlyphs">15</text>
<text x="544.7" y="512.3" font-size="11.2" stroke="#000" stroke-width="0.1" textLength="13.2" lengthAdjust="spacingAndGlyphs">10</text>
<text x="557.9" y="543.3" font-size="11.2" text-anchor="end" stroke="#000" stroke-width="0.1">5</text>
<text x="557.9" y="574" font-size="11.2" text-anchor="end" stroke="#000" stroke-width="0.1">0</text>
<text x="536.2" y="501.4" font-size="16.3" stroke="#000" stroke-width="0.2" transform="rotate(-90 536.2 501.4)">IAE<tspan font-size="10" dy="3.2">50</tspan></text>
<text x="523.6" y="413.5" font-size="14" stroke="#000" stroke-width="0.2" textLength="13.7" lengthAdjust="spacingAndGlyphs">(j)</text>
<text x="573.2" y="622.9" font-size="14.8" stroke="#000" stroke-width="0.15" transform="rotate(-49 573.2 622.9)" textLength="57" lengthAdjust="spacingAndGlyphs">ES-8 WT</text>
<g transform="rotate(-49 605.5 656.5)">
<text x="605.5" y="656.5" font-size="14.8" stroke="#000" stroke-width="0.15" textLength="32" lengthAdjust="spacingAndGlyphs">ES-8</text>
<text x="642.5" y="656.5" font-size="14.8" font-style="italic" stroke="#000" stroke-width="0.15" textLength="54" lengthAdjust="spacingAndGlyphs">SLFN11</text>
<text x="696.5" y="650.5" font-size="8.5" textLength="10" lengthAdjust="spacingAndGlyphs">-/-</text>
</g>
</svg></body></html>
